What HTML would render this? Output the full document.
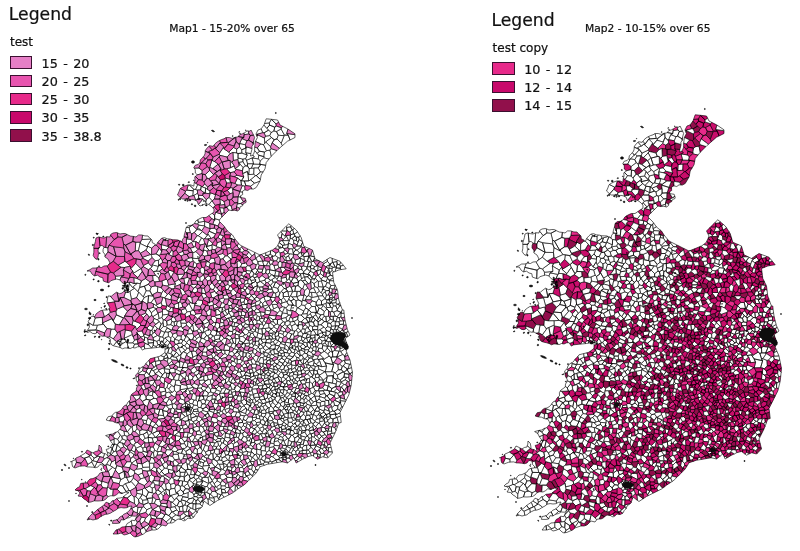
<!DOCTYPE html>
<html lang="en"><head><meta charset="utf-8"><title>Maps - over 65</title>
<style>
html,body{margin:0;padding:0;background:#fff}
body{width:800px;height:551px;position:relative;overflow:hidden;font-family:"DejaVu Sans","Liberation Sans",sans-serif;color:#111;-webkit-text-stroke:0.22px #111}
svg{position:absolute;left:0;top:0}
.ttl{position:absolute;top:21.7px;font-size:10.7px;line-height:14px;white-space:nowrap}
.lg{position:absolute;width:160px;height:150px}
.lt{position:absolute;left:-1.2px;top:0.7px;font-size:17.2px;line-height:20px}
.ln{position:absolute;left:0;top:30.6px;font-size:12px;line-height:16px}
.row{position:absolute;left:0;height:12px;white-space:nowrap}
.sw{position:absolute;left:-0.4px;top:0;width:20.6px;height:10.6px;border:0.8px solid #3a1030}
.lb{position:absolute;left:31.6px;top:-0.8px;font-size:12.8px;line-height:16px;word-spacing:1.3px}
</style></head><body>
<svg width="800" height="551" viewBox="0 0 800 551">
<defs><filter id="soft" x="0" y="0" width="100%" height="100%" filterUnits="userSpaceOnUse"><feGaussianBlur stdDeviation="0.32"/></filter><path id="g0_0" d="M222.7 418.6l-2.2-2.3-2.1-.2-1.9 1.9 1.3 2.5 3.4 1.1zM210.3 379.8l2.1-1.2 .2-4.4-5.6 1 1.2 4.4zM229.9 347.2l.9-.4 1.7-3.6-2.2-.4-4.9 2.1 .6-.2zM190.6 465.7l1 2.6 .6 1.2 1.1-2.3-.1-2.4zM160 344.6l-2.2 .1-1.5 1.7 .2 1.2 1-.1 2.1-.4zM112.8 436l1.3 2.1 3.6 1.3 2.7-4.2-2.4-3.8-.4 .4-1.6 .4zM343.3 366l2.1-2.8-1.2-3-1.9 .7-2.9 3.1 2.8 2.4zM302.8 425.2l-2.5-2.3-1.6 2.2 .4 2.2 1.4-.7 3.1-.8-.7 0zM162.5 285.1l5 1.1 1.2-1.2-1.2-4.6-1.4-1.2-4.2 1.7zM297.7 308l-1.6-2.1-4.3-.7-1.5 5.8 1.9-.6 3.5 1.7 1.7-4.4zM292.7 230.1l1.3 4.2 3.6-2.3-1.4-2-2.1-1.8zM242.2 467.2l1.6 2 3-3 1.1 .3-1.2-3.5-2.5 2.4-1.7 .6zM182.9 458.5l3.5 .5 1.1-.3 .2 .2-1-4.6-2.5 .1zM258.2 263.4l-2.1 1.3-.8 3.7 2 1.5 .8-1 1.1-3.6zM315.3 319.5l1.4 1.4 1.8-1.9-2.5-4.3-3.2 2zM181.7 412.1l-.1 .4-.4 .2 4.3 3.9 2.4-.8-.7-.1-1-4-1.4 .3zM169.4 365.5l-1.4-.4-3.9 2.7 .1 1.1 5.3 .5 1.1-.8zM240.9 351.1l.3-.7-4.7 1.8 .9-.1 1.5 1.8zM252.7 420.8l-1.7 .6 2.4 4.1 2.9-.5 .2-2.4-1.9-2.1zM351.6 367.8l-.8-3.7-1.5 .2-1.3 4.5zM312.5 326.7l.1 3.9 .5-.9 4.5-.1 .3-3.1-3.4-.6zM329.3 422.9l-1.7-1.3-3 .7-.4 1 2.7 1.9 1.6 .4zM216 293.2l-1-2-4.5 1.8 1.1 4.2 2.4 1.2-.2-.6 4.9-3.5zM332.4 262.5l4.5-.8 .7-1.3-5.6-2.1zM344.7 341l-1.2-.9-.6 .4 0 1.8 .9 .5 .8-1.1zM214.3 206.8l1-1.4-3.3-4.7-3.2 3.8 2.2 1.5 1.9 1.9zM167 404.7l-.5 1.5 5.9-2.4-.9-2.7-2.4-2.5-2.8 4.4zM154.9 361.1l.6 .3 3.8-.7-1.3-3.9-3.4 .8zM328.8 303l2 .7-1.9-5 .1 1.2-2.1-.2-.5 3zM169.2 392.1l2.5 3.3 4 2.2 .4-2.6 .6-2.7-2.1-1.8-2.4 1.7zM291.1 225.7l-2.3-1.9-2.8 2.7 .6 1 4-.5zM280.7 372.3l-2.5-1.9-2 3.2 2.1 2.2zM313.5 322.3l1 3.6 3.4 .6 .3-1.5 0-3.3-1.5-.8-1.4-1.4zM326.4 340.8l1.6-3.3 .1-1.6-2.2-.2-.1 .4-1.2 1.2 .3 3 .4 1.4zM224 467.3l-1.2 2.3 3 1.7 1-1.3 1.1-3.4-.9-.6zM138.2 475l4.3-2 .2-2.5-.9-2-5.5 .6-2.3 1.6 .8 2.3zM309.6 430.7l-1.1-.5-1.8-.9-1.9 2.8 2.3 3.9 3.1-2.6zM117.2 444.9l-2.8-1.2-2.3 5.1 1.6 3 2-.6zM219.3 339l1.2-3.9-4.5 .1-2 .9 .9 3.7zM324.4 358.9l-2-.1 2.7 4.1 8.5 1.8-1-1.6-1.7-5.7-1.8-1.3zM340.1 305.4l-2.8 3.9-.3 1.3 4.2 1.9 1.2-2.7-1.4-3.7zM320.8 314.9l2.9-.4 .7-3-3.6-3-1.7-.4-2 5.1zM194.6 381.4l3.7-2.4-2.4-3.3-.5-.6-2.3 1.8-.8 2.5zM174.9 488.3l.9-3-1.4-2.1-3.9 1 .4 4.8zM305.9 347l-2.3 1.8 1.5 1 3.3 0 1.2-1.5-2.3-2.1zM279.1 267.8l-1.2-3-3.9 .7 1.1 4.7zM270 150l-3.5 .7-2.1 1.3-1 5.8 5.6 1.3 2.2-2.9 .1 0zM192.4 441.7l2.6-4.3 0-.6-1.9-2-4.1 2.8 2 4.1zM270.6 350.9l-2.2 2.4 .3 .4 1.2 1.8 2-1-1.5-2.7zM221.3 352.1l2 2.3 1.8-.8-.2-3.3-1.2 0-3.6-1 1.3 1.1zM134.6 344.1l-1.8-1.3-5.5 0 .7 5.4 2.1 .4 2.4-1.1 .8 .2zM129.8 467.8l1.7-4.2 .8-.9-2-1-3.4 0-3.6 5.1zM174.6 317.3l-2.9-1.2 .8 1-1.4 2 .8 2.4 2 .5 2.5-.9zM160.3 341.6l-1.1-1.6-2.5 1.2 1.1 3.5 2.2-.1-.7 0 1.2-.7zM257.9 333l4.6 1.6-.6-6-3.4 .3-.7 4zM313.2 365.6l2.4 .9 2.5-.6-1.7-1.8-2.6-1.5zM151.6 420.6l-3.8-3.1-1.2 3.1-.7 3.5 4 1.6-.1-.7 1.9-4.2zM260.8 164.4l-1.1-.2 .7-3.5-2.1-1.8-6.3-1.1 1.6 6.4zM154.5 449.6l2.1 2 2.8-5.7-4.4-3-.1 .5-1.8 3.5zM287.2 363.2l.9-.2 1.4-3.9-3-1.2-1.8 2.4 .3 .5zM178 493.2l.5 2.7 2.9-.3 2.3-1.6-.5-2.1-2.8-2.3-4.4 3.2zM325.4 371.9l6.2-.1 2-7.1-8.5-1.8 1.4 3.3-1.3 5.7zM280 310.6l2.4 1.9 2.5-5.4-2.6-.4-3.1 1.9zM324 327.1l1.4 1.4 2.2-1.9 .2-3.7-1.1-.8-.3-.5-2.3 0-3.2 3.3zM178.6 511.6l-1.8-1.7-4.5 2.2 3.6 2.9 2.1 .8zM195.9 500.7l-1.8-1.8-2.1 4.2 1 .6 3.1 .2zM198 486.3l1.4-.3 .2-.6-3.3-1.8 .3 .9-.3 .4 .7 1zM238.9 463.3l-3.6-3.4-.9-.8 .5 5.7-1.2-.1 5 .3-.4-1.7zM222.2 411.2l.8 2.1 2.2 1.1 1.5-1.2-1.8-3.6-.6-1.4zM246.7 455.3l.7 .5 2.6 0 1.4-3.5-3.4-.6zM286.4 446.3l4.5 2.2 1-.7-.1-1.7-1.4-.7-2.5 .2-.7 .5zM293.9 243.3l-.3-3.2-1.7-1.5-1.7-.3-.9 2.3-1.5 3.8 .7-1.1 3.9 1.6zM268.6 369.6l-.6 2.8 2.2 1.3 2.5-1.5-3.6-2.4zM335.2 373l3.2-3.1-.4-5.5-4.1-1.8-1.3 .5 1 1.6-2 7.1 2.5 .4zM332.2 426.7l1.2-3.7-.5-.4-3.6 .3-.8 2.7 .4 .7 2.4 .7zM278.8 351.4l2.4-1.2-.6-2.6-1-1.4-2.9 3.8 1.7 2.6zM219.6 386.4l-.4-.7-3.6 3.6 .8 .5 4.4 1.9 1-2.5zM280.6 342.4l0 1.1 4.3 1.7 .3-.9 .5-2.1-.4 .4-2.5-.9zM330.9 332.9l-1.1-1.1-3.8-1.5 0 1.5-.1 3.9 2.2 .2 1.3-1.4zM229.6 367l-2.3-.3-1.2 .3-.8 3.8 1.4 1.3 3.3-2.5zM145.9 311.2l-.5 2 1.5 .8 2.3 3.3 2.7-2 .3 1.7-.8-4.2-3.9-5.1zM139.5 435.8l-.7 .3 1.1 2.6 2.9 2 2.2-2.5-1.6-4-3.5 .5zM345.4 339.7l-.1-.3-1.4-.6-.5 .2 .1 1.1 1.2 .9zM153.9 318.5l3.4 1.4 1.9-1.6-1-5-5.5 3.4zM174.5 282l.8 1.8-.8 2.9 5.7-2.1 1.4-1.8-2.7-3.4zM324.5 351.5l3.2 2.4 2.7-2.5-3.1-3.4zM164.4 468l-2.9 3.5 3.1 3.3 4.1-1.7-.2-3.8-1.8-1zM164.9 331.9l3.1 .4 2.3-1 1.2-.9-4.3-2.6-2.6 4.4zM201.2 492.5l3.7 .5-.1-4.1-2.2 .3zM249.5 336.4l-.3 .5-.7 3.6 .5 .7 3.8-2-.2-1.2zM163.5 476.2l-1.9-.3-1 1.7-1.7 3.4 .5 0 4.9 1 .1-4.4zM319.1 308.1l-2.6-2.9-1.3 1.3 1.4 5.9-1.5 .7 2 .1zM117.1 332.6l-2.1-3.4-4-.2-1.3 7.8 3.7 2.1 6.2-8.6zM167.2 325l-1.7 1.6 1.7 1.2 4.3 2.6 .5-.7 1.6-3.5-2.7-1.6zM150.5 254.4l.7 .9 .4-.8 .1-6.4-3.6-1.8-2.3 3.8zM201.6 237.9l2.1 1.3 .9-.5 2.8-3.4-4.9-3.7-4.3 4.2zM318.2 325l2.7-.1 3.2-3.3-2.4-2.7-.3 .7-3.2 2.1zM332.6 363.1l1.3-.5 4.1-5.7-5.3 0-1.8 .5zM308.2 449.8l-1.5-.1 .2 .5-.8 3.7 .7 .1 3.6-1.1-.2-.5zM346.2 332.5l1.5 3.9 .1 .2 2.2-1.6-1.8-3.6zM178.5 380.1l-2.7 .2-.9 4.6 5.5 .9 1.4-1.4-1.3-1.6 .2-1.5zM301.3 360.7l-3-2.9-1.8-.6 .3 3.1 2 .2 1.1-.1zM209.4 409.9l-3.4-2.8-3 1.6-.2 1.9 4.3 1.3 1.9-1 .7-1.2zM296.5 357.2l1.8 .6 2.1-1.6-3.7-3.7-2.1 1.8-.4 .7zM151.4 369.7l1-1.3-4.7 0-.2 .3-1.4 2.6 2.9 3.4zM214 373l-1.5 .5 6.3 3.4 .1 1 .4-2.3-.2 .3-2.2-4.2zM279 345.9l-2.9-.6-.6-.6-.6 4 1.8 1.3 2.9-3.8zM169 348.4l2.3-1.2 1.7-.1-3.1-4.6-2 2.9 .1 2.5zM202 403.9l-1.4 3.7 2.4 1.1 3-1.6 .2-1.7-1.1-1.6zM309.4 378.3l1.4-1.3-3.1-2.9-1.5 .1-1.8 2.4 .7 2.3 1.3 .3zM282.4 455.4l-2.1 .1-2.3 .6 1.4 1.3 1.5 .8 1.8-1.9 .2-.3zM311.3 312.4l5.3 0-1.4-5.9-3.6 0-3 3.2zM136.7 297.7l2.1-5.5-.8-.7-3.5-3.3-4.7 3.1 1.6 7.9zM200.4 425.7l-.3 .7-.9 .5 .2 3.7 1.9 2.8 3.2-3.1-1.6-3.3zM217 461.2l-3.7-2.2-1.4 1 0 2.7 3.2 4.4 3-3.4zM217 461.2l2-1.2 .6-2.7-2.7-1.5-3.1 3.5zM260.9 458.9l-1.1 1.2 1.4 4.3 2.1-.5 1.5-1.9-.2-.5zM184.7 403.6l-2.1 .7-1.8 2.9 1.3 .3 3.3-1.1 .2 .4-.2-4.5zM341.5 387.1l2.5-2.7-2.6-2.2-.1 .4-2.3 3.7 1.8 1zM207.9 305.6l1.6 .5 3.6-1 .6-.8-1-3-5 1.3zM243 161.6l-4.4 .7 4.4 5.3 2.6-1.6zM182.6 481.2l1.9 .1-.3-4.2-.4-.4-3.9-.8 .2 1-2.3 3.3zM213.7 433.9l-.5 4.3-.1 .7 2.8 1.6 1.9-2.2-1.1-2.1-1.7-.7zM333.5 306.1l-.9-3-1.2-.7-.6 1.3-2-.7 2 4.4 1.6 .6zM190 488.3l-2.3-4.7-3.7 2.8 1.5 2.3 3.5 .4zM164.9 378.5l2-1.6-.3-3.8-1.6-.7-2.4 2.2-1.3 2.3zM303.8 420.3l-3.7-1.6-1.2 1.1 .6 1.6 .4 1.2zM313 341.4l-1.1-3-1.1-.6-2 4.5zM199.5 371.1l-2.4-.7-3.4 2.7 1.7 2 .5 .6 3-2.4zM195.8 510.9l-3.3 3.1-1.7 1.1 2.9 2.1 .3-.2 1.2-2.4 1.9-1.9zM174.9 506.6l-5.4 .8 2.3 4.5 .5 .2 4.5-2.2zM292.7 330.7l-1-4.9-1.7-1.4-3.1 1.5 .7 1 3.6 3.3zM316.3 334.7l1.5 .7 .2-5-.4-.8-4.5 .1zM344.7 349.1l1.8 1 .8-4.2-2.3-.4-.5 2zM301.4 370.4l2.1-.6 .2-1.7-3-2.3-.5 1.3 .8 4.1zM193.8 495l0 1.6 2.6 .1 2.5-1.9-.8-.7-2.5-1.2zM317.9 334.4l2.6 3.2 3-2.8-1.6-2.2zM336.5 342.9l-.3-.5-.2 1.5-.3 .6 2.5 0 0-.3zM198.5 478.1l3.8 3.5 .5 0-1.1-1.5 .6-2.5-2.6-2.1-.6 .5zM190.5 412.7l1 1.6 .9-1.4 .8-1.4 .5-1.9-1.5-1.6-1 2.2zM260.8 442.5l-2.1 1.1 2.9 2.6 3.2-.5-1.9-2.6zM209.7 409.7l-.7 1.2 4.8 1.8 1-3.5-.9 0zM188 482.2l.9-2.2 1.4-1.1-1.6-5.1-4.5 3.3 .3 4.2zM329.3 295.5l.5 2.4 2.5-.1 1.2-.2-1.6-2.9zM183.1 340.4l.9-.1 1.8-3.1-2.5-3.5-2.1 2.2-.3 3.4zM339.1 332.1l1.1-.3-2.5-2.3-1.4 .2 0 2.5zM205.6 401.4l-1.7-2.4-3.6 1.4 1.7 3.5 3.1-.1zM209 498.7l-1.1 .5 .4 5.1 1.7 1.2 4.1-2.8zM186 372l-6.2 2.3 3.7 3.5 1.1 1.2 1.8-3.8zM111.1 455l2.6-3.2-1.6-3-.1-.8-1.5 5.4-.4 1.9zM339.8 341.6l.7 1.4 1 .2 .5-.7-.4-.7-1.8-.3zM314.6 286.5l-1.1 1.4 2.4 4.8 .7 .7 3-2.1-2-3.8zM273.5 349.3l-4-1-.9-.4 .6 .7 1.4 2.3-.2 .9zM168 357.5l.1 1.1 2.1 0 2.4-4-1.9-.8-2.9-1.1-1.7 .9 .3 .3zM304.7 351.9l.4-2.1-1.5-1-2-.3-.7 1.7zM335.2 336.1l.6-1.9-2.6-.6-.6 3.2 2-.3 .6 .1zM234.4 459.1l.9 .8-.2-1-2.5-3.5-2.6 .3-1.5 4.9 1.8 .3zM303 343.8l-2.6 2.4 1.2 2.3 2 .3 2.3-1.8zM220.5 318.5l.1 4.2 3.2 0 .2-2.3-3.2-2.2zM200.9 411.8l1.9-1.2 .2-1.9-2.4-1.1-2.2-.1-.8 1.2 .5 2.9 1.1 .8zM203.5 477.3l-1.2 .3-.6 2.5 7.4 3.8-1-6.6zM244.2 317l-.1 1.7 .9 2.6 3.4-1.8 .5-2.2zM142.3 271.4l-1.1-3-.3 .2-7.9 4.8 4.9 4.3zM265.9 457.7l-.6-2.5-2.9 1.4-1.5 2.3 3.7 2.6zM294.1 383l-.7-.9-1.2-2.2-1.4 .1-2.4 .5 3.8 3.4 0 1.6zM338.9 338.6l.6 .2 .6-.7-1.5-1-.3 .4 .1 .8zM210.2 288.9l3.2 .8 1.9-3.4-1.1-.4-1.8-3.2-3.3 2.9zM335.1 321l.1 4.8 .6 0 3 .2 .8-1.5-.7-3-3.1 .3zM146.8 509.8l4.9-2.3-1.9-3.9-1.5-.9-4.7 2 .1 2zM336.7 356.9l2.5-5.9-4.6-.5-2.1 .8 .2 5.6zM333.4 332.2l-.1-2.3-2.4-1.1-1.1 3 1.1 1.1 1.6 .7zM245.4 144.8l1.6-4.1-5.2-2.2-2.6 5.9 .4-.7zM280.3 436.6l-.8-1.4-3-.8-2 2.6-.2 .2 1 .8 3 .5zM135.7 525.5l1.7-3.3-1.9-3.1-.6 1.6-3.2-.5-.5 .6 .9 5.3zM171.5 496.1l3.1 4 1.8-2.2 2.1-2-.5-2.7-8.3 2.5zM138.4 373.8l4.2-3.1 .8-3.1-1-.6-1.8 .8-1.6 2.2-.9 2.7-.3 .3zM249.8 330.3l3.4 1.9 1.6-.8 .7-.9-3.3-2.1-1.5 1.7zM198.9 490.6l1.4-.7 .4-.1-.9-.7 0-.1-.4 .3-.3 .6-.2 .6zM132.9 431.3l2.2 .4 1.9-3.1-.7-4.1-2.7 1-1.6 1.2zM339.2 351l-2.7 6.3 6.4-2.8-2.1-2.8-.8-1.5zM90.8 485.4l-1.3 .7-4.2 2.5 1.8 2.2 3.6 .4 3.7-3.8zM175.8 411.1l1.4-2-.2-1.1-2.2 1.3-.8 3.2zM185.5 488.7l-2.3 3.2 .5 2.1 4.3-1.2 1.5-1.4-.5-2.3zM197.5 405.5l0-3.9-1.6-1.6-1.9 0-1.4 3.7 1.2 1.5zM216 323.1l.7-4.7-1.7-2-3.6 0-.4 2.5 2.8 3.5zM325 342.9l-2.2 1-.2 1.8 4.5 .6 .5-.1 .6 .4zM319.8 337.5l.7 .1-2.6-3.2-.1 1-1.5-.7-1.5 0 .2 2.8-.2 2.5 2.4 .5 1.6-2.9zM164.1 367.8l.6-.5-6.1 2.6 .1 1.2 3.9 3.5 2.4-2.2-.8-3.5zM197.1 489.8l0 .5 .1 0 1.7 .2 .2-.6-.7-.7-.8 .3zM251.6 469.4l1.9 3 2.2-2.9-.3-2.3-1.8-1.7-.9-.3-.3-.5zM185.5 308.3l-4.3 1.8 .9 4.1 3 .1 2-2.5zM202.7 440.2l0-3.8 0 .2-5.2 3.5 1.2 .8-.9 0 3.5 .8zM315.7 351.1l-2.9-.8-1.4 2.5 1.4 1.2 1.6 .9 1.6-2.8zM190.3 478.9l3.8-1.7 .5-2.4-4-.3-1.5 .7zM180.9 354.3l-1.7 1-3.2 1.9 1.9 3.4-.3 1.3 2-1 1.1-3.2zM194.8 486.4l-1.3-1-1.3 .4 1.3 3.2 2.1-.4 .2-.7zM101.6 481.7l-5.5-3.5-.6 3.6 2.4 3.2 3.3-.2 1.1-3.6zM220.4 406.4l1.8-.2-1.3-2.9-2.8-.1 .1 .6-.1 2zM300.3 355.1l-.7-4.3-.1 .3-1.9 .2-.9 1.2 3.7 3.7zM269.9 379.6l-1.6 .1 .9 4.5 1 0 2.6-2.3-.9-1.9-2.8-.5zM328.5 316.2l-2.7 .2 .6 5.2 .3 .5 3.6-2.7-.8-2.6zM287.9 350.5l1.8-1.7-1.1-.6 .5-.6-3.9-3.3-.3 .9-.2 2.7 .1 1zM331.4 302.4l1.2 .7 3.4-.3 .5-4-1.4 .9-2.8 .5zM329 299.9l.8-2-.5-2.4-.9-.6-2.1 .2-1 3.7-.9 .2 2.5 .7zM169.8 383.3l-1.6 0-1.3 4 1.8 1.8 3.1-3.7zM321.6 401.4l-2.5-2.6-2.5 2.8-.7-.5 .6 1.3 3.9 .6zM286.8 398.3l.3-.9-2.5-.9-1.9 1 2.4 3.5zM195.3 340.7l2.1 1.3 1.4 1.4 1-2 2-3.4-1 .2-.7-1.8-3.4 2zM296 392.8l-1.9 0-2.5-2.1-1.7 2.7 .4 .5 .9 .9zM324.1 321.6l2.3 0-.6-5.2-1.7 .1-2.4 2.4zM264.1 428.9l-1-2.2-3.7 1.6 .5 1.4 2.4 2.7zM182.8 251.3l-4.8 2 .7 .8 2.5 1.9 3.2-1.6zM217.4 493.4l-.2 3.1 1.3 2.5 2.4-4.2zM187.7 505.7l-1.8 6.3 2.8-.7 0-1.1 2.2-2.2zM330.6 264.3l-.6 0-2.5-3-3.8 2.3-.8 1.1 2.9 2.1zM236.5 437.1l2 .7 1.6-4-4.1-1.3zM309.6 348.3l.5-.7 1.2-2.8-2.8-2.9-1.5 .9 .3 3.4zM349.3 364.3l1.5-.2-.8-4.1-.1-.2-4.6 .3-1.1 .1 1.2 3zM244.5 250.6l-2.9-3.6-2.4 2 1 .2-.7 2.4 2.6 .9zM322.3 348.4l-3.4-.2-1 2.9 3.3 2 2.9-1.6zM142.2 494.5l.3 .2 0-5.4-5.9 1.5 .2 2.5zM232.9 409.6l.3 2.3 3.8 .1 2.6 .8-.4-.7-1.1-3.6-4.2-1.4zM336.1 384.2l.9-3.1-1.6-2.1-2.5-1.5 .1-1.8-.5 7.5zM322.2 341.1l-3.4-3.5-1.6 2.9 .1 2.1 2.1 .9 2.1 .3zM331.4 302.4l.9-2.2-.4-.6-3-.9 1.9 5zM156.2 365.5l-.2 .1-2 1.8-1.6 1-1 1.3 2.2 .9 3.8-2zM200.7 487.6l-1-.2-.6 .5 .7 1.1zM288.7 299.4l1-2.4-.9-.5-5.6 0 .3 1.3 3.5 4.5zM297.6 346.5l-1.9 .6-.8 2.6 .5-.8 2.2 2.4 1.9-.2zM182.1 485.6l-1.9 .6 .2 3.4 2.8 2.3 2.3-3.2-1.5-2.3zM342 345.1l-1.6 .4-.5 .4 .2 2.1-.5 .9 3.8-1.2-1.6-2.3zM309.7 321.9l-1.3-.1 1.1 3.5 3 1.4 2-.8-1-3.6-2.5-.7zM170.7 373.2l4.6-.5-.1-3.7-2.2-.9-2.4 .5-1.1 .8-.3 4.4 .8-1.9zM287.9 445.6l.6-5.3 .5-1.5-1.4-.3-3.7 2.7 1.9 4.3 1.4 .6zM322.4 358.8l2 .1-4.5-4.3-1.8 1.6-.6 2.6 .5 .8zM285.2 448.9l-.3 1.8 1.1 1.4 1.7 .4 .6-.9-2.5-2.9zM298.1 434.8l2.3 .2 1-1.6 .4-2.4-2.5-1.1-1.1 2.8zM327.7 353.9l1.4 2.2 1.8 1.3 1.8-.5-.2-5.6-.1 .8-2-.7zM318.2 321.7l3.2-2.1-2.1-2.5-.8 1.9-1.8 1.9zM311.2 418.7l.9-.1 1.3-3.7-1.7-.3-2.6 .4zM176 357.2l-3.1-.5-.3-2.1-2.4 4 2.3 1.4 5.4 .6zM300.9 350.2l.7-1.7-1.2-2.3-2.2-.3-.6 .6 1.9 4.6 .1-.3zM204.8 278.4l-.9-3.7-4.2 2.7 .3 3.9 2.4 .2 2.7-3.3zM284.1 336.8l1.8-.6 2-3.5-2.1-1.1-1.8 0-1.2 2.6zM224.2 387.8l-.2-3.2 0 1.4-4.4 .4 2.2 2.8zM329.8 331.8l1.1-3 .2-1.4-3.5-.8-2.2 1.9 .6 1.8zM221.9 335.8l-1-.3-.4-.4-1.2 3.9 1.6 2.5 .1-.1 3.1-3.2zM284.8 455.5l.1-1-.2-.5-1.1 .5-.8 .9zM336.8 336.5l1-1.3-.9-1.8-1.1 .8-.6 1.9zM181.4 370l4.2 1.8 2.8-3-.4-.9-6-.6 1.3 .4zM202.2 418.3l-4.1-2.4-.6 .5-1.1 3.9 2.3 1.3 .5 .1 2.3-1.7zM342.5 329.5l1.5-4.2-.5-1.1-3.9 .3-.8 1.5-.4 1zM310.7 335.6l-2.9-1.9-2 4.6 .6-.1 4.1-1.5zM344.4 356.9l3.6-1.6-1.3-3zM149.8 425l3.1 2.2 3-3.7-.1-.3-4.1-2.4zM173.6 346.3l2.6 4.2 2-2.8 1.6 0-3.3-3.5-1.3 .1zM216.4 246.1l-4.2-1.6-.3 .6 .1 4.4 3.1 .3 2.5-2.8zM335.4 379l2.8-.4-.9-3.6-2.1-2-1.1-.8-1.2 5.3zM193.9 490.4l1.2 .4 1-.9-.5-1.3-2.1 .4zM319.3 375.3l5.8-3.6-6.4-2.8-1.5 1.9 .6 3 1.6 1zM189.6 424l3.3 .1 .7-1.5-.5-.9-1.5-1.4-3.1-.9zM273.1 400.5l-.4-.4-1.8-2.9-2.5 1.5 1.1 2.8-.6 .6zM190.3 478.9l-1.4 1.1 3.8 2.8 2.8-3.2-1.4-2.4zM295.3 341.9l-.5 3.9 .9 1.3 1.9-.6 .6-.6 .6-3.5zM302.4 328.7l-1.3 2 0 .7 1.8 2.7 2-1.2 .6-3.6zM303 343.6l0 .2 2.9 3.2 1.4-.8-.3-3.4-2.6-.8zM326.4 308.5l-3-2.9-2.6 2.9 3.6 3 2.6-2.5zM180.1 419.8l-4.6 3.7 1.6 .6 2.2 1.7 1.9-.2 .5-5.9-1.4 .2zM342.8 331l2.3 1.4 1.1 .1 2-1.1-.7-1.4-.4-1.6zM246.9 422.6l-3.3 1.1-.3 2 2.6 1.7 1.4-3.7zM295.4 348.9l-.5 .8-4.3-2-2 .5 1.1 .6 2.1 3.5 2.4 .5zM272 461.9l-1.8-.6-1.5 .8-.4 2 3.9-.6zM198.3 493.3l2.8-.9-2-1.5-1.2 1zM160.7 392.1l.5 4.1 4.3-1.2 .6-2.2-.4-1.8zM220.7 456.5l1.2-3.6-2.5 1.1-3.4 .3 .9 1.5 2.7 1.5zM160.8 493.3l2.4 2.6 3.3-2.4-1-4.3-1.2 1.2-2.9 2zM313.5 373.8l1.9 .6 2.4-.6-.6-3-3.2-.8zM303.6 425.8l2.1 2.8 1.2-3.3-.4 .1-3.6 .4zM273.9 443.7l.4 1.7 5.3 .5 .4-2.5-2.1-2.7-3.8 1zM228.7 469.9l2.7 1 .6-2.9-1.2-1.1-2.9-.3-1.1 3.4zM269.2 348.6l-.6-.7-3.5-2.7-1.4 2-1 .7 2.9 2.5zM341.7 338.8l.5-1.7-.1-.5-.4-.5-.8 .6-.7 1.7 .8 .3zM312.8 359.8l-.6-1.8-2.7-.1-1.7 2.7-.4 .3 .6 2 6.1-2.4zM165.5 309.1l2.8 2.2 3.1-3.8-3-1.1-1.9-2.3 .2 2.3zM168.5 336.6l2.3 1.2 1.6-1.6 .3-2.1-2.4-2.8-2.3 1zM275 386.6l.1 3.3 2.7-1.3 1.5 .6-.4-1.5-1.9-1.6zM336.7 340.3l.1 .2 1.4 .8 .4-1.1-.1-.3-1.2-.6zM291.4 364.2l-.1-1.3-3.2 .1-.9 .2-1 2.1 1 1zM338.8 326l-3-.2-1.3 3.8 1.8 .1 1.4-.2 .7-2.5zM199.7 487.4l1 .2 1.4-2.3-1.2-.5-1.3 .6-.2 .6zM337.3 316.7l3.5-4.4-3.8-1.7-3.4 1.4 1.5 4.1zM287.6 326.9l-.7-1-2.1-1.5-2.7 2.1 3.4 2.9zM284.2 435.5l-1.7-2.4-3 2.1 .8 1.4 2.3 .8zM338.9 321.5l.7 3 3.9-.3 0-3.5-3.5 .2zM155.7 374.5l-2.1-3.9-2.2-.9-2.4 5 2.6 1.7zM157.9 451.6l-.8 3.6 5.4-.3 1.1-2.4-2.6-1.1zM176.4 321.1l-2.5 .9 .7 4.1 1.8-.8 1.1-4zM261.9 328.6l.6 6 .8-.7 1.3-.2 1.7-2.7-1.3-2.5-2.1-.1zM197.3 470.5l3.4 2.8 1.5 0 2.4-2.1-1.1-2.4-6.2-.8zM308.5 309.6l-1.3 4-.1 2.7 3.2-2.5 1-1.4-2.7-2.7zM112.6 467.2l-4.3 3.9 1.5 5.4 2.5 .3 3.1-6.6 .2-1.1zM310.8 337.8l1.1 .6 3.1-.9-.2-2.8-4.1 .7 0 .2-.2 1.1zM121.2 276.9l2.8-1.5-8.6 .8 .1 3.1 1-.3 3.5 1zM187.2 406.1l1 .7 1.4 .2 .7-.5-.8-1.7-1.5-.3zM340.8 313.3l.2 3.4 .6 1.4 3-1.1-.5-3.8zM250.3 395l3.7 .2-.8-.8-1.1-3.9-2.9 1-1.8 1.7 .6-.5zM188.5 419.4l3.1 .9-.5-2.1-.6-4.3-3.3 1.8 .7 .1 .5 4.8zM246.7 438.3l.5 2.6 2.1 .1 1.4-2.7-1.4-1.7zM299.7 390.7l.2 1.8 1.8 1.5 .9-3.4-3.3-.7zM164.8 474.8l-.2 0-3.1-3.3 .3-.8-2.6 3.3 2.4 1.9 1.9 .3zM301.6 279l-1.2 1 1.9 .9 3-.6-.5-3.3-.8-.7zM196.1 503.9l-3.1-.2-.3 5.3 3.2 1.3-.1-1.4 .2-4.9zM165 343.9l-.9 0-1.1-1.9-2.7-.4 .2 2.3 2.5 1.4zM307.7 374.1l1.8-2.7-.2-1.5-3.9 1-.6 2.4 1.4 .9zM331.7 341.3l-2.1 .1 1.7 4.4 2.4-2.4-.4-1.3-.3-.6zM156.3 346.4l-3.2-1-1.6 2.7 5-.5zM336.7 340.3l.6-1 0-.2-.6-.5-.4-.1-.9 .5 .3 1zM333.5 320.3l-1.2 1.3 2.8-.6 .7 .8 1.8-4.6-.3-.5-2.2-.6-2 0zM197.3 491.6l-1.3 .8-.4 .5 2.5 1.2 .2-.8-.4-1.4zM336.5 342.9l1.7 1.3 .7-.4 0-1.7-.4-.5zM181.4 326.4l.8 1.8 4.5-2.8-.5-2.3-5.4-.1zM272.8 402.7l.3-2.2-4.2 1.6 1.5 2.9zM321.6 366.7l4.9-.5-1.4-3.3-2.7-4.1-4.4 .8 1.7 1.5zM321.9 332.6l1.6 2.2 2.3 1.3 .1-.4 .1-3.9zM315.6 377.6l3.3-.1 .5-2.7-1.6-1-2.4 .6zM200.4 425.7l2.5 1.3 2.1-1.2-.9-3zM196.6 484.5l-3.7-1.2 .6 2.1 1.3 1 1.5-1.5zM147.9 377.3l3.7-.9-2.6-1.7-2.9-3.4 .1 1-2 2.5 1 3.3-.2 .3zM251.3 168.2l-2.2 .4-.4 6 5.1-.3 .3-6.3zM239.6 285.3l2.7-1.7-2.4-3.7-2.4 1.8 .1 2.9zM287.8 291.9l1 4.6 .9 .5 .9-.8 2-4.5-.1-.8zM278.1 340.6l.6 .3 1.9 1.5 2.2-.7-.1-3.7-3.2-1zM190.3 351.5l-1-3.3-2.4-.1-1.6 2.5-2.2 1.1 4.2 2zM312.2 358l1.1-1-5.8-2.3-.1 1.6 2.1 1.6zM314 369.8l-4.7 1.2 3.7 4.9 .5-2.1zM162.6 374.6l-3.9-3.5-3.5 2.5 2.7 2 3.1 1.9zM287.6 373.4l.5-1.9 1.6-2.8-.5 .6-4.5 1.2 1.2 1.3zM163.5 239.8l4.7 .9 1.3-1.7-2.2-.2-2.6-1.1-2.3 .3zM275.1 389.9l-.1-3.3-1-.3-1.3 .3-2.3 3.5 1 .7 3.3-.9zM192.3 434l-3-1.1-1.2-.7-.8 4.9 .4 0 1.3 .5 4.1-2.8zM296.5 365.7l-4.8-.8-.1 3.9-.4 1.3 3.9-2.4zM195.1 267.7l1.3-1.1 .5-2.7-2.9-2.2-1.3 5.5zM274.8 344.7l1.3 .6 2.9 .6 1.6-2.4 0-1.1-1.9-1.5zM303 343.6l1.4-1.6-1.8-.5-.9-1.8-3.6 2.2 .2 .9zM282.2 356.4l2.4-.4-.4-3.8-.1 .5-3.2 .9 .3 2.3zM187.7 410.9l2.8 1.8 .7-2.5-1.7-.8zM195.1 490.8l-1.2-.4-1.6 2.2 1.5 2.4 1.8-2.1 .4-.5zM151.6 503.5l2.7-.1 1.8-3.9-4-3.6 .7 2zM202.5 450.9l.8-1.1 1.8-4.3 .1-.6-3.2-1.5-1.1 4.8zM277.8 388.6l-2.7 1.3-.4 0 2.3 3.3 0-1.1zM335.2 325.8l-3.6 .3-.5 1.3-.2 1.4 2.4 1.1 1.2-.3 1.3-3.8zM186.3 408.1l1.3 .5 .1-.3 0-.4-.9-.4zM230.7 390l1 2.6 4.3-1.4-1.4-1.7-2.9-.6zM337.3 339.1l1.1-.8-.1-.8-1-.3-.6 1.4zM123.8 431l.8 4.5 2.5 .9 2.4-1.3-1.9-3.6-.7 .2zM271.5 304l-2 1.7-.7 .6 2 3.7 1.5 .2 1.4-1.3-1.3-4.4zM201.1 492.6l.9-.6-.8 .5 1.4-3.3-.3-.1-1.6 .7-.4 .1zM154 367.4l2-1.8-.5-4.2-.6-.3-3.7 1.8zM319.4 380l3.8 .2 .3-.1-4.2-4.8-.4 2.2zM281.3 450.5l-.9-2.1-1.6-.4-1.9 3.1 .2 .5 3.2 .1zM333.4 338.9l-2.1 1.3 .4 1.1 1.3 .2 1.2-1.3-.5-1.2zM164.3 346.4l.5-.1 0-.1 .8-1.5-.6-.8-2 1.4 .4 .1zM198.6 333.2l3.8-1-3.5-3.9-1.7 2.4zM324.6 337.3l1.2-1.2-2.3-1.3-2.8 2.7zM163.4 345.4l-1 1.2 0 .1 1.9-.3zM340.1 341.1l1.4-.8-.8-1-.8 .6-.2 .2zM336.2 332.2l.7 1.2 .9 1.8 .3 .6 .8-1.4 .2-2.3zM183.5 518l-2.8 1.4 .5 0 2.8 1.6 1.4-.8zM197 485.9l-.7-1-1.5 1.5 1 1.5 .4 0zM301.8 336.7l3.8 1.9 .2-.3 2-4.6-3-.2 .1-.6-2 1.2zM165.5 489.2l1.1 .2-1-5.2-1.8-1.9-2.7 4 3.2 4.1zM182 367.3l6 .6-.4-1.5 .2-2.5-2.8-2.1-1 .8zM321 292.7l1.4 1.3 2.7-2.1 1.3-1.2-3.1-1.7zM198.4 489.2l.3-.4-.3-.9-.4 0-.4 0 0 1.6zM178.9 343.4l2.7-.2 1.5-2.8-2.2-1.1-2.2 1.2zM117.2 444.9l-1.7 7.4 4.6-2.3 .7-1.6-3.4-3.6zM311 321.6l2.5 .7 1.8-2.8-2.3-2.5zM164.1 357l-.6 2.1 4.5-1.6-1.6-3.6zM152 264.8l6.3 1.8 1.9-1.5-1.7 .5 .1-5.5-3.4 .7zM221.5 460.6l1-3.1-1.8-1-1.1 .8-.6 2.7zM324.9 427.5l2-2.3-2.7-1.9-2.3 3.5 0 .8zM282.3 452.6l.2 1.2 .6 .2 .2-.7 0-.4zM198.9 373.3l-3 2.4 2.4 3.3 .3 .1 2.9-2.8-.5-1zM313.4 346.6l2.1 .4 0-3.6-2.6-.9-.8 2.5zM338.1 335.8l.7 .2 1.8-1.3-1.7-.3zM152.8 480.6l-.5 2.3-3 3.3 2.9 1.9 2.6-1.1 .1-2.2zM114.2 445.1l0-6-3.9 1.5 .3 .6 1.9 2.4-.3 .7zM340.1 348l-.2-2.1-1.6-.6-.7 1.6zM197.6 408.7l-3.9 .9-.5 1.9 4.9 .1zM186.2 424.3l-3.5 1.1-.1 2.6 1 1.4 5-1.9-.3 0zM286.5 236.1l-3.1 3.3-.4 1.2 5.8 .1zM172.1 518.8l-.2-1-.9-.3-4.9 4.4 1.6 1.9 .6-.7 2.1-.1zM179.6 367.4l-1.7-.5-1.5 2.7 4.5 2.3 .5-1.9 1.9-2.3zM197.6 487.9l-1.1 0 .6 1.9 .5-.3zM190.3 406.5l-.1 1 2.3 .2 1.3-2.5-1.2-1.5-2.7-.2-.4 1.3zM328.8 303l-3.2-.3 1.1 4.9 4.1-.2zM301.7 339.7l.9 1.8 3-2.9-3.8-1.9-.6-.7zM290.5 412.5l-2.2 .8-.3-.6 .1 5.2 .1 .3 3.4-.2zM222 494.5l-1.1 .3-2.4 4.2 .5 .8 5.2-2.7zM309.6 348.3l-1.2 1.5 .2 1.1 2.8 1.9 1.4-2.5-.1-1.9-2.6-.8zM334.6 336.5l-2 .3-.6-.6 .4 .7 1 2 .3 .1 .5-.5zM333.2 333.6l-.7 0-1.6-.7-1.5 1.6 2.6 1.7 .6 .6zM185.5 416.6l-4.3-3.9-1.3 5.3 .2 1.8 .2 .1zM348.8 381.9l.9-1-1-3.4-2.2-.1-1.3 2.5 2.3 1.3zM291.8 352.3l-2.1-3.5-1.8 1.7-.9 2.4 2.8 .8zM152.4 451.9l-2.3 5 1 .4 2.5 .8 .8-.6-1-4.3zM168.8 348l-3.8-1.7 0 3.1zM188.4 408.8l1.2-1.8-1.4-.2-.5 1.1 0 .4 .6 .4zM185.8 408.4l1 1.3 .8-1.1-1.3-.5zM307.8 360.6l1.7-2.7-2.1-1.6-2.7 2.5zM336 425.7l-1.2 1.9 1.1 3.1 1.5-4zM149.4 463.3l4.5 0 1.5-.8-1.8-4.4-2.5-.8-2 4.8zM270.8 310l-2-3.7-3.7 2.6-.1 1.1 6 1.2zM237.4 358.9l-3-.2-.2 2.9 2.4 2.8 .6-.4 .1-4.3zM212.1 471.2l-1.7-2.8-1.6-1.6-1.7 5 1.2 .5 1.7 1.6 2.3 1.3zM142.7 527.7l1.3-.4 2 3.9 4-6-1.6-.6zM308.1 400.5l-2.2 1.9 1.3 2 3.7 1.3 .5-1.4-2.1-3.5zM220.8 482.7l-3.6-1.8-3 2.8 1.4 3.3 .9 0 4-2.9zM167.9 345.4l-2.3-.7-.8 1.5 .1 .1 .1-.1 0 .1 3 1.3zM200.7 502.8l-2.6-3.3-2.2 1.2 .2 3.2-.1 .1 4 0zM183.8 476.7l.4 .4 3.9-2.8-2.7-4.2-.2 2zM343.4 339l.5-.2-.3-.5-1.4-1.2-.5 1.7 .1 .3zM112 448l.1 .8 1.7-3.9-1.6-.6-1 1.9-1.1 1.2zM339.5 264.9l.9 1.3 3.1-.8-2.9-3.4zM318.4 414.7l-2.2 1.4 .9 3 2.8-.2 .2-.6 .2-2.9zM199.1 489.9l.3-.6-.7-.5-.3 .4zM195.8 508.9l.1 1.4-.1 .6 1.3 1.8 .1-.1 .8-2.6 3.3-2.5zM283.3 453.3l1.3 .1-.7-1-.6 .5zM196.5 487.9l-.3 0-.4 0-.2 .7 .5 1.3 1 .4 0-.5zM265.4 374.2l-.5-1-.1 2.9-.5 2.5 3.6-.5 .6-2.5zM159.6 347.1l2.8-.4 0-.1-2.5-1.6zM173.1 470.2l-4.6-.9 .2 3.8 3.6 .5 1.9-2.9zM213.5 496.9l-2.9-2.6-1-.4-.2 4.1 4.7 .1zM163.5 359.1l.3 .9 3.6 1.6 .7-3-.1-1.1zM132 515.2l-2.4 .2-3.4 3 .2-.2 3.1-.6 2.5-1.6 .4 0zM180.5 373.1l-1.2 1.6-.8 5.4 2.2 1.2 2.8-3.5-3.7-3.5zM343.5 340.1l-.1-1.1-1.6 .1 .2 1.2 .9 .2zM200.7 489.8l1.6-.7-1.6-1.5-.9 1.5zM197.3 491.6l.6 .3 1.2-1-.2-.3 0-.1-1.7-.2zM280.5 454.6l1.2-.8 .2-1.1-1.6-.4zM271.1 339l-.3 3.7 2.7-1.2 2.2-2 .4-1-3.1 .4zM110 434.4l-.1 0-4.3 1.2 3.2 1.9 0 .1zM171.7 361.2l-3.4 3.1-.3 .8 1.4 .4 4.3-1.3zM223.7 464.1l-4.5 0 1.6 4.6 2 .9 1.2-2.3zM198.2 497.8l-1.8-1.1-2.6-.1-1.5 1.5 1.8 .8 1.8 1.8 2.2-1.2zM256.3 407.7l.8 1.6 .9 1.8 2.4-2-.4-2.2zM257.5 315.6l-1.4-1-3 .9-.2 1.6 2.8 3.2zM148.3 502.7l-.4-3.1-5.4 .5 .3 4.3 .8 .3zM340.7 339.3l.3-.6-.8-.3-.1-.3-.6 .7 .4 1.1zM318.9 348.2l-1.6-1.2-.9-.8-.7 4.9 .3 1 1.9-1zM293.5 417.4l-1.9 .6 1.3 2.4 2.8-.3 .3-1.2zM330.9 316.5l-1.4 .3 .8 2.6 3.2 .9-.4-4.2zM284.8 348.9l-.1-1-4.1-.3 .6 2.6 1.9 .3zM162.4 309.1l.1 2.3 0 3.7 6.2-.9 .3-2.7-.7-.2-2.8-2.2zM313.8 362.6l2.6 1.5 3.3-3-1.7-1.5-.5-.8-4.7 1 1.3 .7zM311.2 365.8l-.8 .9 4 3.1 1.2-3.3-2.4-.9zM308.8 342.3l2-4.5-.3-1.1-4.1 1.5 1.6 3.7zM170.8 450.1l-3.1-4.8-2 3.2 .7 1.2zM311.3 344.8l.8 .2 .8-2.5 .6-1.2-4.6 1zM307.6 326.6l-2.3-1.7-2.4 1.7-.5 2.1 3.1 .6zM301.1 330.7l-3.2-2.8-2.1 2.5 2.4 2.2 2.9-1.2zM151.4 312.8l5-4.1-3.1-1.4-4.9 1.5z"/><path id="g0_1" d="M318.6 411.4l1.2 .8 1.3 1.6 2.8-1.4 .1-1.4-4.4-1.9zM157.3 319.9l2 1.6 1.8 2.8 2-1.6 .2-2.9-1.4-2.3-2.7 .8zM196.2 431.5l.4 2.9 4.4 .7 .3-1.7-1.9-2.8zM316 314.7l-.9-1.6 1.5-.7-5.3 0-1 1.4 1.9 3.5 .6-.6zM292.1 389.8l-3.3-.5-1.9 1.3 0 2.2 3 .6zM119.1 483.7l.6 1.8 2.9 .4 2.7-2.2 3.7-1.2-2.6-5.5-1.6 .4-4.3 2.4zM203.1 500.4l-.4-3.1-4.5 .5-.1 1.7 2.6 3.3 1-2zM319.6 291.3l-3 2.1 1 3.1 .7-.4 4.7-.2-.6-1.9-1.4-1.3zM302.7 364.1l-2.8-3.7-1.1 .1-.6 3.5 3.5 1zM326.7 454.7l-1.9-1.1-1.2 3.4 3.9 1 .5-.5zM298 316.2l-.3 3.3 1.4 2.4 2.6 .1-.3-.3 3.2-3.2-3.6-3.6-2.1 0zM221.2 470.2l-.4-1.5-1.6-4.6-1.1-.4-2.6 3zM102.8 324.4l-.5-7-7.1 .4-2.1 7.5 4.4 0zM192.6 331.7l-2.7-4.3-1.8 3.3-.6 3.5 5.3-.7zM183.5 449.2l2.2 2.3 4.4-2.8 .1-.9-2.7-1.6-1 .8zM272.7 364.4l1.8-1.6-.4-2-1.1-.2-2.7 .8 .1 3.1 1 .3zM315.1 390.6l1.5 .2 1.8 0 .7-2.4 .7-1.3-4.5-1.5-2.1 1.7 .3 0zM137.1 513.1l2 .7 3.2-6.6-4.4 .2zM319.9 421.7l0-2.8-2.8 .2-2.7 1.4 .8 1.3 3.3 1.5 .8-.4zM148.1 460.5l-6.2 3.5 .9 3.4 6.9-.2-.3-3.9-.3-1.2zM188 492.8l-.1 4.7 1 1.4 3.4-.8 1.5-1.5 0-1.6-1.5-2.4-2.8-1.2zM282.3 372.5l-.8-2.8-2.1-1.1-1.7 .3 .2 1.1 .3 .4 2.5 1.9zM298.2 345.9l2.2 .3 2.6-2.4 0-.2-4.2-.7zM272.3 310.2l5.4 2.6 2.3-2.2-.8-2-1.1-2.1-4.4 2.4zM161 273.4l-1.5-2.3-2.8 0-3.4 .5 2.2 3.8 3.4 2.7zM255.3 378.2l1.8 1 .4-1.2 1-3.2-3.7 1zM262.7 303.6l2.7-3-1.5-3.6 .5-.5-4.5 2.6-.2 1.5 .9 1.1zM304.8 432.1l1.9-2.8-.7 .9-3.7 .7-.5 .1-.4 2.4zM239.2 412.1l.4 .7 .9 2.4 3.8 .7 2.2-1-.7-1.4-5.1-1.6-1.1-1.4zM281.2 143.1l-4.2-4.2-2.8 .8-2 3.2 7.2 5.4 3-2.6zM307.4 360.9l-2.9 2.6 2.1 1 2.4 .6-1-2.2zM179.2 355.3l-2.7-3.2-3.6 4.6 3.1 .5zM311.3 264.8l3.2 1.8 2.7-.5-3.8-5.2 .1 .2-1.7 .5-.7 .7zM197 467.5l.3 .5 6.2 .8-.9-1.7-4.4-2.5-.2 .1zM293.3 305l-4.7-.2-2.9 3.4 1.1 1.6 3.5 1.2 1.5-5.8zM341.3 382.6l.1-.4-.2-.2-.9-2.1-2.1-1.3-2.8 .4 1.6 2.1zM209.6 482.8l3-1.6-.4-.8-2.7-4.3-1.4 1.2 .9 5.9zM139 502.6l-.5-3.4-2.8-2.6-1.8 .2 .7 6.8 1.7 2.3 .4 .7zM266 322.9l-.3-.5-2-2.2-1.6 2.7 .2 1.1 1.3 2.3zM150.8 469.7l5.6 2.9 .3-2.4 .1-1.8-2.9-1.6-2.6 2.9zM229.1 487.6l-3-.2-1.6 2 1.6 3.4 1.7-.7 2.2-3.7 .3-.6zM192.9 241.8l3-.2 2.8 1.7 2.9-5.4-3.4-2.1-1.2-.2zM192.4 412.9l-.9 1.4-1-.4 .6 4.3 5.7-2.1zM351 386.1l.2-1.1 .6-5.2-2.1 1.1-.9 1 1 4zM249.8 330.3l-1.1 .3 0 1.7 2.3 1 2.1 .2 .1-1.3zM203.8 329.2l-.9 4.1 1.6-1.4 4.6-2.6-1.8-1.6-2.4-.7zM172.4 336.2l-1.6 1.6-.5 4.6 .2-1.6 3.8 1.1 .2-2.6 .7-.4zM343.5 324.2l.5 1.1 2.2-.3-1-4.2-1.8-.2 .1 .1zM312.8 350.3l2.9 .8 .7-4.9-.9 .8-2.1-.4-.7 1.8zM193.7 409.6l3.9-.9 .8-1.2-.9-2-3.7-.3-1.3 2.5-.3 .3zM276.5 261l1.8-3.4-3.1-2.2-3.3 1.6 1.9 4.7 .5-.9zM243.8 343.1l-3.1 1.1 .6 2.6 2.6 1.7 .3 1 1.1-3.5-.2-2.4zM219.5 431l3.5-.6 .5-1.7 .5-2.2-3.4-.2-.8-.7-.6 5.6zM284.5 135.1l-3.4-6.2-4.7 2.6 1.9 3.8 5.8 .4zM189.5 404.8l.4-1.3-1.2-2.6-3.8 1.4-.2 1.3 .7-1.3 2.6 2.2zM153 294.5l4.4-2.3 .5-5.6-2.8-.8-4 1.1-1.2 3.9 2.9 5.5zM315.3 380.2l.2 1.9 2 .2 1.9-2.3-.5-2.5-3.3 .1-1.7 1.1zM170.2 358.6l-2.1 0-.7 3 .9 2.7 3.4-3.1 .8-1.2zM312.2 300.8l-2.2 2.8 1.6 2.9 3.6 0 1.3-1.3-.5 .1 .3-3.2zM183.8 476.7l1.4-4.6-5.1 .2-.2 3.6zM197.1 481.9l-1.1-2.5-.5 .2-2.8 3.2 .2 .5 3.7 1.2-.3-.9zM160.3 341.6l2.7 .4 1.1-3.2-1.6-1.8-2.5-.5-.8 3.5zM277.4 402.5l1.3 .3 1.4 .8 2.5-1.7-2.2-3.5zM178.7 279.7l2.5-.9 3.4-4.9-7.1 .7zM218.5 445.3l1.5 1.3 2-4-1.8-1.4-2.8-.1zM190.5 369.8l1.3 3 1.9 .3 3.4-2.7-2.1-4.1zM250.8 359.8l1.5 4.4 3.5 .1 .2-2-2.6-3.9zM253.5 397.3l1.3 1.2 1 3.1 1.4-.7 2.6-2-.7-1.3 .2-.4zM174.4 459.6l.9 .3 4-.9-1.2-5-5 .3-.5 2.2zM271.8 431.1l2.4-1.3 1.8-1.8-1.4-1.4-.2-.3-2.9 .8-1.5 2.5zM202.1 485.3l3 1.4 2.1-.3 1.3-2.8 .6 .3-7.4-3.8 1.1 1.5-1.9 3.2zM308.8 395.2l2.6-1.7-1.8-4.9-1.8 4.4zM347.5 391.6l-1.1 1.3-2.5 2.4 .7 3.8 1.6 1 2.6-5.1 .6-2.4zM247.8 335.8l-1.1-1.2-2 .2-2.1 1.5 3.2 2.7zM214.2 483.7l-1.6-2.5-3 1.6 2.7 3.4 2 1 1.3-.2zM300.3 355.1l2 .3 2.1-2.3 .3-1.2-3.8-1.7-1.3 .6zM166.6 489.4l-1.1-.2 1 4.3 2.9 3.4 2.1-.8-1.8-.4-.4-5.5zM222.5 362l-.8-3.4-1.7-.5 0-.2-2.6 2.6 2 2.3 .3 2.3zM306.8 454l.9 2.7 3.8-1-1.1-2.8zM224.5 306.7l1-2.2-2.1-1.5-1.7-.5-2 5 2.6 .3zM213.1 426.3l.8 1.4 4.1-3.2-.9-2.1-3.2 .3zM204.1 380.1l-.4-4.1-2.2 .3-2.9 2.8 .5 1.4zM181.8 438.4l2.3 3.2 2.6-.7 1-3.8-.4 0-4-.2zM277.9 440.7l2.1 2.7 1.3 .3 1.5-3.5 .6 0-4.8-.8zM193.1 427.5l-.1 .7 1 2.6 2.2 .7 3.2-.9-.2-3.7-2.3-.6zM316.6 444.8l-.6 1 5 2.6-.3-.6 .2-2-3.8-2zM246.9 463.8l3-2.1 .6-.6-2-3-3.7 1.6zM335.3 415l1.2 2.5 .5-.1 3.5-1.1-.5-3.5zM274.2 139.7l2.8-.8 1.3-3.6-1.9-3.8-2.5-.6-2.9 1.7-1.3 3 1.7 1.9zM279.7 396.1l-.5-3.2-2.2-.8 0 1.1-1.8 .6 1.7 2.4zM306.7 411.1l-1.3 0-1.3 1.3-.8 2 2.4 1.9 1.2-.9zM221.1 241.2l-4.1 1.6-.6 3.3 1.2 .9 3.9 1.3 .3-2.4zM283.5 407.1l-2.7-1.9-2.2 3 .6 1.6 1.6 .1 .8 .7 2.5-1.7zM159.2 474l2.6-3.3-3.3-3-1.7 .7-.1 1.8zM288.4 426.2l-.7-1.3-1-.6-2 1.7 1.1 2.5zM224.9 409.6l4.5-1.5 .3-2.5-.6-1.2-3.6 1.2-.7 2.1-.5 .5zM87.7 464.3l-.9 2.4 .5 .2 2.7 .1 2.7 .2 2.2 .4-.2-.4-2.9-5.3zM325.1 371.7l.1 .2 1.3-5.7-4.9 .5-3.6-1.3 .7 3.5zM270.2 461.3l1.8 .6 4.3-2-3.5-3-1.7-.6-1.7 2.3zM267.3 356.2l-2.9 0-1.6 1.3 .7 2.8 2.8-.6 .7-2.6zM221 486l4 0 1.2-2.3-4.3-3.3-1.1 2.3-.3 1.4zM317.9 326.5l-.3 3.1 .4 .8 1.8-.6 4.2-2.7-3.1-2.2-2.7 .1zM259.7 164.2l1.1 .2-2.6 3.7 2.2 4 2.7-.1 1.9-3.2 .7-3.5zM341 316.7l-.2-3.4 .4-1.4-3.9 4.8 .3 .5 1.4 .7zM299 257.7l5.3 2.4-.2-3.5-1.1-.8-.7 .1zM293.2 257.3l.4-3 .7-.1-4.7-.5-1.2 2.2 2.2 4.8 .9-2zM312.1 279l3.4-.6 .5-2.1-2.1-2.3-2.2 4.2zM272.1 333.3l.5 .7 2.3 .2 1.3-1.5-2.6-1zM321.9 427.6l0-.8-2.6-3.9-.8 .4-3 3.5 .8 .9 1.3 .8 3.5-.8zM283.4 422.5l-1.3 1.8 .3 .9 2.3 .8 2-1.7-2.7-2zM246.4 160.3l1.1 3.6 5.6-.1 .5 .4-1.6-6.3zM164.1 357l2.3-3.1-.3-.3-1.3-1-4.1 3.1zM252.2 347.6l1.3 .8 2.3 1.4 2.4-2.4 .4-.9-3.8-1.8-1.2 1.1zM208 396.5l-1.9 3 3.6 1.8 1.1-1.2 1.4-.8 .1-4.2zM292.5 435.1l-1-.2-2.5 3.9-.5 1.5 3.5 1.6 2.8-.8-.1-3.1zM153.1 345.4l.4-2.8-6.2 .6 4.1 4.9 .1 0zM321.4 301.1l-2.6-2.6-2.5 3.6-.3 3.2 5.6-.4zM224.8 310.5l.7-.4-1-3.4-2.2 1.1-.7 4.5zM163.6 415.6l-5.4-.7 .3 .4-1.5 2.8 1.6 1.1 .5 0 5.9-1zM245.3 346l3.3 .4 1.2-2.2-.3-1.4-4.4 .8zM299.6 380.5l-.1-2.6-2.7-.4-2.4 1.3 1.5 1.3 1.2 1.6zM325.7 406.1l-.7-.4-.6 3.7 4.9 1.9-.8-2.6zM284.1 389.7l.2-.1-4.1 .2 .1 2.3 2.8 1.6zM170.9 489l-.4-4.8-1.8-1.6-3.1 1.6 1 5.2 2.7 .8zM260.4 160.7l-.7 3.5 6 1.1 .5-2.8 2.8-3.4-5.5-1.3zM153.3 271.6l3.4-.5 1.6-4.5-6.3-1.8 0 1.8-1.6 1.8zM303.9 403.6l.3 0 0-4.2-1.7-.7-1.6 0-1.1 2.6-1 1.2 1.2-.1zM273.1 282.3l2.5-.3 .5 .2 1.7-1.6-.8-1.4-1.8-1.9-3.3 2.3zM142.6 370.7l-4.2 3.1 .6 .7 5.2 .3 2-2.5zM287 352.9l.9-2.4-3.1-1.6-1.7 1.6 1 2.2 .1-.5zM140.6 385.7l1.1 2.2 1.4 2.3 2.8-1-2-5.7-.3 1.1zM257.9 135l-1-.6 6-1.7-1.7-3.9-.2 .2-3 1-2 4 .4 1zM169.7 495.7l8.3-2.5-2-.4-1.1-4.5-4 .7-1.6 1.2zM261.4 254.8l-.1-.3-1.3 .5-5.3-2.6-.1 1.6 1 4.5 3.7-2.9zM323.5 380.1l3.7-3.3 .1-.8-1.9-4.1-.2 0-.1-.2-5.8 3.6zM199.1 490.9l1.9 1.4-.7-2.4-1.4 .7zM172.6 354.6l.3 2.1 3.6-4.6-1-.7-3.1-1.2-1.7 3.6zM120.4 435.2l1.3 1.1 2.9-.8-.8-4.5-4-1.7-.5 .4-1.3 1.7zM309.5 382.6l-.6 6 .3 .5 4.3-1.8-.3 0-.9-3.5-2.5-2.5zM340 350.2l.8 1.5 3.9-2.6-.2-1.6-1.1 .2-3.8 1.2zM262.9 406.6l2.6-1.5 .4-2.3-3.1 .9-.7 0-1.2 2.2zM297.1 291.3l-2.3 .1-2.2 .3-2 4.5 1.5 .8 4.5-.2zM252.3 475.3l-1.9-.8-4.3 1.5 .9 .1 2.3 3.8 .7-.7 2.6-2.5zM288.8 410.4l2.1-1.9 0-.5-1.3-1.7-1.5 .1-.9 3.5zM332.4 308l-1.6-.6-4.1 .2-.3 .9 .6 .5 1.6 1.9 1.5 1.2 1.9-.7zM273.5 379.2l-1.6 .8 .9 1.9 1 2 3-1.2-2.7-4.2zM257 384.8l-3.3 .6-1.5 2.1-.4 1.8 5-.4 1.7-.9 .3-2zM229.3 462l1-1.1-1.8-.3-.8-.7-4 1.7-1.2 1 4.6 2.5zM241.8 263.7l-2.7-3.2-2.2 1.4 .5 5.9 3.2-.8zM179.2 501.3l2.1 .1 .1-1.6 1.6-3.1-1.6-1.1-2.9 .3-2.1 2zM277 393.2l-2.3-3.3-3.3 .9 .4 .7 1.4 1.8 2 .5zM267.2 427.6l-2.1 1.2 2.3 2.5 .1 .2 1.9-1.6zM259.4 356.5l-.7 0-2.2 5.1 2 .5 2.2-4.5zM132.4 334.4l-8.4 3.9 1.2 1 1 2.2 1.1 1.3 5.5 0 1.8-2.6zM154.5 325.3l-1.2 2-1.5 3 1.3 3 1.6-.9 2.6-4.1zM163.9 387.7l-4.1-.5-1.2 3.1 2.1 1.8 5-1.1-.6-2.2zM169.9 342.5l.1-.3-2.7-1.9-3.2 3.6 .9 0 .6 .8 2.3 .7zM282 233.7l2.9 2.4 2.3-5.4-.3 .3-5.2-.2-.8 .8zM309.5 370.9l4.5-1.1-.1 .1 .5-.1-4-3.1-1.6 2.2 .5 1zM258.4 464.7l-.5 .7-2.5 1.8 .3 2.3 2.3 .6 2-3.3 .1-.1zM253.6 414.2l-1.6 3.4 4.5-.3-.5-2.9-2.2-.2zM156.3 387.9l.6-2.1-2.2-4.7 0 .2-2.1 3.6zM259.9 281.4l.3 0 4.5 3.5 .2 .1 1.1-2.4-1.1-2.5zM226.3 366.8l-.2 .2 1.2-.3 1.8-4.3-2-1.4-3 1.5zM194.1 498.9l-1.8-.8-3.4 .8-2.2 2.7 3.2 1.9 2.1-.4zM290.7 343.9l2.3 2.2 1.8-.3 .5-3.9-1.5 .2zM269.7 343l1.8 2.4 3.6-.6-.3-.1-1.3-3.2-2.7 1.2zM198.4 222.3l-1 1.9 1.7 1 5.5 .8 .1-4.8zM257.1 320.5l2.4-.3 .2-1.2-.4-2.3-1.8-1.1-1.7 4.4zM269.7 284.6l.8 1.1 2.6-3.4-1.2-2.7-1.3 .7-3 2.3zM235 442.9l-.6-3.1-2.4 1.8-.8 1.3 2.2 1.2zM260.3 423.2l-2.1 2.1-.7 1 1.9 2 3.7-1.6 0-1.9zM335.8 306l1.4-1.9 .8 .5-2-1.8-3.4 .3 .9 3zM248.7 174.6l-1.3-3.2 1.3 9.5 1.9-1 5-4.3-1.8-1.3zM142.8 504.4l-.3-4.3-2.1-2.6-1.9 1.7 .5 3.4zM285.9 379l1.1 2 1.4-.5 2.4-.5-1.6-3.7-.2-.1-.2-.4zM161.8 446.8l-3-1.2 .6 .3-2.8 5.7 1.3 0 3.1-.2zM330.3 319.4l-3.6 2.7 1.1 .8 3 .5 1.5-1.8 1.2-1.3zM286.6 433.7l-1.2 1.7 2.2 3.1 1.4 .3 2.5-3.9-1.8-.7zM278.4 335.9l.4-3-.8-.8-1.2-2-.6 2.6-1.3 1.5 .3 2.5zM240.6 455.8l-.8 2.4 1.3 2.2-.5 1 3.3-2.1-.2-4.1-.6-1.2zM309.5 382.6l.3-1.3-.4-3-3 .9-.8 3.5zM232.7 308.7l1.2 0 3.4 2.6 1.6-2.6-.9-.9-2.2-1.6zM268.5 316.3l-.5 2 .6-.4 2.3 3.7 2.7 .4-.7-2.4zM327 309l-2.6 2.5-.7 3 .4 2 1.7-.1 2.7-.2 .1-5.3zM206.1 439.3l-.1-3.7-3.3 .8 0 3.8 4.6-.5zM318.8 391l1.3 3.7 4.7-1.2-1.6-2.8zM301.3 360.7l2.1-2.9-1.1-2.4-2-.3 .1 1.1-2.1 1.6zM258.9 435.9l1.3-1.5-2.9-2.2 .1 0-3.3 2 2.3 1.5zM194.2 388l3.3 1 .1-1 1.3-2.5-4.8-2.4-2.6 2.7 1.7 1.4zM282.7 338l1.4-1.2-1.3-2.6-4-1.3-.4 3 1.1 1.1zM324.9 340.3l-.3-3-4.8 .2-1 .1 3.4 3.5zM291.7 334l1.7 .3 1.5-3.4-2.2-.2-1.5-.5-3.1 2.3zM319.3 438.9l-2.6-3.1-1.8-.8-.7 2.3 2.2 2.3 2.2 1.1zM256.6 453.4l-.9 .6 2.3 4.7 .6 .6 1.4-4.2zM158.6 390.3l1.2-3.1-.3-2.1-2.6 .7-.6 2.1-1.3 3.4zM153.3 390.5l-2.9 1.3-2.3 2.2-.2 1.1 4.6 .6 .6-4.9zM341.7 336.1l.4 .5 .7-.7 .9-1.7-2.5-.8-.9 1.3zM203 466.1l6.6-.7-1.3-1.2-1.5-3.5-1.7 .3-1.6 1.9zM258.8 155.2l-1.6-1.8-2.5-2.9 0 .2-.8 2.5-1.1 1.8 1.4 1.9-2.2 .9 6.3 1.1zM119.5 442.2l-1.8-2.8-3.6-1.3 .1 1 0 6 .2-1.4 2.8 1.2 .2-.1 1.6-2.5zM154.8 487l-2.6 1.1-.1 4.7 1.8 .8 2.1-.8 .2-2.1zM242.8 452.5l-1.1-2.9-2.9 .2-.8 1.2 4.8 2.6zM303.8 311.1l1.9-3.1-.8-2.6-3.4-.5-3.6 3zM205.8 201.9l-3.1-2.7-4.2 5.2 1.5 1.6 2.5-1 2.5-1 1.6 .1zM172.2 502.2l3.8 3.6 1.2-.1 2-4.4-2.8-3.4-1.8 2.2zM304.9 332.9l-.1 .6 5.7-2.6-2.3-2.7-.6-1.6-2.1 2.7zM92.5 460.9l.4 0 1.3-2.8-3.2-3-1.7-.1-.1 1.5zM336.5 357.3l.9 .2 4.9 3.4 1.9-.7 1.1-.1-.7-4.5-1.7-1.1zM218.5 499l-1.3-2.5-3.7 .4 .6 1.2 .1 4.6 3.3-2.2 1.5-.7zM237.4 420.4l-3.2 2.7-.2 2.1 4 1.6 .7-3.9-1.7-1.3zM185.8 408.4l-.1 .1-.5 .6-.4 1.8 2-1.1 0-.1zM278 456.1l2.3-.6 .2-.9-.2-2.9-3.2-.1-.8 2.5zM302.9 326.6l-.3-1.9-4.1-.1-.6 3.3 3.2 2.8 1.3-2zM330.6 418.1l-.2-1.5-3.2 .5-1.3 .2 1.8 3.1zM264.6 352l-.9 2.1 .7 2.1 2.9 0 1.4-2.5-.3-.4zM300.5 426.6l1.8 4.3 3.7-.7-.3-1.6-2.1-2.8zM320.2 455.1l.8-1.7-2-3.6-2 1.6-.7 2.4 1.4 0zM244.1 134.7l4.9-.7-.8-3-1.1-.1-2.2 1.7-1.1 .5zM199.8 341.4l4.2 2.9 2.7-3.7-2.9-1.8-2-.8zM318.8 391l4.4-.3 1.9-.5-2.6-2.4-3.4 .6-.7 2.4zM280.2 419.3l-.2-.3-2.6 .9 .3 3.2 .6 1.8 3.8-.6 1.3-1.8zM282.8 440.2l1.1 1 3.7-2.7-2.2-3.1-1.2 .1-1.6 1.9 .8 2.8zM215.9 440.5l-2.8-1.6-.4 3.7 2.3 .4 1.9-1zM144.3 485.6l3.3-3.2-3-5-4.1 1.5-2.5 2.7 .4 1.3zM292.5 318.2l.5 3.4 1.2-.2 3.5-1.9 .3-3.3zM178.2 347.7l3.5 6.3 1.4-2.3 2.2-1.1-3.1-3.3-2.4 .4zM186.8 388.4l.4 .4 2.4 2.4 2.4-.5 2.2-2.7-1-.8-5.7 1.5zM191 454.7l1.1-2.4-2-3.6-4.4 2.8 1 2.6zM261.8 410.3l-.6 1.9 .3 1.2 4.7 .1-.1-1-.3-2.5-1.5-.3zM207.9 499.2l1.1-.5 .4-.7 .2-4.1-3.2-1.6-2 1.1 .8 .9 1 3.4zM318.3 281.3l.1 5.5 4.9 .4 0-.1-1.8-6.2zM299.9 273.9l4.3-.5-.6-1.7-1.6-2-2.6-.5-1.3 2.9zM177.2 505.7l1.9 1.3 3.5-1 .9 0-2.2-4.6-2.1-.1zM192.7 509l.3-5.3-1-.6-2.1 .4-3.3 2.7 1.1-.5 3.2 2.3zM269.9 394.2l-2.2 .2-.1-.1-.1 3.5 .9 .9 2.5-1.5 .9-.9zM228.8 152.1l1.2 1.7 2.9-1.3 3.6 .5 .3-3.9-3.2-1.7zM273.6 331.7l2.6 1 .6-2.6 .8-.7-3.8-2.6-2.6 2.5zM309.2 423.8l-.9 .6 1.8 3.4 2.7-1.2 .5-2-.2-1.1-2.1-1zM287.7 419.3l.5-1.1-.1-.3-2.9-.7-1.8 1 .5 2.6zM199.6 485.4l1.3-.6 1.9-3.2-.5 0-5.2 .3-.8 1.7zM162.1 305.4l-.8-2.9-4.2 2-1.2 .7 2.1 2.2 2.7 .3zM103.3 457.5l.8 1.5 2.8-1.3 3.2-2.4 .4-1.9-3.3-1.2 .2 .4 .6 3.4-2.6-2.3-.9-.2zM309.1 438.2l-1.5-2.5-1.9 1.5-1.4 2.8 3.1 1.1 1-.3zM269.3 123.1l2.2-3.7 0-.1-5.3-.5-1.7 4.7zM132.4 287.4l2.1 .8 3.5 3.3 1.8-4.1 .6-3.7-3.1-.5zM265.1 428.8l-1 .1-1.8 3.5-.2 1.4 2.8-.1 2.5-2.4zM292.5 454.8l3.8-.2-.5-3.3-2.7-1.7-1.8 3.3zM338.2 341.3l.3 .3 .4 .5 .9-.5 0-.1 .3-.4-.4-1-1.1 .1zM172.7 477.7l-1.1-.2-1 1-1.7 2.1-.2 2 1.8 1.6 3.9-1-.4-3.6zM203.4 502.8l.6-1.8 4.3 3.3-.4-5.1-1.7-1.5-3.1 2.7-1.4 .4zM153.5 342.6l.3-2.5-.3 .1-5.8-1 .4 3.9zM234.1 326.8l.6-4.2-1.9-1.2 .1 .3-1.9 4.4 1.6 0zM168.3 311.3l.7 .2 4.3 .3-.3-3.8 1.4-.6-3 .1zM290 324.4l1.7 1.4 3.8-1.6-1.3-2.8-1.2 .2-3 .2zM172.1 404l.3-.2-5.9 2.4 2.6 2.8 1.8-.1 1.8-.9zM296.4 417.2l.2-2.6-1.9-.9-1.2 3.7 2.4 1.5zM290.9 408l1.8-1.9 1.3-2.6-4.7 .4 .3 2.4zM289.8 353.7l-2.8-.8-2.8-.7 .4 3.8 2.4 1.5 1.4-2zM197.2 455.2l.3-1.4 3.8-.5 1.2-2.4-2.3-3.8-2.8 2.3-.3 4.9zM270.4 424l3.2-2.4-1.8-1.1-4.9 .5 1.2 .7zM327.8 444.8l-1.4 1.8 .8 .5 1.2 .6 2.8-.1-.9-3.4zM272.7 400.1l.4 .4-.3 2.2 2.9 2.6 3-2.5-1.3-.3-2.5-3.4zM157.8 344.7l-1.1-3.5-2.9-1.1-.3 2.5-.4 2.8 3.2 1zM183 463.9l-1.8-1.2-2.1 .8-2.1 2 4.4 .7zM284.6 453.5l1.4-1.4-1.1-1.4-.9 .2-.1 1.5zM241.3 407.2l-1.7 3.3 1.1 1.4 5.5-3.8-2.4-2.3zM306.3 318.9l0-1.6 .8-1 .1-2.7-4.6 .3-1.6 1 3.6 3.6zM179.3 425.8l1.1 3.4 2.2-1.2 .1-2.6-1.5 .2zM341.2 333.4l2.5 .8 1.4-1.8-2.3-1.4 0-1.8-2.3 2zM230 384.3l1.7 4.6 2.9 .6 1-3.5-2.4-2.5-.8-.5zM187.5 446.2l.6-4.9-1.4-.4-2.6 .7 .4 2.1 2 3.3zM321 269.3l.2 .8 .6-2.1-3.9-1.9-.2 4.9zM234.3 354.7l.3-.7-2.2-2.6-2.9 .5-1.2 2.8 3.3 1.4 .5 .5zM187.7 408.3l-.1 .3-.8 1.1 0 .1 1 .8 .5-1.9zM207.7 418l-3.1-2.5-2.4 2.8-.7 1.7 .6-.6zM294.1 336.6l3.8-1.2 .3-2.8-2.4-2.2-.9 .5-1.5 3.4zM263.3 419.7l.2-2.7-2.2-1-1.9-.3 .3 3 .8 1.7zM239.3 467.8l.5 4 3.5-.1 .7 .3-.2-2.8-1.6-2zM324.2 382.2l.2 2.7 3.8 1.1 .7 .3-.1-3.9-2.7-.7zM307.8 360.6l-3.8-2.1-.9 4.6 1.4 .4 2.9-2.6zM310.4 366.7l.8-.9-2.2-.7-2.4-.6 .2 3 2 1.4zM141.8 239.5l9.2-.3-1.2-1-1.8-2.2-3.1-.1-2.3-.7zM198.9 461.2l4.6 1.7 1.6-1.9-4.2-2.5-.8 1zM247.8 283.6l.3-3.8-3.1 .9-1.2 3.1 1 .7zM311.4 404.3l-.6 1.6 6.1-.6-.4-2.9-.6-1.3-2.4 .7zM333.4 332.2l-.9 1.4 .7 0 2.6 .6 1.1-.8-.7-1.1zM119 442.3l-1.6 2.5 3.4 3.6 3-1.6-1.3-3.8zM186.8 342.9l2.8 2.6 1.5-2.8-1.8-3.6-2.8 3.3zM253.1 163.8l-1.8 4.4 2.8-.2 4.1 .1 2.6-3.7-7.2-.2zM180.9 339.3l.3-3.4-3.7-.2-2.3 3.2-.7 .4 4.2 1.2zM200.1 495.6l1.4 .7 3.7-2-.8-.9 .5-.4-3.2-.4zM260.5 368.9l1.8 1.5 2.4-3.1-1.9-.8-1.5 .7-1.6 2.1zM276.1 460l-4.1 1.9 .2 1.6 2.8-.5 2.1-.4zM168.7 389.1l-1.8-1.8-1.8 1.5 .6 2.2 .4 1.8 3.1-.7 3 .1zM265.9 402.8l.9-.4-2.3-3.3-4 1 2.3 3.6zM333.8 289.2l2.8 .2 .5-.2-1.9-3.8zM238.9 348.7l-.6-.7-2.5-3-1.4 3.9 3.6 1.2zM196.8 416.1l-5.7 2.1 .5 2.1 1.5 1.4 3.3-1.4 1.1-3.9zM292.1 263l.9 .4 2.3-.2 .1-3.2-2.2-2.7-1.7 1.4zM321.5 343.8l-2.1-.3-2.1 3.5 1.6 1.2 3.4 .2 .3-2.7 .2-1.8zM162.5 337l1.6 1.8 .9-.9 3.5-1.3-.5-4.3-3.1-.4zM208.2 426.7l1.3-.5 1-.2 2.1-4.3-1.8 .3-2.5-1.4-.7 .3zM312.6 330.6l-1.7 1.5-.2 3.3 4.1-.7 1.5 0-3.2-5zM179.1 463.5l-3.8-3.6-.9-.3-1.4 2.6 1.1 3.9 2.7-.3 .2-.3zM294.6 354.3l-.4-1.5-2.4-.5-2 1.4-1.4 1.8 4.9 1.5 .9-2zM263 385.6l.5-.4-3.1-3.2-2.6 1.8-.8 1 1.8 1.2zM322.6 345.7l-.3 2.7 1.8 3.1 .4 0 2.8-3.5-.2-1.7zM297.2 369.8l1.5-3.6-2.3-1.3-.8-.6 .9 1.4-1.4 2 1.1 2.5zM315.1 390.6l-2.3 3 1.8 2.1-.1-.7 2.1-4.2zM304.7 290.6l3.1-2.6-2.1-3.6-1.2-.7-1.7 4.8zM300.9 435.9l4.8 1.3 1.9-1.5-.5 .3-2.3-3.9-3.4 1.3-1 1.6zM189.5 409.4l-.2-.2-.9-.4-.1-.1-.5 1.9 0 .2zM268.9 446.7l.6 .9 4.2-.7 .6-1.5-.4-1.7-3.6-.9zM227.6 429.9l3.9 .6 .3 .1 1.4-2.2-2.4-2.5-1.8 .1-1.3 .7zM141.6 409.6l-1.9-1.4-3.6 1.3-.3 2.9 .2 .3 4.1 .3zM206.7 429.2l1.4 1.6 1.4-4.6-1.3 .5-1.7 0zM198.4 487.9l.7 0 .6-.5-.3-1.4-1.4 .3 0 1.6zM245 304.5l-1-2.7-3.3 .6 .8 2.4zM311.5 292.3l-2 0-1.1 3.4 2.9 1.6 1 .3zM325 342.9l3.2 3.7 .2-4.9-2-.9-1.1 .9zM301.3 373.6l3.5-.3 .6-2.4-1.9-1.1-2.1 .6zM244.3 399.2l-1.3-3.1-1.4 1.4-.2-1.2-.6 4.6 .2 .5zM265.3 446.8l0 4.2 1.3 1.3 2.6-1.8 .3-2.9-.6-.9zM218.6 473.5l2.6-3.3-6.1-3.7 0 .8-1.8 3.3 5 1.7zM253.1 402.4l-.6-2.6-1.5-.5-1.7 3.3 1.7 .6zM255.7 469.5l-2.2 2.9 1-.3 1.4 1.2 .3-.3 1.8-2.9zM209 488.9l-2.6 3.4 3.2 1.6 1 .4 1.4-2.7-1.9-3.3zM218 226l2-4-1-1 .5-1-4.8-1.5-2 5.9 2.1 .5zM259.2 402.3l-2-1.4-1.4 .7-1.5 1.7 0 2.2 3.3-.9zM313.2 387.3l2.1-1.7 .2-3.5-.2-1.9-3 3.6zM303.3 405.6l.6-2-3.9-1.2 .3 3.5zM289.1 347.6l-.5 .6 2-.5 2.4-1.6-2.3-2.2 0-.4zM212.3 475.2l-2.3-1.3-.5 2.2 2.7 4.3 2.4-2.4 .9-1.6zM326 281.6l.9 1.1 2.3 .5 .6-2.5-.9-.6-1.3-2.3zM176.4 325.3l2.7 1.9 2.3-.8-.6-3.4 .1-2.6-3.4 .9zM299.6 451.5l3.7-1.2-1.1-2.4-2-.5-2.3 1.4 .2 .8zM327.6 346.2l-.5 .1 .2 1.7 3.1 3.4 2 .7-2-5.9zM341.2 311.9l-.4 1.4 3.3-.1-.3-3.2-1.3 0-.1-.2-1.2 2.7zM163.1 499.5l.1-3.6-2.4-2.6-3.1 2 2 4.2 .4 2.2zM297 433.8l.3-3.9-2.6-1.1-1.6 1.9 1.7 2.7zM309.1 438.2l-.7 2.6 3.3 .3-.1-3.6zM321 448.4l-2 1.4 2 3.6 2 0 1.4-2.2-2.5-2.5-1.2-.9zM278 244.9l-.5 1.3-2.9 2.3 3.9 1.1 .9-1.5zM272.2 142.9l2-3.2-2.8-2.2-5.8 4.4 5 4.9zM293.9 378.5l-1.2-2.8-3.5 .6 1.6 3.7 1.4-.1zM191.6 468.3l-.4 1.4-.6 4.8 4 .3-.6-.8 1.6-.5-3.4-4zM296.1 388.4l2.8 .3-.1-2.9-1.2-1-1.8 2.6zM269.1 369.8l4 2.7 .3-3.4-4.1-1-2.1 0zM241.9 365.9l2.5-2.5-.1-2.1-1.6-.9-.2 .4-2.4 3zM186.7 501.6l-.6-.4-1.2 3.6 1.7 1.4 3.3-2.7zM324.1 351.5l-2.9 1.6-1.3 1.5 4.5 4.3 4.7-2.8-1.4-2.2-3.2-2.4zM328.5 408.7l.8 2.6 .3 1.2 3.1-1.4-.9-3.6-.4-1.3zM113.7 451.8l-2.6 3.2 3.7 1.4 2.8-1.2-1.3-4.1zM245.2 379.4l.2-.2 .6-4.1-1.9 .4-2.1 1-1.5 .5zM320.8 279.1l2.8-2.5-.3-.7-3-2.3-2.1 1.5zM211.2 309.1l-1.8 .2-3.4 2.6 1.6 3.9 3.3-.8zM197.4 190l-1.8-.5-2-.3-.5 1.6-.4 5.4 4.9-2.9zM152.8 296.3l-2.9-5.5-3.8-.1-2.9 6.2 1 .7 4.4-1.9zM250.8 295.1l-1-1.7-2.9 1-1.3 1.8 0 .7 3.2 1.4 2.9-2.6zM185.4 402.3l.2 4.5 1.1 0 .5-.7 .8-1.6zM280.4 448.4l.9 2.1 1.8 1 .9-.6 .9-.2 .3-1.8-3.1-1.1zM318 365.4l3.6 1.3-1.9-5.6-3.3 3 1.7 1.8zM267.7 394.4l2.2-.2 1.9-2.7-.4-.7-1-.7 .3-.9-2.7 4.4zM201.7 500.8l-1 2-.7 1.2 2.2 2.4 1.2-3.6zM135.8 448.6l.4-.3-2.1-3.8-.8 1-2.2 4.8 3.9 1.9zM246.6 396.4l.6 .6 2.6 .6 .5-2.6-2.3-2.3zM342 340.3l-.3 .1-.1 1.4 .4 .7 .9-.2 0-1.8zM319.1 308.1l1.7 .4 2.6-2.9-1.3-.8-.5 .1-5 .4zM185.4 406.4l-3.3 1.1 3.1 1.6 .5-.6zM190.3 461.8l-2.8-3.1-1.1 .3-.5 3.1 1.2 2 1.8 .2zM224.9 437.1l5.1 .9-.1-4-4.4-.8zM135.7 486.6l2.7-3.7-.4-1.3-4.7-3.7-2.3 3.6zM338.2 344.5l-2.5 0 .2 .9 1.6 1.7 .8-1.8zM340 320.9l3.5-.2-.1-.1-1.8-2.5-.6-1.4-2 1.2zM229.3 448.6l-1.9-3.5-.3 .5-.8 5.2 3.2 1.1zM110 458.5l-3.6 5.9 3.6 1.2 1.7-3.6zM322.1 442.7l-.6 2.3 3.1-.1 .3-3-2.6-1.2zM322.1 304.8l4.1-1.4 .7-3.7-2.5-.7-3 2.1 .2 3.8zM331.6 326.1l-.8-2.7-3-.5-.2 3.7 3.5 .8zM300.2 291.3l-3.1 0-.5 5.5 .4 0 3.9-1.7zM182.6 506l-3.5 1 .8 4.6 3.4-.4zM285.8 448.7l2.5 2.9 .5 .7 2.1-3.8-4.5-2.2zM295.9 380.1l-1.5-1.3-.5-.3-1.7 1.4 1.2 2.2zM301 442.9l1.5-3.1-1.5-.9-1.5-.9-2.4 4zM279.8 396.6l4.1-2-.8-.9-2.8-1.6-1.1 .8 .5 3.2zM301 252.2l1.3-4.9-1.1-.6-4.2 3.5 2.6 2.9 1.6-.5zM249.8 425.3l1.3-2.9-3.9-.7-.3 .9 .4 1.1zM309.5 325.3l-1.3 2.9 2.3 2.7 .4 1.2 1.7-1.5-.1-3.9zM187.7 407.9l.5-1.1-1-.7-.5 .7 .1 .7zM329.8 280.7l3.8 .3-.4-3.1-4.3 2.2z"/><path id="g0_2" d="M174.5 339.3l-.2 2.6 .9 2.4 1.3-.1 2.4-.8-.2-2.9zM238.6 162.3l.5 3.2-3.9 3.3 1.2 .7 6.1 1.3 .5-3.2zM265.6 141.9l5.8-4.4-1.7-1.9-4.2 .5-1.1 1.9 .3 5.4zM101.1 452.6l-3.8 3.1 2.6 1.1 3.4 .7 1.2-4-2.5-.5 0-.8zM244.4 370.9l-.5-3-2.1-1.9-2.3 2 2.6 3.3zM299.8 401.3l1.1-2.6-.5-2.6-1.7-.3-2.4 3.1zM246.1 148l-4.5 1.8 .2 3.3 5.3 2.1-1.3-2.6 .5-5.8zM214.3 403.2l1-4.3-3.1 .4-1.4 .8 1.9 3.9zM193 442.1l-.6-.4-1.4 0-.9 .5 1.9 4.4 3-.4 .3-.5zM327.1 390.3l1.1-4.3-3.8-1.1-1.9 2.9 2.6 2.4zM211.9 462.7l-3.6 1.5 1.3 1.2-.8 1.4 1.6 1.6 4.7-1.1 0-.2zM193.2 387.2l-1.7-1.4-.7-1.9-4 .7-.2 .6 .9 3.5zM146.1 290.7l-1.7-4.5-4.6 1.2-1.8 4.1 .8 .7 4.4 4.7zM297 296.8l1.1 3 4.1 1.8 .5-1.4 1.3-4.8-3.1-.3zM335.2 325.8l-.1-4.8-2.8 .6-1.5 1.8 .8 2.7zM194.7 305.2l5.7 1.3 2-2.9 .3-3.1-4.9-.7-2.7 3.4zM231.6 481.5l1.7-4.3-.9 .6-6.2-.8 .9 5.8zM311.4 376.7l1.6-.8-3.7-4.9 .2 .4-1.8 2.7 3.1 2.9zM119.6 345.6l6.6-4.1-1-2.2-4-.8-4.5 3.1zM196 504l-.2 4.9 5.5-1.4 .7-.5 .2-.6-2.2-2.4zM179.9 418l-1.7-.6-3.3 .5-.5 3.1-.4 .9 1.5 1.6 4.6-3.7zM252.2 328.4l3.3 2.1 .4-3.2-2-2.4zM281.1 128.9l3.4 6.2 3.7 0-1.4-1.7 1.2-4.3-.5-.3-4.9-2.5-1.1 1.4zM287.7 424.9l.7 1.3 2.3 .7 1.6-1.3 .9-1.2-1.7-2.2-3.2-.1zM162.4 518.8l2.5-4-3.7-2.1-4.5 4.2-.1 1.4 5.6 .2zM148.5 515.3l.9-.6 3-5.1-.7-2.1-4.9 2.3-1.1 2.7zM129 482.5l-3.7 1.2 3.7 6.8 1.2 .3 5.9-3.5-.4-.7-4.7-5.1zM325.9 400.2l-1.1 1.1 0 3.7 .2 .7 .7 .4 3.4-1-.6-4.5zM195.9 400l1.6 1.6 .9-.6 1.7-5-3.8-.2zM253.1 310.7l1.2 .3 2-2.3-.7-3.1-4.3 1.4-.2 .6zM156.6 518.3l.1-1.4-2-.9-4.5-1.4 1 3.6 4.2 1.1zM216 449.1l3.3 .3 1.6-1.2-.9-1.6-1.5-1.3-1.8 1.4zM202.1 395.7l1.2 .3 .6 3 1.7 2.4 .5-1.9 1.9-3-.4-.7zM192.6 452.4l-.5-.1-1.1 2.4 .9 1.9 .7 .4 1.1 1.1 3.5-2.9-.1-.9zM202.1 173.7l.1-3.3-3.4-2.4-4.7 .1 1.2 1.7 0 3.2 2 1.8zM311.2 288.9l2.3-1 1.1-1.4-.6-3-3.6-2.5 .3 1.5zM243.6 342.8l.2 .3 1.3 .5 4.4-.8-.5-1.6-.5-.7-2.7-1.3zM141.5 280.8l-1.1 2.9-.6 3.7 4.6-1.2 3.9-1.9 1.9-2.4-4.8-3.3zM232.1 319.7l.7 1.7 1.9 1.2 2 .2 1-3-1.7-1.9zM228.6 393.1l1-3.3-2.4-.5-.9-1.3-3.1 5.6zM224.9 382.9l5.3 3.2-.2-1.8 2.4-1.3-2.1-.5-1.4-1.9-3.1 2.6zM247.2 378.6l2.6 .2 .8-1.4-.5-.8-4.1-1.5-.6 4.1zM262.7 303.6l-2.1-1.9-1.3 3 1.7 2.5 2.1-.3 0-.5zM228.7 312.1l-.1-3.3-3.1 1.3-.7 .4 2.7 4 1.4-2.1zM189.3 339.1l1.1 .8-4.7-5 .1 2.3-1.8 3.1 2.5 2.1zM173.8 272.5l.3-.8-4.4-1.5-1.7 .9 2.9 6.9 .6-1.3zM332.9 422.6l.1-3.6-2.4-.9-2.9 2.3-.1 1.2 1.7 1.3zM295.4 398l.9 .9 2.4-3.1-1.1-2-1.7-.4-.6-1.2 .1 4.5zM336.6 289.4l-2.3 4.4 2.1-.4 1.7 1.1-.6-4.5-.4-.8zM167 415.6l1-2.2-.7-1.9-4.7-.9 1 5 1.3 2.4zM133.3 477.9l.4-2.6-4.2 1.5-2.9 .5-.2-.3 2.6 5.5 2-1zM219 435.9l-2.3 .3 1.1 2.1 3.4 .5 1.7-.7-1.8-1.8zM131.5 331.1l-6.2-1.2-1.3 8.4 8.4-3.9zM227.8 492.1l-1.7 .7-4.2 0 .1 1.7 2.2 2.6 .8-.3 4-2zM139.4 395l-6.9 .3 3.8 5.1 3.3-2.2 1.1-3.3zM304.2 419.9l1.4-.5 .1-3.1-2.4-1.9-3 2.8 0-.6-.2 2.1 3.7 1.6zM83.9 458.4l5.3-1.9 .1-1.5-3.7-2.4-.4 .6-3.2 1.8-1.8 1.1zM328.9 280.1l4.3-2.2-.2-1.8-2.7-.9-2.9 1.9 .2 .7zM247.5 265.7l-1.4-3.1-1.6 .7-2.7 .4-1.2 3.3 1.7 .3 3.5-.1zM329.6 273.2l.1-.3 2.4-2.5 0-2.2-2.9 .1-.5 .7zM252.7 420.8l1.9-.3 2.1-1.9-.2-1.3-4.1 .3zM175.8 380.3l2.7-.2 .8-5.4-2.6-1.1-2.8 4-.4 2zM340.1 400.6l.6 2.3-.5-.5 1.4 4.2 1.2 .3 1-1.9 1.9-3.9zM254.5 472.1l-2.2 3.2 .3 1.4 3.3-3.4zM270.4 441.8l.9-3.5-1.6-2-2.8 .4-.1 4.3zM290.9 300.9l3.1-1.7-1.9-2.2-1.5-.8-.9 .8-1 2.4zM195.6 473.5l-1.6 .5 5.1 2 .6-.5 1-2.2-3.4-2.8zM125.9 491.3l-.7 .9 .2-.1 3.6 .5-2.2 1.4-2.2 1.5-.6 .7-.2 1.2 3.4 .6 4.3-3.3-1.3-3.9-1.2-.3zM139.6 398.2l2.7 3.2 4-2.1-.4-2.9-2.1-2.8-3.1 1.3zM274.3 437.2l-3 1.1-1.2 4.5 3.8 .9 .2-2 1.2-3.7zM328.8 382.4l3.7 .8 .5-7.5-5.7 .3-.1 .8-1.1 4.9zM331.8 407.5l.9 3.6 1.7 .1 3.4-2.2 .2-3.1-3.5-.6zM163.3 319.8l1.2 .1 4-4.8 .2-.9-6.2 .9-.6 2.4zM203.2 455.3l-2.3 3.2 4.2 2.5 1.7-.3-.4-2.7-2.4-1.2zM211.9 460l1.4-1-.5-5.6-1.9 .3-1.9 1.7-1.1 2.9zM129.3 440.5l1.2 3 2.8 2 .8-1 1.5-1.8-1.7-4.1zM234.4 165.8l-3.9 1.9-4 1.1 3.3 3.6 .9 .2 3.4-.7 2.3-2.4-1.2-.7zM257.4 351.2l-1.6-1.4-2.3-1.4-.6 2-.2 2 2.4 2.3zM279 361.4l4 2.1 2-2.7-.3-.5-2.9-2-3.2 2zM322.1 442.7l.2-2 1.9-2.1-2.7-2.2-2.2 2.5-.6 1.6zM218.6 269.3l-2.5 1.4 .3 1 .8 2.2 2.3 2.2 2.6-1.6zM276.6 382.9l.2-.2-3 1.2 .2 2.4 1 .3 2-.5 1.1-1.3zM173.5 379.6l.4-2-3.2-4.4-.7-1.3-1.8 6.2 3.8 1.7zM183.3 436.9l4 .2 .8-4.9-4 .1-.2 .2zM250.5 186.3l4.1-3-4-3.4-1.9 1-4.4 .1 1.6 4.5zM236.8 357.5l2.7-2.8-.6-.8-1.5-1.8-2.8 1.9-.3 .7zM336 267.9l4.3 .4 .1-2.1-.9-1.3-2.3-.8-1.1 3.6zM258 411.1l.4 2.4 2.8-1.3 .6-1.9-1.4-1.2zM248.1 352.7l-1.8 0-.4 3.6 2.4 2.5 3.3-2.2-.5-2.1zM241.1 297.7l-.9 2.3 .5 2.4 3.3-.6 1.2-3.4zM313.2 414.4l3 1.7 2.2-1.4 1.4-2.5-1.2-.8-3.4-.3zM272.9 376l-2.4 .9-1.4 2.6 2.8 .5 1.6-.8zM307.1 268.5l-3.5 3.2 .6 1.7-1.4-.3 4.6 1.4 2.8-2.8zM171.8 385.4l-3.1 3.7 3.5 3.1 2.4-1.7-.3-3.6zM187.7 505.7l-1.1 .5-1.7-1.4-1.4 1.2-.9 0 .7 5.2 .6 .7 2 .1zM200.3 400.4l-1.9 .6-.9 .6 0 3.9 .9 2 2.2 .1 1.4-3.7zM198 464.7l.2-.1 .7-3.4 1.2-1.7-.4-.5-1 .6-4.2 3 .2 .1zM254 442.4l.9-1.6-1.6-3-.8 .4-.9 .9-.1 3.7zM278.2 370.4l-.3-.4-3.5-.4-1-.5-.3 3.4 .1-.5 1.5 1.2 1.5 .4zM286.5 288l-.5 1 1.4 1.9 .4 1 4.7-1-1.4-3.7-1.4-1zM112 448l-1.9-.6-1.3 1.4-2.6 .6 1 2.8 3.3 1.2zM215.3 491.7l2.1 1.7 3.5 1.4 1.1-.3-.1-1.7-.5-3.5-.6-1.1-2.2 .9zM149.8 503.6l1.8-.1 1.2-5.6-6.4 .6 1.5 1.1 .4 3.1zM230.7 286l2.3-2.8-3.6-3.1-1.2 1.2-.5 3.2 2.1 1.3zM271.5 119.4l-2.2 3.7 .3 2 5.2 2.1 1.3-1.3 0-1.9zM262.9 269.2l-1 3.2 1 1.8 2.8-1.1 .4-3.2-2.2-4.4zM176.7 373.6l2.6 1.1 1.2-1.6 .4-1.2-4.5-2.3-1.2-.6 .1 3.7zM138.5 250.7l1.6-7.2 .3-1.4-4.7 .1-.5 8.9zM276.2 373.6l-1.5-.4-1.8 2.8 .6 3.2 .6-.7 3.7-1.3 .7-1.2zM242.1 371.3l-2.6-3.3-1.2 .8-.2 2.1-.5 1.5 2.4-.4zM148.5 492l3.6 .8 .1-4.7-2.9-1.9-4.1 1.9zM263.6 395.6l-.7 .1-3.8 1.9 .7 1.3 .7 1.2 4-1 .4 .3zM151 302.8l3.2-4.5-1.2-3.8-.2 1.8-4.2-.6-.7 7.1zM253.8 372.8l-.3-.3-3.6 .9 .6 .3-.4 2.9 .5 .8 2.9-1.3zM247.9 466.5l4.5-1.8-2.4-3.2-.1 .2-2.9 2.1zM257.7 393l-.9-4.1-5 .4 .3 1.2 1.1 3.9zM333.6 312l3.4-1.4 .3-1.3-1.5-3.3-2.3 .1-1.1 1.9-.4 3.4zM177 465.5l-.2 .3 .2 6.2 2.1-2 2.5-3.8zM285.1 322l-.3 2.4 2.1 1.5 3.1-1.5 0-2.6-1.1-1-1.9 .2zM152.1 257.6l3.1 3.2 3.4-.7 2.4-1.9-2-2.7-3-1.7-4.4 .7-.4 .8zM240.1 391.9l1.5 5.6 1.4-1.4 .8 0 1.1-3.4zM305.3 280.3l3.2 3.5 2.2-1.3-.3-1.5 1-.6-4.2-3.7-2.4 .3zM252 255.8l-3.2-3.9-2.5 3.4 1.7 1.8 1.5 1.7zM253.8 174.3l1.8 1.3 .7 0 4.1-3.5-2.2-4-4.1-.1zM273.7 446.9l.9 1.1 2.3 3.1 1.9-3.1 .8-2.1-5.3-.5zM323.3 287.1l2.3-.7 1.3-3.7-.9-1.1-3.9-1.4-.6 .7zM274.6 415.8l-1.7-2.8-3.4 1.1 .5 1 3.4 4.4 1.2-.8zM304.3 440l1.4-2.8-4.8-1.3 .1 3 1.5 .9 1.8 .3zM194.7 305.2l.4-2-2.4 .3-2.1-.9-1.7 .7 3.6 6.9 1.3-.1zM269.3 339l-3 .8-.6 2.9 4 .3 1.1-.3 .3-3.7zM255.4 460.4l1.5-.3 1.1-1.4-2.3-4.7-.9 .9-2.4 2.2zM319.3 317.1l2.1 2.5 .3-.7 2.4-2.4-.4-2-2.9 .4zM312.8 359.8l4.7-1 .6-2.6-3.7-1.3-1.6-.9 .5 3-1.1 1zM174.4 459.6l-1.8-3.1-3.5-1-1.2 .5 .5 .1-.9 4.7 3.1 .3 2.4 1.1zM298.8 371l2.2 .2-.8-4.1-1.5-.9-1.5 3.6zM176.5 344.2l3.3 3.5 2.4-.4 .8-2-1.4-2.1-2.7 .2zM97.4 330.2l-1.4-.2-8.2 .3-.3 2.2 2.5-1 2.5 1.9 2.5 .3 1.4-.7zM338.6 422.7l-1.6-5.3-.5 .1-3.5 1.5-.1 3.6 .5 .4 2.2-.6zM172.3 512.1l-.5-.2-3 3.7 2.2 1.9 .9 .3 4-2.8zM124.8 477.4l-.7-6.1-.5 .2-4.9 2.6 1.8 5.7zM267.8 305l-2-3.5-.4-.9-2.7 3 .4 2.8zM282.9 456l-.2 .3 .9 .8 2.6 .2-1.4-1.8-2-.1zM176 492.8l4.4-3.2-.2-3.4-2.3-1.4-2.1 .5-.9 3zM290.5 398.1l3.1 2.8 1.8-2.9 0-1.3-3.5-.6zM141.8 239.5l-1.4 2.6-.3 1.4 6.7 3.2 4.5-7.3-.3-.2zM339.3 410.2l-1.5-1.2-3.4 2.2 1.7 2.7-.8 1.1 4.7-2.2 0-.3 .6-1.2zM184.7 400.2l-4.2-1.4-2.4 2.3 1.2 2.1 3.3 1.1 2.1-.7 .2-1.3zM281.8 358.3l.4-1.9-1-.5-3.3-.5 0 2.2-.8 1.4 1.5 1.3zM251 399.3l1.5 .5 2.3-1.3-1.3-1.2 .5-2.1-3.7-.2-.5 2.6zM261.6 446.2l-1.1 3.8 .7 .6 4.1 .4 0-4.2-.2-1.1zM221.3 213.9l2.8-1.3-.1-4.6-4.6-.4 .4 1.1zM198.5 195.2l-.9-1.9-4.9 2.9 1.3-.7 1.6 4.7 3.1-1.6zM254 278l1.7 1.6-.2 1.8 1.6 1.6 3.1-1.6-.3 0-.9-3.4-1.8-1.4zM335.1 316.1l-1.5-4.1-1.6-.6-1.9 .7 .8 4.4 2.2-.4zM253.2 287.6l4-1.8-.1-2.8-1.6-1.6-4.6 2.6zM298.7 395.8l1.7 .3 2.2-2.7-.9 .6-1.8-1.5-2.3 1.3zM288.4 255.9l1.2-2.2-1.4-.6-3 1-1.7 1.9 2.3 1.5zM232.3 303.5l-3.5-3.8-1.4 4.5 1.5 1.4 2.6-.3zM271.6 452.8l.1-.7-2.5-1.6-2.6 1.8-.7 1.8 4.2 1.2zM311.4 404.3l2.1-2.5-2.9-2.6-.3-1.2-1 2.8zM261.5 413.4l-.2 2.6 2.2 1 1.4-.5 1.3-3zM329.2 265.2l4.2 2.2 1.9-.1-2.6-5.1-2.7 2.1 .6 0zM291.7 364.9l4.8 .8-.9-1.4-.2-3.9-3.8 1.2-.3 1.3 .1 1.3zM180.1 519.3l.6 .1 2.8-1.4 3.1-2.2-3.1-2.7-3.4 2.6zM166.1 521.9l4.9-4.4-2.2-1.9-2.9-1.5-1 .7-2.5 4zM209.4 321.6l-1.2-.8-1.9-2.7-4.5 3.9 1.2 .7 .3 2zM288.8 452.3l-.5-.7-.6 .9 .1 1.8 2.3 1.4 1.8-.6 .6-.3-1.2-1.9zM252.5 357.6l.9 .8 2.6 3.9 .5-.7 2.2-5.1-2.8-1.3zM266.4 365l-.2-2.1 1.2-2.3-1.1-.9-2.8 .6-.1 2.9zM249.1 446.2l-1.4 1 4.1 1.8 1.7-.5-.5-1.7-2.6-2zM159 431l-1.9 .2-4.7 2.3 2.9 3.9 .6 0 3.9-4.2zM285.8 445.5l-3.2-.3-.5 2.6 3.1 1.1 .6-.2 .6-2.4 .8-.2zM321 269.3l-.7 4.3 3 2.3 1.1-4-.5 .3-2.7-2.1zM150.2 400.1l-3.9-.8-4 2.1 1.6 3.1 1.1 .6 2.4 1.8 2-5.8zM293.6 240.1l3 .6-.4-3.6-1.2-1.1-3.1 2.6zM286.8 133.4l1.4 1.7 1.9 4.9 4.9-2.5 0-2.8zM279 428.5l.8 3.2 1.6 .4 .4-.4 0-2.2-.5-2.3-1.9 .4zM271 311.2l-6-1.2 0 2.5 0 1.8 4.5 .4zM273.8 422.6l-.2-1-3.2 2.4 .4 1.5 .7 1.6 2.9-.8zM295.8 451.3l2.3-1.7-.2-.8-.9-2.7-2.5 1.6-1.1 .8-.3 1.1zM166.1 507.1l-1.2 4.2 1 2.8 2.9 1.5 3-3.7-2.1-4.1zM307.5 354.7l-.6-1-2.5-.6-2.1 2.3 1.1 2.4 1.2 1.1 2.8-2.6zM283.6 375.2l2.5-.8 1.5-1-1.7-1.6-3.3 .9zM276 428l3 .5 .4-.9-1.1-3.4-3.7 2.4zM288.3 413.3l2.2-.8 2.7 .3-.1-1.9-2.2-2.4-2.1 1.9zM284.9 236.1l-2.9-2.4-.8 4.2 2.2 1.5 3.1-3.3-.4-.5zM334.8 427.6l-2.6-.9-.9 .3 .3 4.3 .2 2.2 3.2-.5 .9-2.3zM330.2 399.5l4.2-3.4-4.9-2.2-2.5 1.9 2.9 3.7zM284 288.3l-2.8 3.1 2.1 1.7 4.1-2.2-1.4-1.9zM225.2 207.5l1.8-.2 1.6 3.1 .4-.4 2.8 .6 .4-.9-1-3.7-1.4-.9zM256.9 364.8l-1.1-.5-3.5-.1-1.2 .8 .9 2.9 3.8 .4zM178.1 449.9l-2.2 1.8 2.9 1.4 2.6 .4 1.9-5.4-1.1 .8zM285.2 244.9l-3-4.6-2.8 1.2-.4 1 3.6 2.8zM247.2 421.7l-1.3-1-2.8-1.3-.6 1.6 0 1.4 1.1 1.3 3.3-1.1zM261.3 367.2l1.5-.7 .5-2.8-3.4-.8 0 2.9zM197.4 224.2l1-1.9-.7-2.5-1.8 1.1-1.6 2.6zM324.8 393.5l-4.7 1.2-1.1 1.5 1.4 .6 4.2 1.4 1.4-2.3zM288.5 243.3l-.8 4.7 1.5 .8 3.3 .2 1.1-1-1.2-3.1zM293 283.4l5.7-1.4-2.2-3.9-2.6-.6-.6 .2-2.4 4.5 .8-.4zM144.9 447.1l-2.3 1 .4 3 5.2 1.7-1.2-1.4-.5-3.7zM203.5 217.5l-1.2 0-3.3 1.5-1.3 .8 .7 2.5 6.2-1zM237.3 359.7l-.1 4.3 2.9-.2 2.4-3-2.2-1.4zM232.6 326.1l-1.6 0-.4-.9-2.6 3.5 1.4 2.5 3.3 .4 .5-1.6zM249.8 347.2l2.4 .4 1.4-1.8-1.7-2.9-2.1 1.3-1.2 2.2zM303.8 311.1l-1.2 2.8 4.6-.3 1.3-4-2.8-1.6zM172.8 466.1l-2.6-1.2-2.2 .2-1.3 3.2 1.8 1 4.6 .9zM295.7 420.1l1.3 1 2.5 .3-.6-1.6-3-.9 .1 0zM215.7 352l2.7 1.5 2.9-1.4 .1-1.7-4.6-.1zM265.1 345.2l3.5 2.7 .9 .4 2-2.9-1.8-2.4-4-.3 0-.7zM207.7 385.9l2.8 3.5 1.9-1.2-.8-3.9-.9-.5-3.2 1.6zM273 338.9l3.1-.4-.9-1.8-.3-2.5-2.3-.2-.8 2.4zM283.1 377.1l.5-1.9-1-2.6-1.9-.3-2.5 3.6 3.2 2.2zM297.9 327.9l.6-3.3-.9 1.5-2.1-1.9-3.8 1.6 1 4.9 2.2 .2 .9-.5zM248.8 298.3l.9 1.3 2.9 .9 2.3-1.1-.6-.8-2.6-2.9zM265.3 422.1l-2-2.4-2.8 .7-.1 1.4-.1 1.4 2.8 1.6 1.3 .1zM273.4 369.1l1 .5-.6-2.5-1.1-2.7-1.3 .4-2.1 3.3zM171.5 496.1l-2.1 .8-2.1 3.8 .7-.6 2.8 1.8 1.4 .3 2.4-2.1zM256.5 337.6l3.3 .9 1.6-.1 1.9-4.5-.8 .7-4.6-1.6zM301.7 339.7l-.5-3.7-1.9 0-2.6 2.8 1.4 3.1zM267 388.3l-1.3 2.3 2.3 3 2.7-4.4-1.7-1.5-1.7-.3zM332 336.2l-2.6-1.7-1.3 1.4-.1 1.6 2.7 .7 1.7-1.3zM197.7 319.2l1.2-1.3 2.4-2.8 .3-1.7-5.6 .5-1.7 1.6 .8 1.1zM244.2 465.4l-3.6-4 .5-1-2.2 2.9-.6 0 4.2 2.7zM241.3 427.5l2-1.8 .3-2-1.1-1.3-3.8 .5-.5 3zM245.9 427.4l.5 0 3 2.2 1.1-2.1-.7-2.2-2.5-1.6zM193.6 189.2l2 .3 2.5-5.6-3.8-1.4-.1 .6-.4 3.1-3-1.3-1.5 0zM162.5 337l2.4-5.1-.3 .3-3.5-1.6-2.5 5.5 1.4 .4zM245.8 152.6l1.3 2.6-1.5 3.3 .8 1.8 7.8-3.4-1.4-1.9-.3 .5-2 .5 .4-2.4zM152 266.6l-3.8-3.7-4.7 2.5-.2 1.3 5.2 3.1 1.9-1.4zM299.6 253.1l-2.6-2.9-1.2-.3-2.8 3.3 1.3 1-.7 .1 3.6 .6zM243.2 327.4l.4-1.1 1.8-2.6-.8-2.2-2.3 1.3-1.4 .9zM227.9 335.2l2.2 1 2.4-1.7 .2-2.9-3.3-.4-2 2.5zM156.6 451.6l-2.1-2-1.1 3.6 1 4.3 1.3-.3 1.4-2 .8-3.6zM265.7 255.4l2.5-.1 2-.8 .5-3.8-5.1 2.1zM264.4 152l2.1-1.3-3-6.1-2.9-.7-3.3 4 2.1 3.3zM249.1 168.6l-1.7-2.7-1.8 .1-2.6 1.6-.5 3.2 0 2.9 4.9-2.3 1.3 3.2zM276.5 434.4l3 .8 3-2.1-1.1-1-1.6-.4-2.7 1zM229.1 394.4l3-.1-.4-1.7-1-2.6-1.1-.2-1 3.3zM341.6 341.8l.1-1.4-.2-.1-1.4 .8-.3 .4zM152.8 497.9l-.7-2 1.8-2.3-1.8-.8-3.6-.8-2.2 4.9 .1 1.6zM327.7 420.4l-1.8-3.1-1.6 1.6-.3 1 .3 .6 .3 1.8 3-.7zM191.2 410.2l1-2.2 .3-.3-2.3-.2-.9 1.7 .2 .2zM163.4 326.6l2.1 0 1.7-1.6-.6-3.9-2.1-1.2-1.2-.1-.2 2.9zM293.5 417.4l1.2-3.7-1.5-.9-2.7-.3 1.1 5.5zM257.1 283l.1 3.8 2 .3 3.7-.2 1.8-2-4.5-3.5zM240.4 433.1l-.3 .7-1.6 4 .7 1.5 2 .9 2.2-3.8-.7-3.3zM264.4 356.2l-.7-2.1-2.1-.8-2.2 3.2 1.3 1.1 2.1-.1zM224.1 201.5l-4.8-3.1 .5 .7 .5 4.9-1.2 1.4 5.7-.9zM333 419l3.5-1.5-1.2-2.5 .8-1.1-6.1 1 .4 1.7 .2 1.5zM185.4 470.2l2.5-.8-.8-5.3-1.2-2-2.9 1.8-2.1 3.1zM284.8 366.1l-2-1.7-2.1 2-1.3 2.2 2.1 1.1 2.3-.4zM321.9 426.8l2.3-3.5 .4-1-.3-1.8-4.4 1.2-.6 1.2zM212 491.6l-1.4 2.7 2.9 2.6 3.7-.4 .2-3.1-2.1-1.7 .1-.7zM243.8 357.3l2.1-1 .4-3.6-3.3-.1-.1 4zM215.6 487l-1.3 .2 1.1 3.8-.1 .7 3.3-2.6-2.1-2.1zM91 455.1l3.2 3 3.1-1.6-4.1-3.6-.2 .1-2-1zM302.4 384.1l2.8-.1 .4-1.3 .8-3.5-1.3-.3-4.6 2 .9 2.6zM229.4 350.4l-4.5-.1 .2 3.3 2.7 2.3 .5-1.2 1.2-2.8zM180.9 444l3.6-.3-.4-2.1-2.3-3.2-1.2-.3-1.8 2.3zM238.2 342.9l2.5 1.3 3.1-1.1-.2-.3-4.2-2.2zM278.8 276.2l.4-4.4-4.2-1.5 .7 1.2-1.3 4.4zM298 285.5l-2.4 .7-.8 5.2 2.3-.1 3.1 0 1.4-2.6zM264.3 378.6l-1.3 .8 1.2 2.3 4.1-2 1.6-.1-2-1.5zM173.2 435l-.3-.1-2.7-1.4-2.6 4.2-.7 .3 2.4 .7 1.9-.9zM320.2 457.9l2.3-1.1 1.1 .2 1.2-3.4-1.8-.2-2 0-.8 1.7-.2 2.5zM315.3 445.1l-5.2 .3 1 2.2 2.3 2 1.1-.9 1.5-2.9 .6-1zM247.4 165.9l.1-2-1.1-3.6-.8-1.8-2.8 .5 .2 2.6 2.6 4.4zM229.4 408.1l.8 .8 2.7 .7 1-2.5-.4-.2-1.6-1.2-2.2-.1zM298.2 406.4l.9 .7 1.2-1.2-.3-3.5-1.2 .1-2.7 1.1 .9 3.2zM161.5 293.1l-1.2 3.8 2.6 .5 1.8 .6 2.8-3.8-2.9-2.5-1.2-1.5zM164.2 384.2l-.3 3.5 1.2 1.1 1.8-1.5 1.3-4-3.7-2.5zM300.9 246l1.7-3.7-.3-1-3.2-1.8-1.3 3-.8 2.5-.2 1zM309.6 418.8l1.4 3.7 2.1 1 2.1-1.7-.8-1.3-2.3-1.9-.9 .1zM280.3 267.4l1.2 4.8 .8 .7 3.5-3-1.8-2.6-2.1 .1zM339.7 302.6l-.9-2.6-.3-1.8-2 .6-.5 4 2 1.8zM192.7 252.9l0 5.4 6.4 .4 1.3-2.7-4.5-4.5zM288.4 355.5l-1.4 2-.5 .4 3 1.2 .8 .2 3-2.3zM225.3 456.6l.4-1.4-1.6-4.4-2.2 2.1-1.2 3.6 1.8 1zM205.2 444.9l-.1 .6 3.6 .8 1.6-1.7-.5-2.5-2.1-1.8zM332.4 352.1l.1-.8 2.1-.8 .4-.8-1.4-3-1.3 0-1.9-.5zM224.2 439.8l3.6 2.6 2.5-2.9 .3-.2-.6-1.3-5.1-.9-.4 2.2zM184.9 504.8l1.2-3.6-4.7-1.4-.1 1.6 2.2 4.6zM285.2 384.3l1.4-1.5 .4-1.8-1-1.8-3.9 3zM264.5 399.1l2.3 3.3 2.7-.9-1.1-2.8-.9-.9-2.6 1.6zM148.3 437.5l-3.3 .7-2.2 2.5 1.8 1.2 .2 1.1 4-.1zM290.8 430.1l-3.6-.6-1.4 2.5 .8 1.7 3.1 .5zM179.3 481.3l-1.4 3.5 2.3 1.4 1.9-.6 .5-4.4-4.8-1zM244.6 327.7l.2 .7 3.9 2.2 1.1-.3 .9-.2-1.3-3.7zM334.2 340.2l-1.2 1.3 .3 .6 2-.3-.4-1.3zM159.4 481l-.5 0-4.9-.5-1.2 .1 2.1 4.2 4.3 .6zM221.9 214.3l-6.2-2.1-1.1 3 .1 5.1 0-1.8 4.8 1.5 .5-1 1.8-1.8zM333.5 297.6l.8-.8 2.1-3.4-2.1 .4-2.6-.5 .2 1.4zM308.9 256.1l-1.6 5.4 1.5 .1 2.3 .7 .7-.7-2.8-5.5zM147 471.2l2.9-.5-.2-3.5-6.9 .2-1 1.1 .9 2zM246.9 307l-1.5 2.1 2.1 2.6 0 .2 1.2-2.8zM291.9 455.1l1.5 3.1 .4-.2 .4 .8 3.1-2.8-.1-1-.9-.4-3.8 .2zM127.2 498l2.5 3.4 4.9 2.2-.7-6.8-2.4-2.1zM306.8 296.7l1.6-1 1.1-3.4 .2-1.9-1.9-2.4-3.1 2.6-.9 3.6zM150.2 400.1l-.8 1 3.5 3.8 5.3-1.5-1.6-4.8-2.6-.3zM211.6 218.6l3.1 1.7-.1-5.1-2.4-1.9-1.2 .7-2.1 1.6zM332.7 411.1l-3.1 1.4-.1 .6 .5 1.8 6.1-1-1.7-2.7zM289.9 232.2l.9 2.5 3-.9-1.1-3.7-.7-.4zM278.1 262.6l1.9-1.3 .3-3.2-2-.5-1.8 3.4zM167.8 352.7l1.2-4.3-.5-.3-3.5 1.3 0 3.1-.2 .1 1.3 1zM286.9 231l-.3-3.5-.6-1-1 1-3.3 3.3zM289.2 369.3l-2-3-1-1-1.4 .8-1 3.2 .9 1.2zM177.2 405.3l-2.9-1.7-2.2 .4 .6 4 2.1 1.3 2.2-1.3zM235.2 416.2l1.8-4.2-3.8-.1-2.5 2.2 1 2 .5 1.2zM241.2 350.4l-2.3-1.7-.9 1.4-1.5 2.1zM202.6 293.2l3.6 .8-2-5.7-2.4-.4-.2 5.6zM245.9 400.7l-1.6-1.5-3.3 2.2 .9 1.4 1.8 2.7 2.9-1.6 .1-3.2zM160.1 329.8l3.3-3.2-.3-3.9-2 1.6-2 4.9zM337.3 375l5.9-3.2-1.9-2.2-2.9 .3-3.2 3.1zM256.3 175.6l-.7 0-5 4.3 4 3.4 5.3-2 .1-.1 .4-1.8zM341.6 406.6l-2.3 3.6 1.3 1.1 2.2-4.4zM298 436l.1-1.2 .1-2.1-1.2 1.1-2.2-.4-2.3 1.7 2.2 2.9zM273.8 383.9l-1-2-2.6 2.3 .4 .4 2.1 2 1.3-.3zM283.9 441.2l-1.1-1-1.5 3.5 1.3 1.5 3.2 .3zM204.6 226l.1 .6 5.3 2.2-.1-5.1-1.4-1.1-3.8-1.2zM142.3 534.5l1.4-.6 2.3-1.9 .2-.1-.2-.7-2-3.9-3.6 2 .2 3zM262.1 403.7l.7 0-2.3-3.6-.7-1.2-2.6 2 2 1.4zM329.2 290.5l-2.8 .2-1.3 1.2 1.2 3.2 2.1-.2 1.2-2.9zM300.9 246l.3 .7 1.1 .6 2.3 .2 .6-.6-1.4-.7-1.2-3.9zM298.2 332.6l-.3 2.8 1.4 .6 1.9 0 .6 .7 1.1-2.6-1.8-2.7zM342 340.3l-.2-1.2-.1-.3-.7-.1-.3 .6 .8 1 .2 .1zM256.2 290.8l1.9-5.4-4.9 2.2 .4 .9-1.1 1 2.3 2.8zM196 313.9l-2.2-3.8-1.3 .1-2.3 1.2 .6 3.2 3.5 .9zM186.8 190.1l6.3 .7 .5-1.6-4.3-4.3-1.1 .1zM306.5 425.4l.4-.1 1.4-.9 .9-.6-2.2-4.1-1.4-.3-1.4 .5-.6 2zM221.9 480.4l1.1-.2-3.1-2.2-2.9 .6 .2 2.3 3.6 1.8zM207.5 350.3l.4-.2 5.3-1.5 .6-2.2-3.4-1.9-3.8 2.5zM244 301.8l1.1 2.8 3.1-1.2-.6-2.8-2.3-2.4zM230 179.2l-4.8-1.1-.4 .6 1.8 4.4 5.2-.2-1.5-.9zM209.5 416.3l2.9 1.3 1.1-3.8 .3-1.1-4.8-1.8-1.9 1 1.1 1.3zM293.5 374.3l-.8 1.4 1.2 2.8 .5 .3 2.4-1.3 1.2-2.4-.1-.1zM297.6 384.8l1.2 1 2.6-2.3-.9-2.6-.9-.4-2.5 1.2 0 2zM271.9 396.2l-.1 .1-.9 .9 1.8 2.9 2.2-1 .4-1.6zM239.8 471.8l-3.2 1.1 1.4 1.3 2 2.2 3 .5 .3-5.2zM286 460.2l1.5 2.8 3.5-2.8-1.9-2.2-2.8 .2zM231.1 316.4l-2.2-4-1.4 2.1-2.8 1.2-.3 .7 2.2 2.2 1.8-.5 3.3-.6zM248.4 362.9l1.4 1.8 1.3 .3 1.2-.8-1.5-4.4-2.8 .8-.5 .2zM317.6 280.9l-3.6 2.6 .6 3 3 1 .8-.7-.1-5.5zM242.1 310.9l-.7 1.2 .2 3.5 3.7-.1 .5-2.9zM306.3 317.3l0 1.6 2.1 3.7 0-.8 1.3 .1 .1-4zM162.9 401.3l3.4 1.7 2.8-4.4-.9-1-2.2-.2-2.6 2.2zM147.9 395.1l-2 1.3 .4 2.9 3.9 .8 3.8-1.8-1.5-2.6zM344.5 337.1l3.2-.7-1.5-3.9-1.1-.1-1.4 1.8-.9 1.7zM274.8 344.7l3.9-3.8-.6-.3-2.4-1.1-2.2 2zM243.6 342.8l2.2-3.6 0-.2-3.2-2.7-3.7 .5 .8 2-.3 1.8zM337.6 317.2l-1.8 4.6 3.1-.3 1.1-.6-1-3zM329.2 290.5l.4 1.5 2.5 .8 .2-3.8-2.7-1.4zM172.7 334.1l-.3 2.1 2.8 2.7 2.3-3.2-.8-3.1zM127.6 431.5l3.7-4.4-4.1-2.8-2.6 2 2.3 5.4zM249.2 431.5l2.2 1.9 3.3-4.4-3.3-1.6-.9 .1-1.1 2.1zM324.4 299l.9-.2-2.3-2.9-4.7 .2 .5 2.4 2.6 2.6zM323.2 380.2l-.2 2.3 1.2-.3 1.9-.5 1.1-4.9-3.7 3.3zM155.8 324.3l-1.3 1 4.3 4.6 2.3-5.6-1.8-2.8zM248.2 435.1l-2.5 1.6 1 1.6 2.6-1.7 .4-1.1zM284.7 360.3l1.8-2.4 .5-.4-2.4-1.5-2.4 .4-.4 1.9zM298.5 281.5l-.5 4 3.6 3.2 1.2-.2 1.7-4.8-2.2-2.8-1.9-.9zM137.6 442.4l-2 .3-1.5 1.8 2.1 3.8 4.6-2.1 .6-.6zM189.9 403.5l2.7 .2 1.4-3.7-2.7-1.2-1.5 .9-1.1 1.2zM220.5 411.6l1.7-.4 2.1-3 .5-.5-2.6-1.5-1.8 .2-.2 3.2zM249.5 336.4l1.5-3.1-2.3-1-2 2.3 1.1 1.2 1.4 1.1zM291.3 362.9l.3-1.3-1.3-2.3-.8-.2-1.4 3.9zM293.1 410.9l1.8-.4 .6-2.7-2.8-1.7-1.8 1.9 0 .5zM307 342.8l1.5-.9-.5 0-1.6-3.7-.6 .1-.2 .3-3 2.9 1.8 .5zM320.5 414.5l.6-.7-1.3-1.6-1.4 2.5 1.9 .7zM336.8 388.8l-1.3-2.3-3.7 2.1-.8 2.7 2.9 .5zM306.9 415.4l-1.2 .9-.1 3.1 1.4 .3 2.6-.9 1.6-.1-2.1-3.7zM328.4 341.7l1.2-.3 2.1-.1-.4-1.1-.6-2-2.7-.7-1.6 3.3zM281.2 237.9l.8-4.2-1.1-2.1-3.4 3.4 1.4 2.7zM267.6 368.1l-1.2-3.1-3.1-1.8-.5 3.3 1.9 .8 .1 .6zM263.3 333.9l-1.9 4.5-.5 1.1 4.8-.4-.5-2.8-.6-2.6zM338.9 343.8l.9 .2 .7-1-.7-1.4-.9 .5zM234.9 337.9l1.1 .6 3.7 .3-.8-2 .6-1.6-4.2-1.1zM224.5 489.4l-3.1-.1 .5 3.5 4.2 0zM212.6 446.9l.5 3.2 1.6-.6 1.3-.4 .7-2.4-3-.9zM253.7 273.2l-.8 2.9 1.1 1.9 3.2-1.4-.1-2.4-1.8 .2zM192.2 459.4l2.3 3.2 4.2-3-5-1.5-1.1-1.1zM192.2 485.8l1.3-.4-.6-2.1-.2-.5-3.8-2.8-.9 2.2-.3 1.4 2.3 4.7zM264.9 392.8l-1.3 2.8 1.3 3.8 2.6-1.6 .1-3.5zM281.7 326.1l.4 .4 2.7-2.1 .3-2.4-2-.4-3.3 3.4zM225.3 370.8l-2.3 1.7 1 1.7 1.3 2 1.9-4-.5-.1zM123.8 446.8l2.8 2.5 1.8 0-1.4-2.8-2.9-2.2-1.6-1.3zM340.4 266.2l-.1 2.1 .6 1.3 5.3-.8-2.7-3.4zM312.8 354l-1.4-1.2-2.8-1.9-1.7 2.8 .6 1 5.8 2.3zM294.2 321.4l1.3 2.8 2.1 1.9 1.5-4.2-1.4-2.4zM305.1 378.9l-.7-2.3-2.4 .3-2.5 1 .1 2.6 .9 .4zM306.8 395.5l-2-.1-2.3 3.3 1.7 .7 1.6-1.4zM334.5 405.3l3.5 .6 2.1-3.3-5.5-2.3-1.1 1.1zM284.2 248.5l-1.7-1-3.1 .6-.9 1.5 .3 2 1.4 1.4 3.2-1 1.5-2.2zM310.5 255.9l-1.8-.5 3.1 6.2 1.7-.5 1.2-3.3-.2-.9zM310.8 405.7l-3.6-1.3-1.6 1.7 2.6 3.8zM231.9 162.3l-1.8-1.9 .4 7.3 3.9-1.9zM326 281.6l1.6-3.8-.2-.7-1.7-.2-2.1-.3-2.8 2.5 1.3 1.1zM275.3 438l-1.2 3.7 3.8-1 .7-1.3-.3-.9zM106 465.2l.4-.8 3.6-5.9-3.1-.8-2.8 1.3-2.7 3.7 3.3 2.7zM198 284l-.5 .2-5.3 .3-2.1 .7 3.5 3 1.7-1.1zM258.2 347.4l1.8 1.7 2.7-1.2 1-.7-3.2-2.9-.6 0-1.3 2.2zM199.1 225.2l-1.7 2.1 4.2 3.7 3.1-4.4-.1-.6zM308.2 328.2l1.3-2.9-1.1-3.5 0 .8-3.7 .7 .6 1.6 2.3 1.7zM283.1 387.3l4.2-.9 .7-1.2-1.4-2.4-1.4 1.5-1.3 2.6zM191.9 324.8l-3.1-3.1-2.1 .8-.5 .6 .5 2.3 3.1 2.5 3-3.2zM308 362.9l1 2.2 2.2 .7 2-.2 .6-3 .3-2.1zM216.8 288.1l-1.5-1.8-1.9 3.4 1.6 1.5 1 2 3-3.1zM336.7 338.6l.6-1.4-.5-.7-1.6-.4 0 .5 1.1 1.9zM184.6 379l1.8 2.3 2.6-1.9-.7-2.8-1.9-1.4zM249.6 406l1-.1-4-2-2.9 1.6 .1 .3 2.4 2.3 .5 1.9 1.6 .1zM224.1 338.2l-3.1 3.2 2.2 1.9 1.5 1.9 1.3-.5-.6 .2 1.7-6.4-2.2 0zM213.3 392.9l-2.6-1-2.5 1-.6 2.9 .4 .7 4.3-1.4 1-.3zM308.8 368.9l-2-1.4-2.1 .4-1 .2-.2 1.7 1.9 1.1 3.9-1zM240.6 455.8l-3.6-.5 .2 3.1 2.6-.2zM262 318.4l-.8-2.1-.3-.9-1.6 1.3 .4 2.3zM209.6 482.8l-1.1 .8-1.3 2.8 1.8 2.5 1.1-.6 2.2-2.1zM181.7 419.7l3.3 1.7 3.4-.8-.5-4.8-2.4 .8-5.2 3.3zM260.4 172.1l-4.1 3.5 4.1 3.8 .8-4.4 1.9-3zM327.7 435l0-3.3-1.3-.9-3.1 1.2 1.8 2.5 1.1 1.8zM325.1 434.5l-1.8-2.5-1.9-.8-2.5 2.2 .5 .4 2.2 2.6zM297 406.8l-.9-3.2-2.3-2.1 .2 2-1.3 2.6 2.8 1.7zM147.3 343.2l.9 1.4-3.1-1.5-1 2.9 .7 2.8 .2 0 6.4-.7zM313.9 369.9l3.3 .9 1.5-1.9-.6-3-2.5 .6-1.2 3.3zM212.7 442.6l-2.9-.5 .5 2.5 2.3 2.3 1.1-1.1 1.3-2.8zM212.6 481.2l1.6 2.5 3-2.8-.2-2.3-2.4-.6-2.4 2.4zM168.9 480.6l1.7-2.1-5.8-3.7-1.3 1.4 .9 1.4zM265.3 383.9l-1.8 1.3-.5 .4-1.2 3.6 1.5-.3 3.7-.6 .3-.9zM250.6 411.8l3 2.4 .2 0 1.2-4.1-2.6-.9-2.6 2zM294.7 428.8l.1-1.3-2.5-1.9-1.6 1.3 .3 3.4 2.1 .4zM259 294.4l3-1.2 2.6-1.7-1.6-.5-2.7-.2-1.4 1.2zM300 444.6l.2 2.8 2 .5 1.9-2.2-.8-1.4-3.2 0zM313.6 269.1l.9-2.5-3.2-1.8-1 2 .6 1.8zM301.6 455.7l-.8 1.4 .9 2.6 .8-.5 2.8-1.3zM134.1 454.4l-4.4-3-1.2 3.1 2.1 4.1 2.5-2zM283.6 414.9l1.6 2.3 2.9 .7-.1-5.2-.7 .5-3.6 .9zM248.7 309.1l-1.2 2.8 .7 .8 3.9-1.9 1-.1-2-3.1zM288.2 135.1l-3.7 0-.4 .6-2.9 7.4 1.2 2.6 5.1-4.5 2.6-1.2zM246.6 403.9l4 2 .4-2.7-1.7-.6-2.6-1.9zM253.1 333.5l-2.1-.2-1.5 3.1 3.1 1.6 2.2-.9zM326.3 414.8l.9 2.3 3.2-.5-.4-1.7-.5-1.8zM344.6 373.6l4.6 .6 .3-.5 .3 .2-2.7-4.2-3.2 2.6zM265.8 410l.3 2.5 3.1 .7-.3-1.5 .4-4-1 0zM264.2 381.7l.2 2.4 4.8 .1-.9-4.5zM137.8 343.9l-3.2 .2-1.3 3.6 1.7 .3 2.6-1.2 1.6-.1zM220.8 468.7l.4 1.5-2.6 3.3 1.6 1.5 4.4-1 1.2-2.7-3-1.7zM260.8 442.5l2.1 .6 1.1-2-1.5-1.4-2.6 .2zM193.1 190.8l-6.3-.7-1.3 .9-.8 2.3 4.3 3.3 3.7-.8zM188.4 269l-.3-3-1.2 .5-2.9 4.1 .3 1.9 1.9 0zM251.4 320.5l-2 1.6-.5 3.1 .4-.9 4.2 .4-1.1-3.6zM299.5 438l1.5 .9-.1-3-.5-.9-2.3-.2-.1 1.2zM295.9 393.4l3.9-3.5-.9-1.2-2.8-.3-2 4.4 1.5 0zM313.4 414.9l-.2-.5 2-3.3-.6-.2-1-1.5-2.8 2.9 .9 2.3zM253.5 448.5l-1.7 .5-.8 2.2 3.8 3.7 .9-.9 .9-.6 .3-4.3-.2 .5zM174.7 435.2l4.4-3.3-3-1.7-2.4 .6-.8 4.1 .3 .1 2.3 1.5zM340.7 402.9l-.6-2.3 .6-2.9 .3-.8-5.1 1.8-1.3 1.6zM236.7 330.5l-2 3.5 4.8 1.2 1.1-2-2.3-1.4zM294.1 264.8l-.9 2.3 .5 3.7 4.2-2.6-.1-1.8zM207.2 417.6l2.3-1.3-1.3-3.1-3.7 2.1zM248.5 416.9l-1.2-1.7-.8-.3-2.2 1-1.2 3.5 2.8 1.3zM327 395.8l2.5-1.9-.3-3-2.1-.6-2-.1-1.9 .5 1.6 2.8 1.2 2.4zM96 330l1.5-4.7-4.4 0-4.5-2.7 .6 1.7 .2 2.9-1.6 2.5 0 .6zM276.6 304.4l1.2-.6-3.1-3.4-2.6 1.8-.6 1.8 .9 .5zM144.9 334.1l-1.1 .5-.1 1.5 .9 1 2.9 1 2.2-2zM284.2 401.1l-.1 .6 4.2 1.4 .4-4.2-1.9-.6-1.7 2.7zM269 289.2l-2.8 2.6 2.5 1.3 4.6-1.3-1-2.6zM182 303.5l-1.9-1.7-1.9 1 .4 0-.1 5.8 4.3-1.6zM282.3 457.7l.9 1.5 2.8 1 .3-2-.3-.7 .2-.2-2.6-.2zM263.1 342.8l-2.6 1.5 3.2 2.9 1.4-2 .6-3.2zM149.9 363.6l-.9-3.3-.5 .7-2.1 1.7-.5 .8 2.4 3.1 2.5-4.2zM275.1 406.2l-1.8 2.5 .9 2.5 0-.9 1.5 .4 3.5-.9-.6-1.6zM219.7 393.4l-.1 1.3 1.3 4.2 .3 0 3.9-2.3-.4-3.8zM236.5 437.1l-2.8 .7-.2-.5 .9 2.5 .6 3.1 2.4-1.5 1.8-2.1-.7-1.5zM214.5 427.6l-1.9 3.7 1.5 1.8 4.2-1.2 .1-.4zM268 372.4l.6-2.8-3.8 1.5-1.8 .3 1.9 1.8 .5 1zM97.3 461.8l2.6-5-2.6-1.1 0 .8-3.1 1.6-1.3 2.8zM222.5 462.6l1.2-1-2.2-1-2.5-.6-2 1.2 1.1 2.5 1.1 .4 4.5 0zM186.2 411.7l1 4 3.3-1.8 1 .4-1-1.6-2.7-1.8zM280.1 403.6l-1.4-.8-3 2.5-.6 .9 3.5 2 2.2-3zM259.9 311.6l.6 .7 .4 3.1 .3 .9 2.1-.4 1.7-1.6 0-1.8zM328.5 400.6l.6 4.5 1.5-.7 1.6-2.4-2-2.5-.3 0zM140.5 478.9l3.9-1.4-1.9-4.5-4.3 2zM242 376.5l2.1-1 1.8-3.4-.5 .2-1-1.4-2.3 .4-2.1 .7zM304.7 323.3l3.7-.7-2.1-3.7-1.7-.4-3.2 3.2zM319.1 398.8l1.3-2-1.4-.6-4.2-.2 1.8 5.6zM104.4 317l4-2.9 2-1.8-1.2-3.7-1.9 1.4-3.3 0-1.6 .3zM308.4 295.7l-1.6 1-1.7 3.2 6.2 0 0-2.6zM188.8 475.4l1.8-.9 .6-4.8-3.3-.3-2.4 .8zM256.3 407.7l2.6-.5-1.3-2.6-1.9 .5zM294 403.5l-.2-2-.2-.6-3.1-2.8-1.8 .8-.4 4.2 1.2 .8zM213.9 422.7l3.2-.3 .7-1.9-1.3-2.5-4.6-1.1-1.1 5.1 1.8-.3zM258.3 328.7l.2 .2 3.4-.3 1-.2 .7-2.1-1.3-2.3-2.4 0zM295.7 312.1l3.2 2.8 2.1 0 1.6-1 1.2-2.8-6.4-3.4zM270 415.1l-2.7 4.4 1-.1-1.4 1.6 4.9-.5 1.6-1zM242.7 360.4l1.6 .9 3.2-.5 .5-.2 .3-1.8-2.4-2.5-2.1 1zM232.7 308.7l-1.2-3.4-2.6 .3 .1 2.1 3.5 1.3 1.4-.3zM268.5 316.3l4.4 3.3 2.4-.4 1.1-3.4-6.9-.5zM329.4 288.7l-3.8-2.3-2.3 .7 0 .1 0 1.8 3.1 1.7 2.8-.2 .4-2.9zM297.8 266.4l.1 1.8 1.5 1 2.6 .5-.6-3.1-2.2-1.1zM320.4 406.3l0-3.3-3.9-.6 .4 2.9 .9 .8 .7 1.8zM282.7 397.5l1.9-1 .5-1.1-1.2-.8-4.1 2 .9 1.5zM158.7 371.1l-.1-1.2-1.2-1.3-3.8 2 1.6 3zM329.8 280.7l-.6 2.5 1.6 2.4 4.4-.3-1.4-2.8-.2-1.5zM277.4 324.2l2 1.3 .4-.5 3.3-3.4-2-2.8-3.6 1zM241.4 429.6l-.1-2.1-3.4-1.7-.7 3.5 2.9 1.6zM327.5 261.3l2.5 3 2.4-1.8-.4-4.2-2-.8-2.9 1.9zM149.6 325l-2.4 2.8 .1 1.3 2.9 1.3 1.6-.1 1.5-3zM125.7 526.7l5-.3 1.4-.3-.9-5.3-1.2 1.2-2.8 1.5-1.5 2.9zM290.6 227l-4 .5 .3 3.5 .3-.3 2.7 1.5 2.1-2.5zM178.8 440.4l1.8-2.3 .3-1.6-6.2-1.3 .8 1.3-.1 4.5 .4 .3zM317.5 456.5l.2-2.7-1.4 0-2.2-.4-.8 2.7 2.7 2zM340.3 268.3l-4.3-.4-.9 3.6 3.7-1.5 2.1-.4zM277.4 364.1l-.4 .2 3.7 2.1 2.1-2 .2-.9-4-2.1zM287.7 248l.8-4.7-.7 1.1-2.6 .5-2.6 .4-.1 2.2 1.7 1zM190.1 516.5l-3.5-.7-3.1 2.2 1.9 2.2 .8-.5 1.8-1.7 2.2 .4zM282.5 453.8l-.2 .1 .1 1.5 .5 .6-.1-.6 .8-.9-.5-.5zM263.5 385.2l1.8-1.3-.9 .2-.2-2.4-1.1-2-2.4 2.6zM295 236l1.2 1.1 2.8 .1 1-1.5-2.4-3.7-3.4 2.2zM154.7 408.5l-.1 4.2 3.9 2.6-.3-.4 1.7-5.8-2.8 0zM291 430.3l-.3-3.4-2.3-.7-2.7 2.4 1.5 .9 3.6 .6zM184.4 391.7l3.3 3 2.6-.8-.7-2.7-2.4-2.4zM333.6 346.7l2.3-1.3-.2-.9 .3-.6-2.3-.5-2.4 2.4 1 .9zM217.1 329l.1 2.9 1.5-.2 3.4-1.1-2.8-3.3 .2-.4zM268.7 462.1l-3.9-.1-1.5 1.9 .8 1.5 3.4-1.2 .8-.1zM265.9 457.7l-1.3 3.8 .2 .5 3.9 .1 1.5-.8-.8-2.7zM236.7 322.8l-2-.2-.6 4.2 2.8-.4 .3 0 2.3-2.4zM131.4 299.2l-1.6-7.9-1.8 1.2-2.5-.5-1.7 5.5 7.2 3.5zM316.4 439.6l-2.8 2.3 1.7 3.2 1.3-.3 .5-1 1.3-3.2zM192.6 331.7l1.4-.3-1.2-6.7-2.7 2.9zM296.9 460.7l2.7-3.3-2.3-1.4-3.1 2.8 .8 1.6zM288.6 315.1l-2.8 2.6 1.2 3.3 1.9-.2 1.4-3.8 1.2-2zM294.3 247.9l1.5 2 1.2 .3 4.2-3.5-.3-.7-4.1 0zM120.3 502.5l3.5-5.1 .2-1.2-1.3 1.2-2.7 .6-2.9 .3-.4 .3zM235.8 306.2l2.2 1.6 1.7-1.9-2.9-1.6-.2-.2zM239.5 354.7l1.5 2.1 1.9-.2 .1-4 .6-1.1-2.7-.4-2 2.8zM252.2 408.3l3.3-3.7-1.2 .9 0-2.2-1.2-.9-2.1 .8-.4 2.7-1 .1zM264.3 409.7l1.5 .3 2.5-2.3-2.8-2.6-2.6 1.5zM314.2 437.3l.7-2.3-.3-2.4-3.6 1.4 .9 2.8zM204.6 270.2l-.4-2.3-2.3-.7-1.9 2 .1 2.9 2.7 2.2 1.5-.5zM278.9 387.7l.4 1.5 .9 .6 4.1-.2-1.2-2.3 .8-.4-3.1-.5zM267.6 426l-3.2-1.1-1.3-.1 0 1.9 1 2.2 1-.1 2.1-1.2zM334.4 396.1l0 .7 1.2-4.5-1.7-.5-2.9-.5-1.8-.4 .3 3zM247.5 163.9l-.1 2 1.7 2.7 2.2-.4 1.8-4.4zM181.4 495.6l1.6 1.1 4.9 .8 .1-4.7-4.3 1.2zM292.9 420.4l-1.4 1.8 1.7 2.2 1.8-.9 2-2.4-1.3-1zM141.8 468.5l1-1.1-.9-3.4-.3-.3-4.4-.4 .4 3-1.3 2.8zM266.7 128.5l2.9-3.4-.3-2-4.8 .4-.5 1.5-.1 .1zM133.1 456.6l-2.5 2-.3 3.1 2 1 3.7-2.6 .6-.2zM201.4 294.9l2.1 3.9 3.6-2.2-1.7-2.8-2.8-.6zM104.7 465.4l-3.3-2.7-4.5-.3-2.2 4.8 .2 .4 .4 .1 2.7-.7 1.9-2.5 3.1 .5 .2 1.5zM280.3 392.1l-.1-2.3-.9-.6-1.5-.6-.8 3.5 2.2 .8zM345.2 379.9l1.3-2.5-2.6-.3-3.6 2.8 .9 2.1zM344.6 341.7l-.8 1.1 .5 1.3 .6 .3 1.6-2-.1-.1zM300.2 447.4l-.2-2.8-2.8 .8-.2 .7 .9 2.7zM272.1 358.8l2.7-2.2-1.3-1.6-1.6-.5-2 1 0 2.3 .9 .9zM230.7 286l-.9-.2-1.8 3.9 3 1.5 2.3-2.2zM204.8 488.9l.3-2.2-3-1.4-1.4 2.3 1.6 1.5 .3 .1zM258.9 435.9l.2 4.1 3.4-.3 .5-1.6-2.3-4.5-.5 .8zM115.6 469.1l-.2 1.1 3.3 3.9 4.9-2.6-1.5-4.5-5.3-1.4zM290.4 235l-4.3 .6 .4 .5 2.3 4.6 .5-.1 .9-2.3zM234.9 399.7l1.7-.4 1.3-3.2-2-1-3.2 1.4-.2 .6 .8-.3zM170.8 337.8l-2.3-1.2-3.5 1.3 2.3 2.4 3 2.1zM289.7 368.7l1.9 .1 .1-3.9-.3-.7-4.2 2.1 2 3zM254.3 298.6l.6 .8 1.6 2.3 3.2-1.1 .2-1.5-2.9-2.2zM148.5 389.8l-.4 4.2 2.3-2.2zM278.5 291.3l-2.9 1.8 .2 3.7 2.7 .1 1.6-4.2zM269.5 447.6l-.3 2.9 2.5 1.6 2.9-4.1-.9-1.1zM302.6 393.4l-2.2 2.7 .5 2.6 1.6 0 2.3-3.3-1-1.3zM271.3 156.2l5.7-5.7-6-1.9-1 1.4zM268.8 327.7l-3.8 .8 1.3 2.5 2.5 .9 2.5-3.3zM328.2 451.4l.9 .5 3.2 .2-1.1-4.5-2.8 .1zM179.1 470l1 2.3 5.1-.2 .2-1.9-4.4-3.1zM245.9 185.5l-1.6-4.5-2.9-.3-.5-.1 .6 4.6 .7 .5 2.6 .5zM302.3 255.9l-1.1-3.3-1.6 .5-2.4 1.8 2.1 2.7zM317.6 296.5l-1-3.1-.7-.7-4.4-.4 .8 5.3zM256.5 444.7l.2 4.9 .2-.5 3.6 .9 1.1-3.8-2.9-2.6zM288.1 406.4l-1.9 .1-2.1 2.5 .4 .3 2.7 .6zM259.9 362.9l-1.4-.8-2-.5-.5 .7-.2 2 1.1 .5 3 1zM188.9 464.3l-1.8-.2 .8 5.3 3.3 .3 .4-1.4-1-2.6zM325.7 276.9l1.7 .2 2.9-1.9-.6-2.3-.1 .3-2.9-.4zM240.9 180.6l-3.4-2.6-2.6 5.4 2.7 1.7 3.9 .1zM306.9 353.7l1.7-2.8-.2-1.1-3.3 0-.4 2.1-.3 1.2zM282.6 245.3l-3.6-2.8-1 2.4 1.4 3.2 3.1-.6zM295.1 367.7l-3.9 2.4 1.8 1.9 .9 .1 1.7-.5 .6-1.4zM282.3 452.6l-.4 .1-.2 1.1 .6 .1 .2-.1-.2-1.2zM328.7 269l.5-.7 0-3.1 1.4-.9-4.8 2.5 .4 .1zM302.3 255.9l.7-.1 1.3-2.5-3.3-1.1 .2 .4zM209 455.4l1.9-1.7-.3-3.2-2.4 .1-2.7 1.3 .5 2.8zM315.2 421.8l-2.1 1.7 .2 1.1 2.2 2.2 3-3.5zM231.7 338l-2.1 2.2 .7 2.6 2.2 .4 1.1 0zM341.3 369.6l2.5 2.8 3.3-2.7-.4-.5 1.2 .2-4.6-3.4-1.1 .4zM284.7 282.6l-1.9-.1-1.3 2.8 2.5 3 2 .7 .5-1zM159.3 360.7l1.2 .1 3.3-.8-.3-.9 .6-2.1-3.4-1.3-.7 .5-2 .6zM313.6 409.4l1 1.5 3.2-4.8-.9-.8-5.8 .5zM319.6 409.1l4.4 1.9 .4-1.6 .6-3.7-.2-.7-4.4 1.3-1.9 1.6zM177.9 414.2l-3.8 .3-.4-.5-.6 2.6 1.8 1.3 3.3-.5zM284.9 307.1l.8 1.1 2.9-3.4-2.1-3.3-4.3 1.5-1.8 .7 1.9 3zM282.6 401.9l-2.5 1.7 .7 1.6 2.7 1.9 1.5-2.9-.9-2.5 .1-.6zM166.5 406.2l.5-1.5-1.8 1-2.4 3.8-.2 1.1 4.7 .9 1.8-2.5zM226 244.5l-1.1-.6 1.9 4.2 3.9-.4 .2-6-.4 2.5zM294.8 433.4l-1.7-2.7-2.1-.4-.2-.2-1.1 4.1 1.8 .7 1 .2zM324.3 447.4l-2.4 1.3 2.5 2.5 2.3-1.2-1.1-2.3zM324.3 418.9l1.6-1.6 1.3-.2-.9-2.3-.2-.7-2.7 2.4zM315.5 278.4l2.1 2.5 .7 .4 3.2-.4 .6-.7-1.3-1.1-2.6-4-2.2 1.2zM232.5 338.4l-.8-.4 1.9 5.2 1.8 .8 .6-5.5-1.1-.6zM210.7 383.8l.9 .5 .5 .2 2-3.2-1.7-2.7-2.1 1.2zM268.9 402.1l.6-.6-2.7 .9-.9 .4-.4 2.3 2.8 2.6 1 0 1.7-1.7-.6-1zM327.7 431.2l3.9 .1-.3-4.3-2.4-.7 0 2.5zM271 406l2.3 2.7 1.8-2.5 .6-.9-2.9-2.6-2.4 2.3zM288.6 304.8l4.7 .2-2.4-4.1-2.2-1.5-1.7 2.9zM341.2 333.4l-.7-2.2-.3 .6-1.1 .3-.2 2.3 1.5 .2zM228.9 401.8l.2 2.6 .6 1.2 2.2 .1-1.3-4.1 .6-.3-2.7-.5zM255.9 327.3l-.4 3.2-.7 .9 3 1.5 .7-4-.2-.2zM161.3 244.5l.5 6.8 .4-1.9 4 .7 2.9-3.3-1-.4zM296.8 360.3l-.3-3.1-2.3-2.2-.9 2-3 2.3 1.3 2.3 3.8-1.2zM315.6 377.6l-.2-3.2-1.9-.6-.5 2.1-1.6 .8 2.5 2zM317.3 342.6l-1.8 .8 0 3.6 .9-.8 .9 .8 2.1-3.5zM312.3 383.8l3-3.6-1.4-1.5-2.5-2-.6 .3-1.4 1.3 .4 3zM314.7 431.6l-1.9-1.6-3.2 .7 .6 2.7 .8 .6 3.6-1.4zM191.8 233.8l2.6-1.3 2.5-3.1-4.6-4.3-3.3 2.2 1.2 5.3zM265.3 422.1l3-2.7-1 .1-2.4-3-1.4 .5-.2 2.7zM294.1 286l1.5 .2 2.4-.7 .5-3.5-5.5 1.4zM311.4 393.5l1.4 .1 2.3-3-1.6-3.3-3.8 1.6zM111.7 462l-1.7 3.6 2.6 1.6 3 1.9 1.2-3.5-1.2-2.1-.1-3.7zM198.1 415.9l1.1-3.5-1.1-.8-4.9-.1-.8 1.4 4.4 3.2 .7 .3zM195.8 510.9l.1-.6-3.2-1.3-1.8-1-2.2 2.2 3.8 3.8zM284.1 352.7l-1-2.2-1.9-.3-2.4 1.2 2.1 2.2zM303.1 387.7l2.3 1.1 .9-2.4-1.1-2.4-2.8 .1zM214.3 452.4l-1.5 1 .6 6.4 3.5-4-.9-1.5zM349.8 373.9l-.3-.2 2.6 2.7 .4-3.9-.1-.4zM320.1 418.3l1.3-.3 .5-.8-1.4-2.7-.2 .9zM294.8 441.1l-.7 .4 1.7 .7 1.3-.2 2.4-4-1.5-2-3.3 2zM190.2 262.3l3.1-1.2-1.3-3.6-2.9 .5-4 2.1zM317.8 406.1l-3.2 4.8 .6 .2 3.4 .3 1-2.3-1.1-1.2zM241 401.4l-.2-.5-2.6 .1-.6 3 .7-.3 3.6-.9zM190.3 393.9l2 .2 2.1-.9-2.4-2.5-2.4 .5zM321.9 417.2l1.5-.7 2.7-2.4-2.2-1.7-2.8 1.4-.6 .7zM227.1 465.1l-4.6-2.5 1.2 1.5 .3 3.2 3-1.3zM301.5 304.9l.7-3.3-4.1-1.8-2.1 1 .1 5.1 1.6 2.1zM188.9 515.8l1.2 .7 .1 1.9 1 .2 2.5-1.4-2.9-2.1zM276.1 338.5l-.4 1 2.4 1.1 1.4-3.6-1.1-1.1-3.2 .8zM283 363.5l-.2 .9 2 1.7 1.4-.8 1-2.1-2.2-2.4zM326 330.3l-.6-1.8-1.4-1.4-4.2 2.7 3 2.4-.9 .4 4.1-.8zM281.9 452.7l.4-.1 .8-1.1-1.8-1-1.5 1.7zM179.6 360.9l0 6.5 3.7 .3-1.3-.4 2-4.7zM204.7 431.3l-.2-1-3.2 3.1-.3 1.7 1.7 1.5 0-.2 3.3-.8 .2-1.8zM244.4 442.3l1.3-.2 1.5-1.2-.5-2.6-1-1.6-2.3-.3-2.2 3.8zM294.8 441.1l-2.8 .8-1.6 3.5 1.4 .7 2.4 .2-.1-4.8zM249.3 402.6l1.7-3.3-1.2-1.7-2.6-.6-1.3 3.7 .8 0zM299 453.2l4.3 .6-1-.4 0-2.8-2.7 .9zM256.5 422.6l-.2 2.4 1.9 .3 2.1-2.1 .1-1.4zM179.3 481.3l-1.5-1.1 2.3-3.3-4-1.2-3.4 2 1.3 1.9zM193.3 359.8l3.2-.7 .7-2.8 .3-1.5-4.6 2.4-1.4 .8zM130.5 266.2l-4.1-4.1-1.5-.8-6.9 3.9 3 2.1 3.5 .2zM304.1 256.6l.2 3.5 .3 1 2.7 .4 1.6-5.4zM239.4 146.9l2.2 2.9 4.5-1.8-.7-3.2-5.8-1.1zM260.9 374.6l-.4-5.7-.8 .4-3.5 1.4-.3 .6 2.5 2.5zM264 265.7l-1.5-4.9-4.8 .8 .5 1.8 1 1.9zM313.8 430.2l-1-3.6-2.7 1.2-1.6 2.4 1.1 .5 3.2-.7zM325 428.5l-.1-1-3 .1-.8 .1 .3 3.5 1.9 .8 3.1-1.2zM304.1 412.4l1.3-1.3-1.6-3.4-.4 .3-2.1 3.5zM235.6 374.8l2-2.4 .5-1.5-3.2-1.1-2.1 1.7-.7 1.6zM315.9 401.1l.7 .5-1.8-5.6-.3-1 .1 .7-4 3.5 2.9 2.6zM157.5 335.5l-2.8-3.1-1.6 .9-1.7 1.6 1.6 3zM189 227.3l3.3-2.2 .1-.3-1 .5-3.1 .3-2.3 1.9 0 .2zM261.8 389.2l-1.6 .1-.2 2.8 0 .4 2.9-1.1 .4-2.5zM228.4 411.8l1.8-2.9-.8-.8-4.5 1.5 1.8 3.6zM217.8 342.1l-3-1.5-1.7 .4-1.2 .8 4.3 3.5zM184.6 345.9l2.3 2.2 2.4 .1 .3-2 0-.7-2.8-2.6zM305.4 388.8l-2.3-1.1-3.8 2.2 3.3 .7 1.7 .8zM76.5 462.3l-.8-3.8-.9 1.6-2.8 1 0 2.9 .6 2.6 1.6 .9zM268.1 421.7l-1.2-.7 1.4-1.6-3 2.7-.9 2.8 3.2 1.1 .2-.9zM136.6 332.6l4.2 4.5 2.9-1 .1-1.5-1.7-3.7-3.8 .5zM176.1 475.7l4 1.2-.2-1 .2-3.6-1-2.3-2.1 2-2.8-.1zM267.3 387.4l1.7 .3 1.6-3.1-.4-.4-1 0-3.8-.1zM198.1 494.1l.8 .7 1.2 .8 1.9-3.6-.9 .6 0-.2-2.8 .9zM281.3 316.3l.1 2.4 4.4-1 2.8-2.6-1.5-1.4-4.7-1zM218.9 299.4l.5 .9 2.3 2.2 1.7 .5 1.2-3.9-1.2-1.3zM189.6 424l-1.1-4.6-.1 1.2-3.4 .8 1.2 2.9 2.1 3.2zM318.8 384.7l4.2-2.2 .2-2.3-3.8-.2-1.9 2.3zM149.1 383.7l1.9 1.8 1.6-.6 2.1-3.6-.3-1.4-5.9 1.2zM259.7 418.7l-.3-3-1.8-1.4-1.6 .1 .5 2.9 .2 1.3zM305.6 406.1l1.6-1.7-1.3-2-1.7 1.2-.3 0-.6 2 1.6 1.8zM197.1 490.3l-1-.4-1 .9 .9 1.6 1.3-.8-.1-1.3zM170 371.9l-.8 1.9-2.6-.7 .3 3.8 1.3 1.2zM170.7 353.8l1.7-3.6-1.1-3-2.3 1.2-1.2 4.3zM214 345.8l2.8 4.5 4.6 .1-1.3-1.1-1.4-2.2-3.2-1zM202.4 332.2l-.3 .5 .8 .6 .9-4.1-1.8-3.6-3 2.9zM308.5 309.6l.1 .1 3-3.2-1.6-2.9-2.5-.5-2.6 2.3 .8 2.6zM149.2 476.4l2.4-1.7-.8-4.7-.9 .7-2.9 .5 1.5 4.6zM277.8 377.2l2 4 1.6 .9 0-4-2.9-2zM337.3 309.3l2.8-3.9-2.9-1.3-1.4 1.9zM231.2 442.9l-3.3 1.9-.5 .3 1.9 3.5 4.1 .1 .1-1.3-.1-3.3zM264 441.1l-1.1 2 2.3 3.1 1.5-5.2zM257.7 261.6l-1.5-3.1-4.5 2.2 1.5 2.9 2.9 1.1 2.1-1.3zM280.8 386.4l3.1 .5 1.3-2.6-3.1-2.1-.2-.7-1.4 3.5zM307.4 274.5l2.5 .4 1.8 3.3 2.2-4.2-.1-1.3-3.3-1.3zM278.6 439.4l4.8 .8-.8-2.8-2.3-.8-2 1.9zM279.1 267.8l1.2-.4 1.6 0 .3-4.9-2.2-1.2-1.9 1.3-.2 2.2zM339 386.3l2.3-3.7-4.3-1.5-.9 3.1 0 2.4zM301.6 279l-.8-4.1-2.5 1.6-1.8 1.6 2.2 3.9-.2-.5 1.9-1.5zM236 432.3l-2.2 3.1-.1 2.4 2.8-.7zM194 336.2l-1.5 3.5 2.8 1 1.4-2.3-2-1.9zM286.1 374.4l2.7 1.4 .2 .4 1-3.1-1.9-1.6-.5 1.9zM274.8 127.2l-.9 3.7 2.5 .6 4.7-2.6 .4-1.2-5.4-1.8zM296 300.8l-2-1.6-3.1 1.7 2.4 4.1-1.5 .2 4.3 .7zM212.3 353.1l-.8 1.3 1.2 3.3 1 .5 2.4-3.4-3.1-3.2zM338.2 344.2l0 .3 .1 .8 1.6 .6 .5-.4-.6-1.5-.9-.2zM254.8 428.4l2.7-2.1 .7-1-1.9-.3-2.9 .5-2 1.9 3.3 1.6zM257.4 351.2l3.2 2-.6-4.1-1.8-1.7-2.4 2.4zM152.2 437.9l1 4.3 1.7 1.2 .1-.5 2.8-2.8-.9-2.8-1 .1-.6 0zM227.9 466.6l2.9 .3 .3-2.1-1.8-2.8-2.2 3.1-.1 .9zM329.2 390.9l1.8 .4 .8-2.7-2.9-2.3-.7-.3-1.1 4.3zM197.5 288.7l-2.2-1.6-1.7 1.1-1.8 3.7 .3 0 2.5 .9 2.8-.9zM311 434l-.8-.6-3.1 2.6 .5-.3 1.5 2.5 3-.8zM192.8 333.5l-5.3 .7-1.8 .7 4.7 5 2.1-.2 1.5-3.5zM288.5 440.3l-.6 5.3 2.5-.2 1.6-3.5zM327 395.8l-1 .1-1.4 2.3 1.3 2 2.6 .4 1.4-1.1zM304.5 283.7l1.2 .7 2.8-.6-3.2-3.5-3 .6zM257.5 270.4l1.4 1.8 3 .2 1-3.2-4.8-.3-.8 1zM162.8 409.5l-2.9-.4-1.7 5.8 5.4 .7-1-5zM268 288.8l1 .4 3.3 0-.2-.6-1.6-2.9-.8-1.1-1.3 2.2zM263.5 372.8l-3.1 1.7 4.4 1.6 .1-2.9-1.9-1.8zM281.8 429.5l4.1-.7-1.2-2.8-2.3-.8-1.1 2zM272.9 319.6l.7 2.4 2.1 2.6 1.7-.4 .1-4.4-2.2-.6zM202.1 254.9l2.5 1.4 3.5-.9-1.1-4.4-3-1.1zM287.2 429.5l-1.5-.9 .2 .2-4.1 .7 0 2.2 4 .3zM319.2 260.8l-4.2-2-.3-1-1.2 3.1zM273.2 393.3l-1.4-1.8-1.9 2.7 1.9 2.1 .1-.1zM279.8 396.6l-.1-.5-2.8 .1-1.6 1.3-.4 1.6 2.5 3.4 3-4.1 .3-.3zM183.3 448.1l-1.9 5.4 2.8 .9 2.6-.1-1.1-2.8-2.2-2.3zM347.4 385.9l-1.7-1-1.7-.5-2.5 2.7 3 3.7zM299 257.7l1.6 .8-1.1 5.3 4.5-1.1 .6-1.6-.3-1zM266.1 269.9l-.4 3.2 2 1.1 1.8-1.2 .1-3.2 .3-.4zM286.1 262.6l1.4 .8-.9-2.8-.6-.4-1.2 .1-1.7 2zM316.3 427.7l-.8-.9-2.2-2.2-.5 2 1 3.6zM290.3 311l-3.5-1.2 .3 3.9 1.5 1.4 2.9-.1 .7-4.6zM216.4 389.8l-1.9 3.1 4 1.6 1.1 .2 .1-1.3 1.1-1.7zM343 394.7l-.8-2.9-1.6-.1-3.1 1.6 1.4 3zM232 468l-.6 2.9 .2 1 3.1-.5 1.3-3-1.2-2.2zM268.8 256.6l-.6-1.3-2.5 .1-1.7 1.6 .5 1.4zM198 487.9l0-1.6-1-.4-.8 2 .3 0 1.1 0zM130.2 282.1l-.9 1.6 3.1 3.7 4.9-4.2-3.2 .3zM244.3 181l4.4-.1-1.3-9.5-4.9 2.3 1.3 3.3-2.4 3.7zM338.6 422.7l-3-.3 .4 3.3 1.4 1 1.4-3.7 .5-.1zM307.4 274.5l-4.6-1.4 1.2 3.2 .8 .7 2.4-.3 2.7-1.8zM240.1 391.9l-.1-.2-2.2 4.2 3.4 .3zM171.9 321.5l-.8-2.4-4.5 2 .6 3.9 3.7-.4zM250.7 438.3l-1.4 2.7 2.2 2.1 .1-4zM310.3 313.8l-3.2 2.5-.8 1 3.5 .6 2.2-.9zM285 404.2l-1.5 2.9 .6 1.9 2.1-2.5 .1-1.6zM174.8 409.3l-2.1-1.3-1.8 .9-.6 3.8 3.4 1.3 .4 .5-.1-2zM250.8 295.1l.9 .6 2.6 2.9 3.1-2-3.1-2.5zM287.3 413.2l.7-.5 .3 .6 .5-2.9-1.6-.5-2.3-.5zM315.3 445.1l-1.7-3.2-2.2-.5-1.2 4zM292.5 249l.5 4.2 2.8-3.3-1.5-2-.7 .1zM256.3 308.7l-2 2.3 1.4 2 4.8-.7-.6-.7-1.2-2.1zM162.7 440.3l-1 .8-2.9 4.5 3.4 1.3 4.4-3.1-1.3-1zM199.4 489.3l.4-.3-.7-1.1-.7 0 .3 .9zM258.5 374.8l-1 3.2 4.2 .3-.8-4.4 0 .7-2.5-.8zM283.6 454.5l1.1-.5 .1-.6-1.5-.1-.2 .7zM271.9 264l1.8-2.4-3.1-2-1.6 2.4 1.5 3.1zM300.2 367.1l.5-1.3 1-.8-3.5-1-1.8 .9 2.3 1.3zM306.7 449.7l1.5 .1 2.9-2.2-1-2.2-.1 .7-1.2-1.4-2.3 .5zM270.8 358.7l-.9-.9-2.9-.7-.7 2.6 1.1 .9 2.5-.8zM232.1 394.3l.6 2.2 3.2-1.4-.3-3.1 .4-.8-4.3 1.4zM203.5 391.1l.5 .4 .8-1.4 2.4-2.5-4.2-1.5-2 1.8zM149.9 290.8l1.2-3.9-2.8-2.6-3.9 1.9 1.7 4.5zM134.6 340.2l-1.8 2.6 1.8 1.3 3.2-.2 .3-.6-1.2-4.2zM231.6 311.2l.9-2.2-3.5-1.3-.4 1.1 .1 3.3zM202.7 195.5l-4.2-.3 .2 3.4 4 .6 3.1 2.7 .4-2.3zM156.2 308.9l1.8-1.5-2.1-2.2-2.5-1.3-.1 3.4 3.1 1.4zM249.7 435.5l-.4 1.1 1.4 1.7 .9 .8 .9-.9 0-4.4zM342.8 329.2l-.3 .3-4.1-2.5-.7 2.5 2.5 2.3 .3-.6zM336.1 386.6l0-2.4-3.6-1-3.7-.8 .1 3.9 2.9 2.3 3.7-2.1zM280.6 343.5l-1.6 2.4 .6 .3 1 1.4 4.1 .3 .2-2.7zM269.2 348.6l-3.6 1.8-1 1.6 3.8 1.3 2.2-2.4zM231.7 317.5l-3.3 .6 1.7 3.2 2.8 .4-.1-.3-.7-1.7zM270.2 254.5l2.3 1.2-.6 1.3 3.3-1.6 .8-2.3-4.2-2.8-1.1 .4zM228.4 318.1l-1.8 .5 0 1 1.9 3.1 1.6-1.4zM147.1 304.1l.8-1.3 .7-7.1-4.4 1.9-3.2 5 1.2-1.6zM239.5 324l-2.3 2.4 3 4 .9-1.1 2.1-1.9-2.3-3.7zM332.1 270.4l-2.4 2.5 .6 2.3 2.7 .9-.5-3.6 1.5-.6zM163 345.3l-2.5-1.4-1.2 .7 3.1 2 1-1.2zM157.9 375.6l-2.2 4.7 4.1-.2 1-2.7zM297.2 445.4l2.8-.8 .1-.3 .9-1.4-3.9-.9-1.3 .2zM180.4 429.2l-1.4 2.8 1 .5 3.9 0 .2-.2-.5-2.9-1-1.4zM207.8 335.8l2.6-1.6 .9-3-2.2-1.9-4.6 2.6 2 3.6zM299.1 427.3l-.5 .5 .7 2.1 2.5 1.1 .5-.1-1.8-4.3zM191.9 297.4l-2-.8-1.7-.7-1.5 2 3.9 4.7 2.1 .9zM186.1 501.2l.6 .4 2.2-2.7-1-1.4-4.9-.8-1.6 3.1zM189.3 409.2l.9-1.7 .1-1-.7 .5-1.2 1.8zM237 484.8l-.3 1.1 1.4 2.9 3.7-2.4zM318.5 319l.8-1.9 1.5-2.2-3.7-1.7-2-.1 .9 1.6zM199.4 395.6l.7 .4-1.7 5 1.9-.6 3.6-1.4-.6-3zM338.8 336l.1 .5 2 .2 .8-.6-1.3-1.3zM298.1 341.9l-1.4-3.1-3.3 .5 .4 2.8 1.5-.2 2.9 .4zM321.4 418l2.6 1.9 .3-1-.9-2.4-1.5 .7zM320 457.6l.2-2.5-2.5-1.3-.2 2.7zM287.2 280.6l2-1.9 .3-2.1-.3-3.1-3 1.2-.1 2.6zM205 425.8l-2.1 1.2 1.6 3.3 .2 1 2-2.1-.2-2.5zM197.6 388l-.1 1-.1 .4 2.8 3.2 3.3-1.5-2.5-3.2zM201.8 358.8l-2.9 1.5-1.3 2.9 3.4 1.1 2.9-1.9-.1-1.4zM340.3 379.9l3.6-2.8 .7-3.5-1.1-1.9-6.2 3.3 .9 3.6zM126.6 477.3l-2.2-6.4-.3 .4 .7 6.1 1.6-.4zM198.2 235.8l4.3-4.2-1.5-1.6-3.8-.5-.3-.1-2.5 3.1 2.6 3.1zM275.7 410.7l-1.5-.4-1.3 2.7 1.7 2.8 3.8-.8 .5 .3zM123.2 422l1.6-2.9-1.2-3.8-4.8 2.2 .6 4.5zM239.1 165.5l-.5-3.2 4.4-.7-.2-2.6-4.8-1-.2 1.7zM316 445.8l-1.5 2.9 2.5 2.7 2-1.6 2-1.4zM201.5 496.3l-1.4-.7-1.2-.8-2.5 1.9 1.8 1.1 4.5-.5zM246.8 451.3l-1.4-2.6-1.2-2.4-1.4 1.5-1.1 1.8 1.1 2.9zM225.3 432.1l-2.3-1.7-3.5 .6 3.1 3.8zM285.2 417.2l-1.6-2.3-1.7 1.3-1.3 2.7 2.8-.7zM238 451l-1.1 1.7 .5 1.8-.4 .8 3.6 .5 2.5-1.8-.3-.4zM263.3 388.9l-.4 2.5 1.7 .9 1.1-1.7 1.3-2.3zM208.7 364.5l-2.8 .3-1 2.8 3 .5 3.9-1.3zM286.9 390.6l1.9-1.3 0-.8-1.5-2.1-4.2 .9 1.2 2.3-.2 .1zM281 278.2l.5 3.3 1.3 1 1.9 .1 .9-.5 1.6-1.5-1.1-3.3zM208.2 413.2l-1.1-1.3-4.3-1.3-1.9 1.2 4 3.3zM268 318.3l-3.1-.9-.5 1.6-.7 1.2 2 2.2 2.9-4.5zM200 281.3l-.3-3.9-2.7-1-1.8 4.1 2.1 .8zM270.5 285.7l1.6 2.9 1.3-1.5 2.2-5.1-2.5 .3zM212 200.7l.3 0-3.2-3.4-2.9 2.3-.4 2.3 .8 2.2 1.7 .1 .5 .3zM274.5 349.5l.4-.8 .6-4-4 .7-2 2.9zM238.7 465l-5-.3 1.1 1.5 1.2 2.2 2.1-1.1zM296.3 454.6l.9 .4 1.8-1.8 .6-1.7-1.5-1.9-2.3 1.7zM267.7 274.2l1 3.5-.6 .6 3.6-3.6-2.2-1.7zM287.4 290.9l-4.1 2.2-.1 3.4 5.6 0-1-4.6zM270.8 425.5l-.4-1.5-2.3-2.3-.3 3.4zM207.7 187l-3-3.2-2.5 3.2 3.5 1.1 1.9 1.5zM217.4 360.5l-.5-.5-2.9 1.1 1.6 3.2 1.1 .1 2.7-1.6zM243.8 177l-6.7-1.8-3 1.5 3.4 1.3 3.4 2.6 .5 .1zM252.2 282.9l-1.3 1.1 4.6-2.6 .2-1.8-4.9 .8zM333 375.7l-.1 1.8 1.2-5.3-2.5-.4-6.2 .1 1.9 4.1zM229.4 350.4l.5-3.2-3.9-2.5-1.3 .5-1 5.1 1.2 0zM311.7 414.6l-.9-2.3-3.2-1.3 1.1-.4-2 .5 .2 4.3 2.2-.4zM296.6 240.7l1.2 1.8 1.3-3-.1-2.3-2.8-.1zM281.6 410.6l-.8-.7-1.3 4.4 2.4 1.9 1.7-1.3 .1-.8zM283.4 418.2l-2.8 .7-.4 .4 3.2 3.2 .6-.2-.1-1.5zM303.6 265.9l-2.2 .7 .6 3.1 1.6 2 3.5-3.2-.3-1.8zM237 421.6l1.7 1.3 3.8-.5 0-1.4-2-1.9zM255.9 371.3l-2.1 1.5-.3 3.4 5-1.4-.1-1zM321.5 436.4l.1 0-2.2-2.6-2.7 2 2.6 3.1zM180.1 301.8l.5-2.9 1.4-1.6-3.8-.2 .2 .7-1.8 3.2 1.6 1.8zM223.7 461.6l4-1.7-2.4-3.3-2.8 .9-1 3.1zM290.6 227l1.4 2.7 .7 .4 1.4-1.9-3-2.5zM255.6 305.6l.8 0-1.4-2.8-3.9 1.6 0-.2 .2 2.8zM143.8 423.4l2.1 .7 .7-3.5-4.2-.9zM343.8 390.4l.7 .4-3-3.7-.7 .2-.7 4.4 .5 0 1.6 .1zM185.9 512l-2-.1-.4 1.2 3.1 2.7 3.5 .7-1.2-.7-.2-4.5zM151.9 530l.1 0 3.1 0 1.9-.7-1.7-1.6-3.7-1.4zM127 282.5l-3.2 .9 1.2 .6 .4 3.5 2.6 2.5-3.4 .7-.7 .6 1.6 .7 2.5 .5 1.3-8.8 .9-1.6zM143.4 317.8l3.5-3.8-1.5-.8-4.6 2zM306.7 429.3l1.8 .9 1.6-2.4-1.8-3.4-1.4 .9-1.2 3.3 .3 1.6zM221.2 398.9l1.6 3.5 2.2-.4-.2 .6 1.6-5.5-1.3-.5zM303.8 407.7l1.1-.3-1.6-1.8-3 .3-1.2 1.2 4.3 .9zM206.2 405.4l1.6-1 1.9-3.1-3.6-1.8-.5 1.9-.5 2.4zM336.9 261.7l.3 2.4 2.3 .8 1.1-2.9-.6-.8-2.4-.8zM335.4 339l.9-.5-1.1-1.9-.6-.1-.4 2zM245.9 372.1l-1.8 3.4 1.9-.4 4.1 1.5 .4-2.9zM190.8 314.6l-.6-3.2-3.1 .4-2 2.5 .5 3.1 3.6-1.5zM309.8 317.9l-.1 4 1.3-.3 2.2-5zM206 476.2l-3.8-2.9-1.5 0-1 2.2 2.6 2.1 1.2-.3zM336.3 332.3l0-2.6-1.8-.1-1.2 .3 .1 2.3zM286 379.2l-.1-.2 2.9-3.2-2.7-1.4-2.5 .8-.5 1.9zM265.7 339.1l.6 .7 3-.8-.4-3.4-3.7 .7zM280.4 303.7l1.8-.7-.8-3.3-1.4-.1-1.9 1.9zM314.1 453.4l-1.8-1.2-2.1 .2 .2 .5 1.1 2.8 1-.2 .8 .6zM153.9 318.5l-1 3 2.9 2.8 3.5-2.8-2-1.6zM296.7 352.5l.9-1.2-2.2-2.4-1.2 3.9 .4 1.5zM335.3 267.3l.8 .4 1.1-3.6-.3-2.4-4 .8zM271.2 329.3l2.6-2.5 .3-.8-3.6-3-1.9 .6 .2 4.1 2.5 .9zM272.8 456.9l2.3-2.9-3.5-1.2-1.5 2.5 1 1zM216 323.1l-2.2-.7-2.5 1.9 2.6 2.7 1-.7 1.4-4.1zM310.5 255.9l4 1-2-6.7zM252.1 369.1l-3 .2 .8 4.1 3.6-.9zM254.8 454.9l-3.8-3.7 .4 1.1-1.4 3.5 2.3 1.9 .1-.6zM307 249.8l-.3 2.2-2.4 1.3-1.3 2.5 1.1 .8 4.8-.5 .5-.2zM180.1 389.8l.3 .5 2.2 2.3 1.8-.9 2.8-2.9-.4-.4zM313.2 342.1l1.6-2.1 .2-2.5-3.1 .9zM277.7 423.1l-3.9-.5 .6 3.7 .2 .3 3.5-2.3zM258.5 388l1.7 1.3 1.6-.1 1.2-3.6-4.2 .4zM310.1 347.6l2.6 .8 .7-1.8-1.3-1.6-.8-.2zM265.7 390.6l-1.1 1.7 .3 .5 2.7 1.5 .1 .1 .3-.8zM252.4 321.1l1.1 3.6 .7 .5 2.8-1.3 .1-3.4-2.7-1.1zM233.7 437.8l.1-2.4-3.7-1.4-.2 0 .1 4 .6 1.3 2.9-2zM278.5 296.9l1.5 2.7 1.4 .1 2.1-1.9-.3-1.3 .1-3.4-2.1-1.7-1.1 1.3zM207.3 355.9l-.8-3.8-3.8-.2-.9 3.6 5.3 1.1zM254.8 344.7l3.8 1.8 1.3-2.2-1.4-3.2-3.4-.1 .6 .5zM250.6 387.2l-2.2 .3 .8 4 2.9-1-.3-1.2 .4-1.8zM192.7 241.5l-1.2 1.1 2.2 4.7 1.6-.9 .6-4.8-3 .2zM220 446.6l.9 1.6 1.4 1.5 4.3-4.4-3.3-2.1-1.3-.6zM221 375.9l4 4.1 2.7-3.1-2.4-.7-1.3-2zM216.1 396.6l-2.8-1.8-1 .3-.1 4.2 3.1-.4 .8 .9zM124.1 444.3l2.3-3.8-4-1.6-2.9 3.3-.5 .1 3.5 .7zM305.8 398l-1.6 1.4 0 4.2 1.7-1.2 2.2-1.9zM290.8 234.7l-.4 .3-.2 3.3 1.7 .3 3.1-2.6-1-2.3zM299.3 429.9l-.7-2.1-1.3 2.1-.3 3.9 1.2-1.1zM218.2 403.8l-.1-.6-.3-2.4-1.7-1-.8-.9-1 4.3zM257.2 153.4l2.2-2.2-2.1-3.3-2.6-.8-.1 .9 .1 2.5zM214.8 340.6l.1-.8-.9-3.7-1.1-.5-1.9 2.9 2.1 2.5zM188 482.2l-3.5-.9-1.9-.1-.5 4.4 1.9 .8 3.7-2.8zM273.8 411.2l-4.9 .5 .3 1.5 .3 .9 3.4-1.1zM288.4 380.5l-1.4 .5-.4 1.8 1.4 2.4 4.2-1.3zM252.9 350.4l-3.5 .9-1.3 1.4 3 1.8 1.6-2.1zM335.1 299.7l-.8-2.9-.8 .8-1.2 .2-.4 1.8 .4 .6zM271.9 354.5l1.6 .5 1-1.1-.7-4.9-3.4 2.8zM257.4 432.2l-2.6-3.8-.1 .6-3.3 4.4 1.4 .3 1.3 .5zM275.2 393.8l-2-.5-1.3 2.9 3.4 1.3 1.6-1.3zM198 348.3l-.6-.6-1.7-.2-2.4 .2-.1 3.5 2.7 .2zM259.2 287.1l1.1 3.7 2.7 .2 .2-2.1-.3-2zM284 331.6l1.8 0-.3-2.2-3.4-2.9-.4-.4-1.4 4.6zM257.8 383.8l-2.1-1.2-2.1-1.6-.2 3 .3 1.4 3.3-.6zM207.4 235.3l-2.8 3.4 3.9 .7-.7-.5 3.4-.4-3.4-5.1zM169.5 369.4l-5.3-.5 .8 3.5 1.6 .7 2.6 .7zM270.7 389.2l-.3 .9 2.3-3.5-2.1-2-1.6 3.1zM308.8 395.2l-1-2.2-1.2-1.3-2.8 2.4 1 1.3 2 .1 1.9 1zM307 419.7l2.2 4.1 1.8-1.3-1.4-3.7zM240.7 411.9l5.1 1.6 .9-3.5-.5-1.9zM267.5 431.5l1.1 4.2 4-2.7-.8-1.9-1.9-1.6zM264.5 156.9l-5.7-1.7-.5 3.7 2.1 1.8zM291.9 396.1l3.5 .6-.1-3.6-4.1 1.7zM254.7 375.6l-4.1 1.8-.8 1.4 1.8 1.4 .6 .1 3.1-2.1zM292.5 290.9l.1 .8 2.2-.3 .8-5.2-1.5-.2-3 1.2zM280 310.6l-2.3 2.2-2 2.2 5.6 1.3 1.1-3.6 0-.2zM335.3 341.8l.8 .9 .7-2.2-.1-.2-1-.3-.8 .5zM285.7 342.2l-.5 2.1 3.9 3.3 1.8-4.6zM317.6 287.5l2 3.8 1.4 1.4 2.3-3.7 0-1.8-4.9-.4zM344.9 344.4l.1 1.1 2.3 .4 .2-.9-1-2.6zM269 262l-.7-.6-2.2 4.4 3.5 .1 .9-.8zM324.4 271.9l2.3 .9 2.9 .4-.9-4.2-2.5-2.1-2.3 5.3zM146.3 496.9l2.2-4.9-3.8-4.4-2.2 1.7 0 5.4zM279.4 427.6l1.9-.4 1.1-2-.3-.9-3.6 .5zM83.9 458.4l1.1 .4 2.7 5.5 5.1-3-3.6-4.8zM275.6 282l-2.2 5.1 4.5 1.4 2.1-3.5-3.9-2.8zM144.1 346l-3.5 1.4 1.7 2.7 2.5-1.3zM215.9 440.5l1 1.5 .5-.9 2.8 .1 1-2.4-3.4-.5zM156.7 428.2l-4.1-1.2-1 5.3 .1 .8 .7 .4 4.7-2.3zM282.7 456.3l-1.8 1.9 1.4-.5 1.3-.6zM278.1 384.8l-1.1 1.3 1.9 1.6 1.9-1.3-.3-1.4zM181.7 412.1l-.5-2.6-4-.4-1.4 2 2.3 1.6 3.5-.2zM271.8 431.1l.8 1.9 1.9 4 2-2.6 .6-1.7-2.9-2.9zM348.7 377.5l.5-3.3-4.6-.6-.7 3.5 2.6 .3zM262.3 432.4l-2.4-2.7-2.6 2.5 2.9 2.2 .5-.8 1.4 .2zM346.7 369.2l.4 .5 2.7 4.2 2.6-1.8-.8-4.3zM310.9 268.6l-.6-1.8-3-.2-.5 .1 .3 1.8 3.4 3.5zM327.7 431.7l0-.5 1.2-2.4-3.9-.3 1.4 2.3zM218.3 431.9l-4.2 1.2 .9 2.4 1.7 .7 2.3-.3zM304.6 247.5l2.1 4.5 .3-2.2 2.5-1.1-4.3-1.8zM281.9 416.2l-2.4-1.9-.6 1-.5-.3 1.6 4 .2 .3 .4-.4zM202.6 467.1l.4-1 .5-3.2-4.6-1.7-.7 3.4zM258.6 459.3l1.2 .8 1.1-1.2 1.5-2.3-1.2-2.8-1.2 1.3zM219.2 385.7l-1.6-.9-3.5 1.2 2.1 2.6-.6 .7zM156 365.6l.2-.1 4.9-1.8-.6-2.9-1.2-.1-3.8 .7zM239.8 191.7l-1.7 5.1-.2 .2 2.5 .1 .5-.2-.9-.7 2.7-1.7-.2-2.5zM333.7 339l.5 1.2 .7 .3 .8-.5-.3-1-1.2-.5zM274.7 300.4l.7-2.9-5.6-.1 1.2 2.2 1.1 2.6zM317.7 271l.2-4.9-.2-1.8-.5 1.8-2.7 .5-.9 2.5 3.3 1.9zM253.1 315.5l-.9-.7-3.6 .9 0 .5 2 1.6 2.3-.7zM226.1 487.4l-1.1-1.4-4 0-.2 2.2 .6 1.1 3.1 .1zM339.4 364l-1.4 .4 .4 5.5 2.9-.3 .9-3.2zM252.9 341.8l-1 1.1 1.7 2.9 1.2-1.1 .9-3.2zM288.4 255.9l-2.6 1.6 .2 2.7 .6 .4 4 .1zM127.1 406.7l3-2.2-.3-1.6-.4-2.1-1.4 1.2-1.3 2.7-.7 .3zM340.1 305.4l.9 .7-1.3-3.5-1.6 1.9zM280.9 353.6l-2.1-2.2-.4 1.2-.1 1.2-.4 1.6 3.3 .5zM137.3 283.2l3.1 .5 1.1-2.9-4.9-2.6-2.8-.6 .3 5.9zM277.8 377.2l-3.7 1.3 2.7 4.2-.2 .2 3.2-1.7zM159.3 248.2l-3.3 5.6 3 1.7 1.8-1 .9-3.3zM270.2 335.6l-1.3 0 .4 3.4 1.8 0 1.9-.1-1.2-2.5zM220.4 365.6l-2 3.3-2.1 .7 5 1.8 1.6 .4-2-5.5zM296.8 377.5l2.7 .4 2.5-1 .1-2.9-4.1 1.1zM193 442.1l5.7-1.2-1.2-.8-2.5-2.7-2.6 4.3zM337.3 339.3l1.2 .6 .4-1.3-.5-.3-1.1 .8zM151.4 334.9l1.7-1.6-1.3-3-1.6 .1-.4 4.2zM325.6 447.7l1.1 2.3 1.5 1.4 .2-3.7-1.2-.6zM290.9 282.2l2.4-4.5-3.8-1.1-.3 2.1zM286 457.5l.3 .7 2.8-.2 1-2.3-2.3-1.4-.5-.3zM324 411l-.1 1.4 2.2 1.7 .2 .7 3.2-1.7 .1-.6-.3-1.2-4.9-1.9zM279.3 276l-.5 .2-5.7-.4 2.1 1.5 1.8 1.9zM331.8 437.3l-3.1 .9 3.4 .6 .7-1.4zM234.8 491.3l2.7-2.1 .6-.4-1.4-2.9-1.3-.8zM145.7 517.9l-4.4-.9-1.6 3.9 1.1 3.2 3.6-2.8zM194.6 474.8l-.5 2.4 1.4 2.4 .5-.2 2.5-1.3 .6-2.1-5.1-2zM269.6 125.1l-2.9 3.4 1.9 1.6 2.4 2.5 2.9-1.7 .9-3.7zM193.6 422.6l-.7 1.5 .2 3.4 3.8-1.2-1.1-2.3zM174.9 506.6l1.1-.8-3.8-3.6-1.4-.3 .1 5.3zM307.2 276.7l4.2 3.7 .7-1.4-.4-.8-1.8-3.3zM303.3 363.6l-.2-.5 .9-4.6 .6 .4-1.2-1.1-2.1 2.9-1.4-.3 2.8 3.7zM142 452.4l3.8 5 .6-1.6 1.8-3-5.2-1.7zM282.7 397.5l-2 .6-.3 .3 2.2 3.5 1.6-.8 .9-.1zM332.4 336.9l-1.7 1.3 .6 2 2.1-1.3zM271.5 119.4l4.6 4.6 2.6-1.7-1.2-2.3-6-.7zM347.9 369.4l1.4-5.1-3.9-1.1-2.1 2.8zM175.7 446.7l-1.9-.4-2.2 3 .9 2.1 .7-.1 2.7 .4 2.2-1.8zM298.8 414.5l1.5 2.7 3-2.8 .8-2-3.1-1zM295.6 371.6l2 .8 1.2-1.4-1.6-1.2-1 .4zM318 330.4l-.2 5 .1-1 4.9-2.2-3-2.4zM229.6 367l2.4-1.5-1.2-2.3-1.7-.8-1.8 4.3zM165 462.4l-2.2-4.2-1.3-.9-1.6 2.4 2.7 5zM293.2 387.8l-1.8 2.7 2.7 2.3 2-4.4-.3-1zM119.6 345.6l-3-4.1-3.2 4.2 1.6 .5 2.6 .6 2.5 .8 .4 .1zM193 428.2l-3.3 .6-.4 4.1 3 1.1 1.7-3.2zM303.6 421.9l.6-2-.4 .4-3.9 2.3 .4 .3 2.5 2.3zM162.6 268.7l-2.4-3.6-1.9 1.5-1.6 4.5 2.8 0zM215.8 413.5l2.6 2.6 2.1 .2 .4-.6-2-3-2 .4zM256 414.4l1.6-.1 .8-.8-.4-2.4-.9-1.8-2.1 .8-1.2 4.1zM246 270.4l.1 1.2 .4 1.7 2.8 1 2.4-3.3zM264.4 152l-5-.8-2.2 2.2 1.6 1.8 4.8 1.4zM247 476.1l-3.7 2.1-.4 1.8 5 1.3 1.4-1.4zM147.1 432l1.4 3.8 3.2-2.7-.1-.8-3.8-2.2-1.2 .2zM235.1 404.6l-1.2-2.9-3.3-.1 1.3 4.1 1.6 1.2zM246.8 466.2l2.7 3 2.1 .2 .8-4.7-4.5 1.8zM291.9 447.8l1.5 .7 1.1-.8-.3-1.4-2.4-.2zM250.5 461.1l1.8-3.4-2.3-1.9-2.6 0 1.1 2.3zM218.9 412.7l1.6-1.1-.3-2-2.9 .9-.4 2.6zM252.7 465.2l.9 .3 .5-4-4.1 0zM187.8 410.6l-1-.8-2 1.1 0 1.1 1.4-.3 1.6-.8zM135.1 431.7l4.4 4.1 .4-1.1-.2-3.9-2.7-2.2zM287.1 397.4l3.2-3.5-.4-.5-3-.6-1.8 2.6-.5 1.1zM130.7 268.7l2.1 2.3 .2 2.4 7.9-4.8-5.2-5.3zM233.2 383.5l2.9-1.5-1.5-1.7-.3-.8-.9-2.3-3.1 5.3 2.1 .5zM237.4 352.1l-.9 .1 1.5-2.1-3.6-1.2-.6-.3-1.4 2.8 2.2 2.6zM270.3 361.4l2.7-.8-.9-1.8-1.3-.1-.9 1.1zM267.6 368.1l-2.8-.2 0 3.2 3.8-1.5 .5 .2-1.9-1.7zM267.4 360.6l-1.2 2.3 4.2 1.6-.1-3.1-.4-1.6z"/><path id="g0_3" d="M185.5 308.3l1.6 3.5 3.1-.4 2.3-1.2-3.6-6.9-1.1 1.4-2.5 2.8zM262 318.4l-2.3 .6-.2 1.2 2.6 2.7 1.6-2.7 .7-1.2zM231.5 259.7l.8-2.2-.4-5-4.3 1.8-.2 1.5zM238.3 403.7l1.5 1.8 1.5 1.7 2.5-1.4-.1-.3-1.8-2.7zM236.2 317l-2.3-.7-2.8 .1 .6 1.1 .4 2.2 3.9-1.8zM248.1 279.8l-.3 3.8 2.4 .7 2-1.4-1.4-2.5-1.1-2.2zM260.5 344.3l2.6-1.5-2.2-3.3 .5-1.1-1.6 .1-1.3 2.6 1.4 3.2zM223 253.4l-5.3 1.5 1.1 1.5 1.5 3 2.7-.6 2.3-3zM206 454.7l-.5-2.8-2.2-2.1-.8 1.1-1.2 2.4 1.9 2 .8 1.5zM313.8 272.7l2.6-1.8 .5 .1-3.3-1.9-2.7-.5-.3 2.8zM278.3 353.8l-3.8 .1-1 1.1 1.3 1.6 3.1 1 0-2.2zM215.6 234.1l1.1-1.5 .2-2.9-2.7-1.5-4 .4-1 2.6zM251.6 270.1l.1 .9-2.4 3.3 .8 3.2 2.8-1.4 .8-2.9zM324.9 441.9l-.3 3-.7-.1 2.5 1.8 1.4-1.8-1.5-3.8zM110 465.6l-3.6-1.2-.4 .8 1.6 6.5 .7-.6 4.3-3.9zM304.6 261.1l-.6 1.6-.4 3.2 3.2 .8 .5-.1 1.5-5-1.5-.1zM123.4 454.5l2.3 1.3 2.8-1.3 1.2-3.1-.9-1.2-.4-.9-1.8 0-2.8 4.1zM240.7 203.5l-3.5 .3-.7 2.8 3.2 1.9 .4-1.7 2.4-1 .5-1zM158.9 278.1l-3.4-2.7-2.9 .2 .4 4.7 1.9 1.7 4.6-.6zM169.3 438.7l.1 5.6 .4 .2 5-3.5-3.6-3.2zM297.6 384.8l-.5-1.1-3-.7-1.9 2.5-.4 0 1.4 2.3 2.6-.4zM294.9 349.7l.8-2.6-.9-1.3-1.8 .3-2.4 1.6zM174.6 390.5l2.1 1.8 3.7-2-.3-.5 .3-4-5.5-.9-.6 2zM231.7 416.1l-1-2-2.3-2.3-1.7 1.4-1.5 1.2 1.4 2.2zM155.3 244.8l-.5-.9-2.5-1.2-.3-2.7-.7-.6-4.5 7.3 1.3-.4 3.6 1.8zM299.1 239.5l3.2 1.8-1.1-3.8-1.2-1.8-1 1.5zM233.4 377.2l-1.5-.6-2.5 .8-.5 3.2 1.4 1.9zM186.2 323.1l.5-.6-1.6-3.1-3.3 .6-.9 .4-.1 2.6zM337.5 346.8l-2.5 2.9-.4 .8 4.6 .5 .8-.8-.4-1.3 .5-.9zM231.6 356.1l-1.1 3.3 1.5 1.5 2.2 .7 .2-2.9-2.3-2.1zM109.7 336.8l-2.8 .3 .6 .4 2.7 1.4 .3 3.6 1.4 2.6 1.5 .6 3.2-4.1-3.2-2.7zM246.1 476l4.3-1.5-2.4-3.7-3.1 2.2zM290.3 393.9l-3.2 3.5-.3 .9 1.9 .6 1.8-.8 1.4-2-.7-1.3zM263.5 372.8l-1.2-2.4-1.8-1.5 .4 5.3zM312.3 452.2l1.1-2.6-2.3-2-2.9 2.2 2 2.6zM159.8 380.1l1.7 2.4 2.7 1.7 .3-3.4 .4-2.3-3.9-1.7zM144.6 337.1l-.2 3.5-1.8 1.3 2.5 1.2 3.1 1.5-.5-5.4-.2-1.1zM216.3 322.2l-1.4 4.1 2.2 2.7 2.4-2.1 .3-3.4zM236.8 357.5l.6 1.4-.1 .8 3-.3 .7-2.6-1.5-2.1zM257.7 393l-4.5 1.4 .8 .8-.5 2.1 5.8-.1-.7-2.8zM160.5 509.6l-.9-3.5-1.2-.1-5.8 3.6 3.1 1.4 4.8 1.3zM262.9 132.7l1.1 .2 4.6-2.8-1.9-1.6-2.8-3.4-2.7 3.7zM288.2 418.2l-.5 1.1 .6 2.8 3.2 .1 1.4-1.8-1.3-2.4zM131.6 434l1.3-2.7-1-5-4.3 5.2 1.9 3.6zM193.2 351.2l-1.8-.1 1.5 6.1 4.6-2.4-1.6-3.4zM129.3 283.7l-1.3 8.8 1.8-1.2 4.7-3.1-2.1-.8zM331.9 299.6l.4-1.8-2.5 .1-.4 1zM132.3 462.7l-.8 .9 6.1 2.7-.4-3-1.2-3.2zM127.3 439.4l-.2-3-2.5-.9-2.9 .8 .7 2.6 4 1.6zM254.6 183.3l-4.1 3 1.4 2.7 1.4 .1 2.9-1.6 3.7-6.2zM235.4 485.1l-.9-.2-4.2 2.9-.3 .6 3.5 3.8 1.3-.9zM264.9 433.7l1.3 3 .7 0 2.8-.4-1.1-.6-1.1-4.2-.1-.2zM174.5 286.7l.8-2.9-6.6 1.2-1.2 1.2 1.7 1.3 2.8 1.5 1-.1 2.3-.7zM254.7 252.4l-4.7-2.4-2.1-1-1.4 1.8 2.3 1.1 3.2 3.9 2.6-1.8zM236.9 452.7l-2.7-3-1.5 3-.3 2.5 5-.7zM262.9 328.4l2.1 .1 3.8-.8-.2-4.1-2.6-.7-2.4 3.4zM142.9 258.4l5.2 2.8 4-3.6-.9-2.3-.7-.9-8 2.9zM179.6 360.9l-2 1-3.5 3 1.3 .4 2.5 1.6 1.7 .5 0-6.5zM275.7 324.6l-1.6 1.4-.3 .8 3.8 2.6 1.8-3.9-2-1.3zM114.5 302l.3-.8-4.6-5.1-2.2-.1-.5 3-.5 3 .5 1zM180.1 515.7l-2.1 .1-2.1-.8-4 2.8 .2 1 3.5 1.9 .4-.4 2-1.3 2.1 .3zM186.4 244l.7 .8 4.4-2.2 1.2-1.1-1.4-2.1-4.9-.6zM143.4 434.2l3.7-2.2-.5-1.7-4.5-.7-2.4 1.2 .2 3.9zM206.9 245.9l-1.4-2.1-2.9 7.4 1.4-1.3 3 1.1 2.4-.3-3.4-4zM225.3 255.8l-2.3 3 3.2 4.3 4.6-3.7 .7 .3-4.1-3.9zM208.2 392.9l-3.4-2.8-.8 1.4-1.9 4.2 5.5 .1zM219.9 478l3.1 2.2 4.4-2.5-1.7-2.4-1.1-1.3-4.4 1zM307.5 303.1l-.9-1.9-3.9-1-.5 1.4-.7 3.3 3.4 .5zM314.5 395l.3 1 4.2 .2 1.1-1.5-1.3-3.7-.4-.2-1.8 0zM243.1 454l.6 1.2 3 .1 1.3-3.6-1.2-.4-4 1.2 0 1.1zM190.2 248.1l2.2 4.1 .3 .7 3.2-1.4 2-2.2-2.6-2.9-1.6 .9zM203.8 338.8l2.7-3.3-2-3.6-1.6 1.4-.8-.6-1.3 5.5 1-.2zM226.1 433.2l-.6 0 4.4 .8 .2 0 1.4-3.5-3-.4zM293 372l-3 1.1-1 3.1 .2 .1 3.5-.6 .8-1.4 .4-2.2zM138.4 376.4l-2.5 .7 .1 .9 .5 2.7 1.1 1.5 1.2-2.4zM203.8 361l.1 1.4 .6 .1 3.4-1.4-.3-2.9zM173.1 454.3l5-.3 .7-.9-2.9-1.4-2.7-.4zM203 386.1l-1.4-1.4-2.2-1.3-.5 2.1-1.3 2.5 3.4-.1zM166.5 304.1l-1.1-5.8-2.5-.9-1.6 5.1 .8 2.9 4.6 1zM293.1 410.9l.1 1.9 1.5 .9 1.9 .9 1.7-.6-1.6-1.9-1.8-1.6zM172.4 403.8l-.3 .2 2.2-.4 2.4-3-1-3.2-4.2 3.7zM127.6 311.2l-4.5-4.6-7.5 3.1 .7 5.1 7.2 3.2 .7-.6 .5-1.4zM289.2 248.8l-1.3 3.7 .3 .6 1.4 .6 4.7 .5-1.3-1-.5-4.2zM139.1 513.8l.6 .4 6-1.7 1.1-2.7-3.1-3.1-1.4 .5zM269.5 273l2.2 1.7 2.7 1.3 1.3-4.5-.4-.6-5.7-1.1zM302.3 450.4l0 3 3.8 .5 .8-3.7zM245.5 383.5l-.5 1 2.6-1.4-.4-4.5-1.8 .6-.2 .2-2.1 2.5-.2 .8zM224 148.8l-.3-1.9-3.9 5.8-.6 1.4 .9 1.3 7 1.7 2.9-3.3-1.2-1.7zM324.8 405l0-3.7-3.2 .1-1.2 1.6 0 3.3zM208.2 450.6l.5-4.3-3.6-.8-1.8 4.3 2.2 2.1zM289.3 240.6l-.5 .1-5.8-.1-.8-.3 3 4.6 2.6-.5zM344.7 349.1l-3.9 2.6 2.1 2.8 1.7 1.1-.2 1.3 2.3-4.6-.5-1.1 .3-1.1zM252.4 409.2l-.2-.9-2.6-2.3-1.3 4.1 1.5 1.1zM207.5 281.1l3.3-1.3-.4-3.1-2.2-.9-3.4 2.6 .3-.2zM184.5 443.7l-3.6 .3-.8 1.7 2.1 3.2 1.1-.8 .2 1.1 3-2.2zM227.8 355.9l-2.7-2.3-1.8 .8-3.3 3.7 1.7 .5 4.1-1.1zM337 417.4l1.6 5.3 .7 .2 1.9-.4-.7-6.2zM202.6 371.8l2.8 1.8 2.9-2-.4-3.5-3-.5-1 .6-.7 3.9zM212.9 335.6l-2.5-1.4-2.6 1.6 1.1 2 2.1 .7zM310.7 335.6l0-.2 .2-3.3-.4-1.2-5.7 2.6 3 .2zM195.6 189.5l1.8 .5 3.2 0 .7-4.1-3.5-1.4zM197.2 330.7l1.5-2.1-3.2-3.8-.2-1.9-.8-.3-2.6 2.2 .9-.1 1.2 6.7zM153.8 340.1l2.9 1.1 2.5-1.2 .8-3.5-1.4-.4-1.1-.6-4.5 2.4 .5 2.3zM176.9 330.5l6.2 1.1 1-2.2-1.9-1.2-.8-1.8-2.3 .8zM323.7 263.6l3.8-2.3-.4-1.9-4.5 3zM192.7 258.3l-.7-.8 1.3 3.6 .7 .6 2.9 2.2 4.9-1.8-3-1.1 .3-2.3zM235.1 433.1l1.2-4.6-1.9 .2-1.2-.3-1.4 2.2zM243.9 367.9l3.5-.7-1.4-2.7-1.6-1.1-2.5 2.5-.1 .1zM297.9 462l3.8-2.3-.9-2.6-1.2 .3-2.7 3.3zM238 474.2l-1.1-1.1-4.5 2.4 0 2.3 .9-.6 2.6 .5zM207.3 327.7l2.1-3.6 0-2.5-6.1 3.1 1.6 2.3zM300.8 274.9l-.9-1-1.8-1.8-2.2 2.4 2.4 2zM261.2 450.6l0 3.2 1.2 2.8 2.9-1.4 .6-1.1 .7-1.8-1.3-1.3zM261.7 378.3l1.6 1 1-.7 .5-2.5-3.8-1.4zM278.3 135.3l-1.3 3.6 4.2 4.2 2.9-7.4zM167.3 340.3l-2.3-2.4-.9 .9-1.1 3.2 1.1 1.9zM222.9 438.1l1.6 1.2 .4-2.2 .6-3.9 .6 0-.8-1.1-2.7 2.7-1.5 1.5zM186.6 385.2l-4.8-.8-1.4 1.4-.3 4 6.7-1.4 .7 .3zM273.3 291.8l.1 .7 2.2 .6 2.9-1.8-.6-2.8-4.5-1.4-1.3 1.5 .2 .6zM296.7 412.1l1.6 1.9 .5 .5 2-2.8-2-2.6zM281.2 291.4l2.8-3.1-2.5-3-1.5-.3-2.1 3.5 .6 2.8 1.6 1.4zM322.1 304.8l1.3 .8 3 2.9 .3-.9-.9-4zM276.7 350l-1.8-1.3-.4 .8-.7-.5 .7 4.9 3.8-.1 .1-1.2zM187.3 277.4l-3.6 1 1.1 5.2-.2 1.4 2.6-.4 2.4-6.2zM242.6 336.3l2.1-1.5-2.3-3.5 0 1.3-1.8 .6-1.1 2-.6 1.6zM283.1 321.6l2 .4 1.9-1-1.2-3.3-4.4 1-.3 .1zM286.9 392.8l0-2.2-2.8-.9-1 4 .8 .9 1.2 .8zM115.4 324.2l-3.7-5.5-9.3 4.2 4.6 5.7 4 .4 4 .2zM282.3 453.9l-.6-.1-1.2 .8-.2 .9 2.1-.1zM156.7 428.2l1.6-1.8-2.4-2.9-3 3.6zM157.9 490l3.5 2.4 2.9-2-3.2-4.1-.9 0zM271 132.6l-2.4-2.5-4.6 2.8 1.5 3.2 4.2-.5zM223.4 235.9l-3.8-1.6-1.6 3.2 3.5 2.5zM310.3 398l.3 1.2 4-3.5-1.8-2.1-1.4-.1-2.6 1.7-.1 1.3zM154.5 449.6l-1.4-2.7-2.7 .2-.7 3.6 2.7 1.2 1 1.3zM345.7 384.9l1.8-3.7-2.3-1.3-4 2.1 .2 .2 2.6 2.2zM203.5 468.8l1.1 2.4 2.5 .6 1.7-5 .8-1.4-6.6 .7-.4 1zM239.9 380.5l3.2 1.4 2.1-2.5-5.3-2.7-.2 1.7zM151.7 433.1l-3.2 2.7-.5 1.5 4.2 .6 3.1-.5-2.9-3.9zM153.9 466.8l0-3.5-4.5 0 .3 3.9 .2 3.5 1.4-1zM259.7 300.6l-3.2 1.1-1.5 1.1 1.4 2.8 2.9-.9 1.3-3zM218.9 412.7l2 3 2.1-2.4-.8-2.1-1.7 .4zM108.4 483.2l-6.1-2-1.1 3.6 1.4 2.9 4.5 .5 .9-1.7zM263.3 463.9l-2.1 .5-2.8 .3 1.7 2 4-1.3zM196.7 338.4l3.4-2-1.6-2.7-3.8 2.8zM299.9 273.9l.9 1 .8 4.1 2.4-2.7-1-2.8zM233.1 192.8l-.4-3.7 .6-.9-2.9-.8-.1 .6-3 2.3 2.7 3.5zM242.6 288.3l2.7 1.9 1.8-2.5-2.5-2zM290.3 339.3l3.6 0 .2-2.7-.7-2.3-1.7-.3-2.2 4.9zM238.1 383.9l-.4 1.7 2.9 2.4 .6-2.2-2.2-3.1zM309.7 290.4l-.2 1.9 2 0 4.4 .4-2.4-4.8-2.3 1zM285.6 282.1l4.4 1.1 1.7-1.4-.8 .4-1.7-3.5-2 1.9zM236.1 382l2 1.9 .9-1.2 .9-2.2-.2-2.1-5.1 1.9zM218.7 331.7l-1.5 .2-.1-.4-1.1 3.7 4.5-.1 .4 .4zM330.6 404.4l.8 1.8 .4 1.3 2.7-2.2-1-3.9-1.3 .6zM283.5 297.8l-2.1 1.9 .8 3.3 4.2-1.5zM341.8 345.4l1.6 2.3 1.1-.2 .5-2-.1-1.1-.6-.3zM270 150l1-1.4-.4-1.8-5-4.9-.9 1.5-1.2 1.2 3 6.1zM152.5 395.7l1.5 2.6 2.6 .3 1.9-1.5-4.1-5.6 0 1.5-1.3-2.2zM239.7 338.8l-3.7-.3-.6 5.5 2 1.2 .8-2.3 1.2-2.3zM205.7 188.1l-3.5-1.1-.9-1.1-.7 4.1 4.6 3.5zM245.2 290.6l1.7 3.8 2.9-1 .3-2.9-2.9-3-1.9 2.7zM209.7 170.4l-4.5 4.2 1.8 3.6 1.9 .6 4.9-3.9zM246.1 476l-1.4-3.6-1.4-.7-.3 5.2 .3 1.3 3.7-2.1zM259.3 255.6l-3.7 2.9 .6 0 1.5 3.1 4.8-.8 .7 .4zM310.3 398l-1.6-1.5-1.9-1-1 2.5 2.3 2.5 1.2 .3zM209.9 192.6l.1 1.2-.9 3.5 3.2 3.4 2.1-1.7 1.4-4.8-.5 .3zM251.8 269.7l-2-4-2.3 0-1.7 1.5 .2 3.2 5.7 .6-.1-.9zM112.1 416.5l3.4 1.7 1.5-.9 0-4.5-.3-.6-1.3 .2-2 1.4-1.4 2.2-.2 0zM335.9 398.7l5.1-1.8-2.1-.6-1.4-3-1.9-1-1.2 4.5zM223.1 295.6l.3 2.2 1.2 1.3 4.1 0 .4-1.5-1.8-2.9zM244.1 318.7l.1-1.7 1.1-1.5-3.7 .1-1.2 .3 .6 1.3zM232.4 477.8l0-2.3-.1-1.5-2.7-.6-3.9 1.9 1.3 1.8zM281.4 382.1l.5-.6 .2 .7 3.9-3-2.9-2.1-1.7 1zM222.9 281.8l-1.6-.6-.9-1.2-2.4 1-.4 2 2 1zM234.4 348.9l1.4-3.9 1.6 .2-2-1.2-1.8-.8-1.1 0-1.7 3.6 3 1.8zM242.8 159l2.8-.5 1.5-3.3-5.3-2.1-3.7 .4-.1 4.5zM214.5 392.9l1.9-3.1-.8-.5 .6-.7-3.8-.4-1.9 1.2 .2 2.5 2.6 1zM187 232.9l3.2-.3-1.2-5.3-3 .4-.3 2.3-.4 1.5zM230.8 363.2l1.2 2.3 2.5 1 1.2-.4 .9-1.7-2.4-2.8-2.2-.7zM269.3 407.7l-.4 4 5.3-.5-.9-2.5-2.3-2.7zM228.1 454.7l1.9 1 2.6-.3-.2-.2 .3-2.5-2.8-2.2zM313.4 414.9l-1.3 3.7 2.3 1.9 2.7-1.4-.9-3-3-1.7zM277.1 359l-3 1.8 .4 2 2.9 1.3 1.6-2.7-.4-1.1zM255.8 401.6l-1-3.1-2.3 1.3 .6 2.6 1.2 .9zM198.7 243.3l1.5 1.7 4.8-1.1-1.3-4.7-2.1-1.3zM259.8 439.7l-4.9 1.1-.9 1.6 1.4 .8 1.1 1.5 2.2-1.1 2.1-1.1zM212.9 168.6l5.3-4.6-3.6-2.5-2.4-1-.2-.7-2.4 7.7zM160.1 501.7l-.4-2.2-3.6 0-1.8 3.9 4.1 2.6 1.2 .1 .9-.3 .5-2.5zM283.2 459.2l-.9-1.5-1.4 .5-1.5-.8-.5 2.2 3.2 2.2 .4 0zM183 345.3l1.6 .6 2.2-3-.3-.5-2.5-2.1-.9 .1-1.5 2.8zM221.1 312.8l-3.3-3.5-2.1 .3 .1 5.8 4.4-1zM96 330l1.4 .2 7.2 2.8 2.4-4.4-4.6-5.7 .4 1.5-5.3 .9zM237.9 197l-.2 5.5-.5 1.3 3.5-.3 2.8-1.7-3.1-4.7zM184.7 359.3l1.7-4.1 .9-1.5-4.2-2-1.4 2.3-.8 .3-.2 3.4zM277.7 368.9l1.7-.3 1.3-2.2-3.7-2.1-1.6 1.5zM210 473.9l-1.7-1.6-2.3 3.9-2.5 1.1 4.6 0 1.4-1.2zM253.7 385.4l-.3-1.4-3.4-.6-.8 .7 1.4 3.1 1.6 .3zM149.1 480.5l3.2 2.4 .5-2.3 1.2-.1 .7-3.9-3.1-1.9-2.4 1.7zM304.1 445.7l2.4-.5 2.3-.5-1.4-3.6-3.1-1.1 0 .1-1 4.2zM242.2 185.7l-2.3 5.7-.1 .3 2.7 .3 0-.8 2.3-1.3 .3 0-.3-3.7zM227.7 426.7l-3-.2-.7 0-.5 2.2 4.1 .9zM284 422.3l2.7 2 1 .6 .6-2.8-.6-2.8-3.8 1.5zM288.1 371.5l1.9 1.6 3-1.1-1.8-1.9 .4-1.3-1.9-.1zM143.4 434.2l1.6 4 3.3-.7-.3-.2 .5-1.5-1.4-3.8zM237.7 292.5l-.9 .1-3.5-3.8 0 .2-2.3 2.2-.3 1.7 1.8 3.2 3.2-1.6zM246.1 271.6l-2-.3-2 1.1-.5 3 1.8 .9 3.1-3zM297.9 375l.1 .1 4.1-1.1-.8-.4 .1-3.2-.4 .8-2.2-.2-1.2 1.4zM270.6 280.3l1.3-.7 3.3-2.3-2.1-1.5 1.3 .2-2.7-1.3-3.6 3.6zM245.3 392.5l-.2-3.4-.8-.8-3.5 .6-2.5 2.9 1.7-.1 .1 .2 4.8 .8zM271 299.6l-1.2-2.2 1.6-.2-4.2-1.6-3.3 1.4 1.5 3.6 .4 .9zM269.2 413.2l-3.1-.7 .1 1-1.3 3 2.4 3 2.7-4.4-.5-1zM341.6 406.6l-1.4-4.2-2.2 3.5-.2 3.1 1.5 1.2zM207 375.2l-.8 .2-2.5 .6 .4 4.1 .9 1.1 3.2-1.6zM269.6 265.9l.3 3.5-.3 .4 5.7 1.1-1.3-5.4-2.1-1.5-1.4 1.1zM183.6 290.2l-2.7-2.1-1 1.4 1.1 2.9 1.3 3.3 3.5-2-1.2-2.1zM259.9 429.7l-.5-1.4-1.9-2-2.7 2.1 2.6 3.8zM161.9 317.5l.6-2.4 0-3.7-4.7 1.5 .4 .4 1 5zM255.1 341l3.4 .1 1.3-2.6-3.3-.9-1-.6zM275.8 296.8l-.2-3.7-2.2-.6-2 4.7-1.6 .2 5.6 .1zM169.8 383.3l2 2.1 2.5 1.5 .6-2 .9-4.6-2.3-.7-1.5 .2zM171.7 395.4l-2.5-3.3-3.1 .7-.6 2.2 .5 2.4 2.2 .2zM264.4 138l-7.5-3.6 1 .6-.9 1.4 .4 1.2-1.8 3.4-.1 .5 5.1 2.4 2.9 .7 1.2-1.2zM142.5 500.1l5.4-.5-1.5-1.1-.1-1.6-3.8-2.2-.3-.2-1.8 3zM296.7 412.1l2.1-3-.6-2.7-1.2 .4-1.5 1-.6 2.7zM266.1 265.8l2.2-4.4-3.5-.7-1.6 .5-.7-.4 1.4 4.6zM204.9 493l-.5 .4 2-1.1 2.6-3.4-1.8-2.5-2.1 .3-.3 2.2zM243.6 351.5l-.6 1.1 3.3 .1 1.8 0 1.3-1.4-1.6-.4-3.6-1.4-.3-1zM286.1 457.2l1.2-3.2-2.4 .5-.1 1zM288.9 320.8l1.1 1 3-.2-.5-3.4-2.2-1.2zM197.4 347.7l1.9-.8-.5-3.5-1.4-1.4-1.5 2.9-.2 2.6zM305.4 411.1l1.3 0 2-.5-3.1-4.5-.7 1.3-1.1 .3zM195 437.4l2.5 2.7 5.2-3.5-1.7-1.5-4.4-.7-1.6 2.4zM340.1 400.6l5.6 .5 .5-1-1.6-1-3.9-1.4zM331.8 433.5l-1.6 .4 1.6 3.4 1 .1 2.2-4.4zM220.2 314.4l-4.4 1-.8 1 1.7 2 3.8 .1 .7-.5zM332.3 289l1.5 .2 1.4-3.8 0-.1-4.4 .3-1 2.1zM198.9 444.5l-3.6 1.2-.3 .5 0 1.8 2.4 1.4 2.8-2.3 .7 1.2zM212.9 329.7l-1.6 1.5-.9 3 2.5 1.4 1.1 .5 2-.9 1.1-3.7zM306.6 364.5l-2.1-1-1.4-.4 .2 .5 1.4 4.3 2.1-.4zM190.2 447.8l1.8-1.2-1.9-4.4-2-.9-.6 4.9zM228.5 460.6l1.5-4.9-1.9-1-2.4 .5-.4 1.4 2.4 3.3zM261.6 353.3l2.1 .8 .9-2.1 1-1.6-2.9-2.5-2.7 1.2 .6 4.1zM278.9 459.6l.5-2.2-1.4-1.3-2.4-2.8-2.8 3.6 3.3 2.8zM311.5 436.7l.2 4.4-.3 .3 2.2 .5 2.8-2.3-2.2-2.3zM168 465.1l-1.6-3.5-1.4 .8-2.4 2.3-.4-.1 2.2 3.4 2.3 .3zM223.3 443.2l3.3 2.1 .5 .3 .3-.5 .5-.3-.1-2.4-3.6-2.6zM210.7 391.9l-.2-2.5-2.8-3.5-.5 1.7-2.4 2.5 3.4 2.8zM320.9 445.8l-.2 2 1.2 .9 2.4-1.3-.4-2.5-2.4 .1zM269.8 375.3l.4-1.6-2.2-1.3-2.6 1.8 3.1 1.4zM238.3 368.8l-2.6-2.7-1.2 .4 .4 3.3 3.2 1.1zM225.7 455.2l2.4-.5 1.2-2.9-3-1-2.2 .1zM153.4 303.9l2.5 1.3 1.2-.7-2.7-6.4-3.4 4.7zM225.8 383.2l3.1-2.6 .5-3.2-1.7-.5-2.3 2.6zM209.4 250.7l2-.7 .6-.5-.1-4.4-5.9 1.6zM318.3 296.1l-.7 .4-5.3 1.1-1-.3 0 2.6 .9 .9 4.1 1.3 2.5-3.6zM247.2 440.9l-1.5 1.2 .7 2.4 2.7 1.7 1.3-1.4-.1-1.8 1.2 .1-2.2-2.1zM184.7 400.2l.4-2.4-2.6-3.5-3 .5 1 4zM276 253.1l-.8 2.3 3.1 2.2 2 .5 .2-1.2-.3-3.9-1.4-1.4zM324.3 420.5l-.3-.6-2.6-1.9-1.3 .3-.2 .6 0 2.8zM237.6 372.4l-2 2.4 1.5 .7 2.2 1.9 2.7-.9-2-4.5zM293.9 372.1l-.4 2.2 4.4 .7-.3-2.6-2-.8zM234.1 313.1l-2.5-1.9-2.9 .9 .2 .3 2.2 4 2.8-.1zM332.1 268.2l1.3-.8-4.2-2.2 0 3.1zM308.8 261.6l-1.5 5 3 .2 1-2-.2-2.5zM255.3 268.4l-3.5 1.3-.2 .4 2.1 3.1 1.6 1.2 2.2-4-.2-.5zM234.6 389.5l1.4 1.7-.4 .8 2.7-.2 2.5-2.9-.2-.9-2.9-2.4-2.1 .4zM115.4 324.2l4 .7 4.1-6.9-7.2-3.2-2.9 5.5-1.7-1.6zM214.2 258.3l-3.3-.2-2.3 3.7-.3-.2 2 2 5.1-1.1zM254.1 461.5l1.3-1.1-3-3.3-.1 .6-1.8 3.4-.4 .4zM260.7 433.6l2.3 4.5 3.2-1.4-1.3-3-2.8 .1zM230.3 235l-.6 3.2 4.4 1.5 1.3-.2-.4-.5-2.5-4-.9-.7zM133.1 320.5l-1.1 4.7 3.3 1.2 1.1 3.1 4.3-4.1-.4-2-5.5-2.2zM242.3 246.2l-2.3-1.2-1.5-1.8-1.4 2.8 2.1 3 2.4-2zM250.8 280.4l4.9-.8-1.7-1.6-1.1-1.9-2.8 1.4-.3 .8zM232.5 397.1l-4.2 .3 .2 3.4 2.7 .5 2.1-4.5zM142.4 416.2l-1.2 2.7 1.2 .8 4.2 .9 1.2-3.1-.4-1.9-2.2-1zM178.8 453.1l-.7 .9 1.2 5 1.6 1.7 2-2.2 1.3-4.1-2.8-.9zM225.6 289.3l2.4 .4 1.8-3.9-2.1-1.3-2.6 1-.4 .5zM259 278l.9 3.4 5-1.3 .7-1.7-3.6-3zM108 251.8l0-4-2.4-.3-1.6-.4-.9 2.3-.1 2.6 1.8 2.2 .2 2.1zM159.1 419.2l-.5 0-2.8 4 .1 .3 2.4 2.9 2.9-.4 .4-3.5zM263.1 306.9l2 2 3.7-2.6 .7-.6-1.7-.7-4.7 1.4zM193.6 365.5l1.1-.9-5.2-1.5-1.7 .8-.2 2.5zM284.7 454l.2 .5 2.4-.5 .5 .3-.1-1.8-1.7-.4-1.4 1.4 .2-.1zM281.5 281.5l-.5-3.3 .6-1.4-2.3-.8-2.3 3.2 .8 1.4zM252.8 339.2l-3.8 2 .5 1.6 .3 1.4 2.1-1.3 1-1.1zM157.4 292.2l4.1 .9 1.9-2.9-2.2-2.4-3.3-1.2zM248 470.8l2.4 3.7 1.9 .8 2.2-3.2-1 .3-1.9-3-2.1-.2zM287.9 332.7l-2 3.5 1.9 2.5 1.7 .2 2.2-4.9-3.6-1.5zM259.9 324l2.4 0-.2-1.1-2.6-2.7-2.4 .3-.1 3.4zM224.9 338.5l2.2 0 2.5 1.7 2.1-2.2 .8 .4-2.4-2.2-2.2-1zM157.8 312.9l-1.6-4 .2-.2-5 4.1 .8 4.2 6-3.7zM213.4 406.5l1.9 3.5 2.8-4.2 .1-2-3.9-.6-1.6 .8zM241.4 312.1l-2.9-1.1 .3 4.7 1.6 .2 1.2-.3zM330.7 441.6l1.4-2.8-3.4-.6-.2 .4zM93.1 325.3l2.1-7.5-1.4-1.3-2.1-.3-1.7 1.8 0 .8-1.8 2.5 .4 1.3zM282.4 312.7l4.7 1-.3-3.9-1.1-1.6-.8-1.1-2.5 5.4zM246 364.5l1.4 2.7-.1 1.2 2.5-3.7-1.4-1.8zM112.1 416.5l-.3-.5-3.6 .7-2 3.3 3.1 .9 .3 0zM259.7 382.5l-2.1-3.6-1.9 3.7 2.1 1.2zM278.9 459.6l-3 .1 1.2 2.9 5-.8zM255.1 354.7l-2.4-2.3-1.6 2.1 .5 2.1 .9 1 3.4-2.4zM201.5 420l-2.3 1.7 .9 4.7 .3-.7 4.1-3.2-2.4-3.1zM217.8 400.8l3.1-1.9-1.3-4.2-1.1-.2-2.4 2.1 0 3.2zM217.4 355.8l-1.3-1-2.4 3.4 3.2 1.8 .5 .5 2.6-2.6zM295.3 263.2l2.7 .9 1.5-.3 1.1-5.3-.7-.2-4.5 1.7zM238 158l.1-4.5-1.6-.5-3.6-.5 .4 8 4.5-.8zM265.7 342.7l.6-2.9-.6-.7-4.8 .4 2.2 3.3 2.6-.8zM121.7 436.3l-1.3-1.1-2.7 4.2 1.8 2.8 2.9-3.3zM251 421.4l1.7-.6-.4-4-3.8 .1-2.6 3.8 1.3 1 3.9 .7zM324.9 340.3l-2.7 .8-.7 2.7 1.3 .1 2.2-1 .3-1.2zM260 406.9l.4 2.2 1.4 1.2 2.5-.6-1.4-3.1-2-.7-1.8 1.6zM225.3 379.2l-3.7 1.3-.4 1.9 2.8 3.6 0-1.4 .9-1.7 .9 .3zM227.7 481.6l-1.5 2.1-1.2 2.3 1.1 1.4 3 .2zM125.3 483.7l-2.7 2.2 3.3 5.4 3.1-.8zM325.3 298.8l1-3.7-1.2-3.2-2.7 2.1 .6 1.9zM300.1 444.3l3.2 0 1-4.2-1.8-.3-1.5 3.1zM270.9 321.6l-.4 1.4 3.6 3 1.6-1.4-2.1-2.6zM329.1 451.9l-2.4 2.8 1.3 2.8 4.5-4.5-.2-.9zM248.3 410.1l-1.6-.1-.9 3.5 .7 1.4 .8 .3 3.3-3.4-.8-.6zM247.3 304.3l-6 .5 1.5 3.7 2.6 .6 1.5-2.1zM256.2 370.7l-.4-2.4-3.8-.4 .1 1.2 1.4 3.4 .3 .3 2.1-1.5zM287.3 413.2l-2.9-4.5-2.8 1.9 2.1 3.5zM256.5 337.6l1.4-4.6-.1-.1-3-1.5-1.6 .8-.1 1.3 1.7 3.6 .7-.1zM215 443l-1.3 2.8 3 .9 1.8-1.4-1.1-4.2-.5 .9zM274.4 369.6l3.5 .4-.2-1.1-2.3-3.1-1.6 1.3zM297.2 426.3l-2.4 1.2-.1 1.3 2.6 1.1 1.3-2.1 .5-.5-.4-2.2zM259.3 316.7l1.6-1.3-.4-3.1-4.8 .7 .4 1.6 1.4 1zM192.9 357.2l-1.5-6.1-1.1 .4-3 2.2-.9 1.5 4 2.5 1.1 .3zM173.1 416.6l-2 .4-.2 1.8 3.5 2.2 .5-3.1zM310.4 281l3.6 2.5 3.6-2.6-2.1-2.5-3.4 .6-.7 1.4zM202.7 351.9l3.8 .2 1-1.8-.9-3.3-1.8-.5-2.6 4.9zM330.4 346.2l1.9 .5-1-.9-1.7-4.4-1.2 .3-.1 4.5zM316.4 270.9l1.7 4.2 2.2-1.5 .7-4.3-3.3 1.7-.8 0zM293.1 449.6l.3-1.1-1.5-.7-1 .7-2.1 3.8 2.5 .6zM246.4 427.4l-.5 0-2.6-1.7-2 1.8 .1 2.1 2.6 1.2zM127.3 342.8l-1.1-1.3-6.6 4.1 .9 2.1 2 1.1 2.4-.9 2.6 .2 .5 .1zM216.5 487l2.1 2.1 2.2-.9 .2-2.2-.5-1.9zM213.7 304.3l-.6 .8 .6 3.5 4.6-1.5-2.7-2.6zM136.7 506.6l-.4-.7-4.6 2.6 1.6 2.8 3.8 1.8 .8-5.7zM131.1 450.3l-2.3-.1 .9 1.2 4.4 3 1.2 1.2-.3-3.4zM293 263.4l1.1 1.4 3.7 1.6 1.4-.9-1.2-1.4-2.7-.9zM265.6 278.4l-.7 1.7 1.1 2.5 1.6 0 3-2.3-2.5-2 .6-.6zM306.5 425.4l-2.9-3.5-.8 3.3 .1 .6zM277.4 419.9l-2.8-1.2-1.2 .8-1.6 1 1.8 1.1 .2 1 3.9 .5zM242.5 421l.6-1.6 1.2-3.5-3.8-.7-1.3 2.1 1.3 1.8zM342.9 342.3l-.9 .2-.5 .7 .5 1.9-.2 .3 2.5-1.3-.5-1.3zM194.7 462.7l-.2-.1-2.3-3.2-1.9 2.4-1.4 2.5 1.7 1.4 2.6-.9zM157 529.3l1-.3 2-2 1.4-1.4-.7-.6-2.8-.8-2.6 3.5zM182.2 347.3l3.1 3.3 1.6-2.5-2.3-2.2-1.6-.6zM238.7 299.9l1.5 .1 .9-2.3-1-.5-3.9 .5-1.5 1.8zM313.6 409.4l-2.7-3.9-3.3 5.5 3.2 1.3zM238.3 463.3l.4 1.7-.6 2.3 1.2 .5 2.9-.6 .3-1.2zM249.4 322.1l-1-2.6-3.4 1.8-.4 .2 .8 2.2 3.5 1.5zM272.5 255.7l-2.3-1.2-2 .8 .6 1.3 1.1 2zM297 245l.8-2.5-1.2-1.8-3-.6 .3 3.2zM244 430.8l-2.6-1.2-1.3 1.3 .3 2.2 2.3 0 2-1.5zM336 267.9l.1-.2-.8-.4-1.9 .1-1.3 .8 0 2.2 1.9 1.5 1.1-.4zM220.8 391.7l-1.1 1.7 3.9-.4 2.7-5-2.1-.2-2.4 1.4zM246.3 146.8l-.5 5.8 5.1 1 .2-1.1 .9-3.5 0-.6zM240.5 415.2l-.9-2.4-2.6-.8-1.8 4.2 1.6 .8 2.4 .3zM122.6 485.9l-2.9-.4-2.5 3.7 3.7 3.9 1.7 .1 2.6-1 .7-.9zM326.7 436.7l-.5-.4-1.1-1.8-3.5 1.9-.1 0 2.7 2.2zM141 302.6l3.2-5-1-.7-4.4-4.7-2.1 5.5zM335.6 392.3l1.9 1 3.1-1.6-.5 0-3.3-2.9-2.9 3zM284.7 370.5l-.9-1.2-2.3 .4 .9 3 3.5-.9zM288.3 403.1l-4.2-1.4 .9 2.5 1.3 .7 3.5-.8zM192.3 394.1l-1 4.7 2.7 1.2 1.9 0 .4-4.2-1.2-1.5-.7-1.1zM151.2 518.2l-1-3.6-.8 .1-.9 .6-2.8 2.6-1.3 3.4 4.4 2.7zM290.6 342.8l-.3-3.5-.8-.4-1.7-.2-2.5 3.9 .4-.4 5.2 .8zM171 299.9l.5-3.3-2.7-3.2-1.3 .8-3 4zM212.8 453.4l1.5-1 .4-2.9-1.6 .6-2.5 .4 .3 3.2zM178.6 511.6l1.3 0-.8-4.6-1.9-1.3-1.2 .1-1.1 .8 1.9 3.3zM302.7 300.2l3.9 1-1.5-1.3 1.7-3.2-3-2.5 .2 1.2zM160.4 465.8l-1.9 1.9 3.3 3-.3 .8 2.9-3.5-2.2-3.4zM153.2 442.2l-1-4.3-4.2-.6 .3 .2 .5 5.4 .4-.3zM224.8 310.5l-3.2 1.8 .9-.3 2.2 3.7 2.8-1.2zM299.1 321.9l-1.5 4.2 .9-1.5 4.1 .1-.9-2.7zM214.1 498.1l-4.7-.1-.4 .7 5.1 4 .1 0zM210 193.8l-.1-1.2 .1-1.9-2.4-1.1-1.9-1.5-.5 5.1zM255.3 378.2l-3.1 2.1 1.4 .7 2.1 1.6 1.9-3.7-.5 .3zM237.2 458.4l-2.1 .5 .2 1 3.6 3.4 2.2-2.9-1.3-2.2zM156.2 490.7l-.2 2.1 1.7 2.5 3.1-2 .6-.9-3.5-2.4zM304.1 445.7l-1.9 2.2 1.1 2.4-1 .1 4.6-.2-.2-.5-.2-4.5zM161 503.3l-.5 2.5 7.1 1.5-.7-3.6zM208.9 337.8l-1.1-2-1.3-.3-2.7 3.3 2.9 1.8 2.3 .2zM135.7 496.6l2.8 2.6 1.9-1.7 1.8-3-5.4-1.2zM158.6 260.1l-.1 5.5 4.1-3.1-.3-2-1.3-2.3zM189 379.4l.8 1 2.5-1 .8-2.5-3.8-3.4-1 3.1zM241.6 275.4l-3.6 1.3 2.3 1.5 2.8 .5 1.5-2.4-1.2 0zM343.6 338.3l.3 .5 1.4 .6-.3-.6 2.8-2.2-.1-.2-3.2 .7zM214.1 433.1l-1.5-1.8-2.7-.2-1.7 2.7 5.5 .1 1.3 1.6zM91.4 461.1l3.3 6.1 2.2-4.8 .4-.6-4.4-.9zM222.3 421.8l-1.7 4.5 3.4 .2 .7 0 .6-2.2zM293.2 424.4l-.9 1.2 2.5 1.9 2.4-1.2-2.2-2.8zM346.4 342.3l-1-2.6-.7 1.3-.1 .7zM205 381.2l-.7 1.3 3.2 2.9 3.2-1.6-.4-4-2.1-.2zM217.2 273.9l-1.3 1.8-.2 3.2 2.3 2.1 2.4-1-.9-3.9zM211.9 245.1l.3-.6 .5-1.3-4.2-3.7-1.6 6.4-.9 .8zM258.9 292l1.4-1.2-1.1-3.7-1.6-.3-1.4 4zM172.1 518.8l-1.7 4.2 1.6 0 2.2-1 1.4-1.3zM145.8 250.1l2.3-3.8-1.3 .4-6.7-3.2-1.6 7.2 1.9 2.7zM175.5 351.4l1 .7 2.7 3.2 1.7-1 .8-.3-3.5-6.3-2 2.8zM245.4 372.3l.5-.2 4.6 1.6-.6-.3-.8-4.1-.6 .7zM200.9 366l.1-1.7-3.4-1.1-3.1 1.9 .2-.5-1.1 .9 1.1 1.8 4.8-.7zM219.3 449.4l-3.3-.3-1.3 .4-.4 2.9 1.7 1.9 3.4-.3zM261.5 413.4l-.3-1.2-2.8 1.3-.8 .8 1.8 1.4 1.9 .3zM113.3 489.1l-2.8 .1-2.5-2.7-.9 1.7-.7 7 1.8 1.3 2.7-.8 1.9 .2zM170.8 450.1l-4.4-.4-1.3 3.3 2.8 3 1.2-.5 3.4-4.1-.9-2.1zM336.5 342.9l2-1.3-.3-.3-1.4-.8-.6 1.9zM258 458.7l-1.1 1.4 1 5.3 .5-.7 2.8-.3-1.4-4.3-1.2-.8zM233.5 447.4l4.8-1.5 1.1-.5-2-4-2.4 1.5-1.6 1.2zM296.6 296.8l-4.5 .2 1.9 2.2 2 1.6 2.1-1-1.1-3zM219.8 323.5l-.3 3.4-.2 .4 4.9-1.8-.4-2.8-3.2 0zM283.5 256l-1.4 0 2.7 4.3 1.2-.1-.2-2.7zM260 392.1l-1.4 2.3 .7 2.8-.2 .4 3.8-1.9-2.9-3.2zM282.8 334.2l1.2-2.6-3.7-.9-2.3 1.4 .8 .8zM138.3 452.2l3.7 .2 1-1.3-.4-3-1.8-1.9-4.6 2.1-.4 .3zM244.7 334.8l2-.2 2-2.3 0-1.7-3.9-2.2-2.4 2.9zM273.7 308.9l4.4-2.4-1.5-2.1-4.2 .1zM239.8 405.5l-1.7 3 1.1 3.6 .4-1.6 1.7-3.3zM305.2 384l1.1 2.4 2.6 2.2 .6-6-3.9 .1zM221.2 438.8l-1 2.4 1.8 1.4 1.3 .6 .9-3.4 .3-.5-1.6-1.2zM340.5 343l-.7 1 .6 1.5 1.6-.4-.5-1.9zM324.6 398.2l-4.2-1.4-1.3 2 2.5 2.6 3.2-.1 1.1-1.1zM248.9 325.2l-3.5-1.5-1.8 2.6 1 1.4 4.8-1.3-.1-2.1zM256.9 449.1l-.3 4.3 3.4 1.7 1.2-1.3 0-3.2-.7-.6zM242.7 433.1l.7 3.3 2.3 .3 2.5-1.6-.9-1.7-2.6-1.8zM257.1 274.2l1.8-2-1.4-1.8-2.2 4zM200.4 229.9l-3-2.6-.2 2.2zM300.3 422.9l-.4-.3-.4-1.2-2.5-.3-2 2.4 2.2 2.8 1.5-1.2zM251.4 452.3l-.4-1.1 .8-2.2-4.1-1.8-2.3 1.5 1.4 2.6 1.2 .4zM196.4 420.3l-3.3 1.4 .5 .9 2.2 1.4 2.9-2.4zM219.3 339l-4.4 .8-.1 .8 3 1.5 3.1-.6zM174.7 435.2l6.2 1.3-.9-4-1-.5zM155.9 437.4l1-.1 5.4-1.1-2.5-3zM133.7 475.3l1.1-2.3-.8-2.3-4.1-2.2-2 4.1 1.6 4.2zM201.6 384.7l2.7-2.2 .7-1.3-.9-1.1-5 .4 .3 2.9zM297.1 381.7l-1.2-1.6-2.5 2 .7 .9 3 .7zM217.3 410.5l-2.5-1.3-1 3.5-.3 1.1 2.3-.3 1.1-.4zM236.9 326.4l-2.8 .4-1.5-.7 .6 3.9 1.4-.4zM327.7 431.7l0 3.3 2.5-1.1 1.6-.4-.2-2.2-3.9-.1zM240 476.4l-2-2.2-2.1 3.5 1.6 2.4 1.2-.9zM330.8 285.6l-1.6-2.4-2.3-.5-1.3 3.7 3.8 2.3zM262.8 357.5l-2.1 .1-2.2 4.5 1.4 .8 3.4 .8 .2-3.4zM197.4 449.4l-2.4-1.4-2.4 4.4 4.5 1.9zM265.7 255.4l-.1-2.6-4.3 1.7 .1 .3 2.6 2.2zM268.8 331.9l-.5 1.2 3.8 .2 1.5-1.6-2.4-2.4 .1-.7zM274.7 373.2l-1.5-1.2-3 1.7-.4 1.6 .7 1.6 2.4-.9zM233.2 330l-.5 1.6-.2 2.9 2.6-1.1 1.6-2.9-2.1-.9zM240.1 433.8l.3-.7-.3-2.2-2.9-1.6-.9-.8-1 3.8zM211.2 238.5l2.9-1.5 1.5-2.9-6.4-2.9-1.4 2.2zM247.4 287.9l1-1.7 1.8-1.9-2.4-.7-3 .9-.2 1.2zM212.3 358.6l.4-.9-1.2-3.3-4.2 1.5-.2 .7 1.3 .9-.8 .5zM237.8 395.9l.1 .2-1.3 3.2 1.6 1.7 2.6-.1 .6-4.6zM260.9 405.9l1.2-2.2-2.9-1.4-1.6 2.3 1.5 2.9zM268.3 333.1l1.9 2.5 1.6 .8 .8-2.4-.5-.7zM171.9 321.5l-1 3.1 2.7 1.6 1-.1-.7-4.1zM250.4 444.8l2.6 2 2.4-3.6-1.4-.8-3.7 .6zM241 292.8l4.2-2.2 .1-.4-2.7-1.9-1.5 .3-.4-.5zM230.2 386.1l-3 3.2 2.4 .5 1.1 .2 1-1.1-1.7-4.6zM120.8 478.8l-9.2-1.8-.8 0 2.3 5.5 6 1.2zM173.9 304.5l.5 2.9-1.4 .6 4.2 .6 1.3 0 .1-5.8zM304.3 391.4l-1.7-.8-.9 3.4 .9-.6 1.2 .7 2.8-2.4zM283.9 452.4l.1-1.5-.9 .6-.8 1.1 1 .3zM275.4 365.8l1.6-1.5 .4-.2-2.9-1.3-1.8 1.6 1.1 2.7zM171.9 249.6l-2.6 4.2-2.2-.3 5.3 2.9 .6 .2 .2-4.8zM286.3 404.9l-.1 1.6 1.9-.1 1.5-.1-.2-2.1zM236.8 149.1l-.3 3.9 1.6 .5 3.7-.4-.2-3.3-2.2-2.9zM208.3 261.6l-2.2 .1-.6 3.8 3.6 1.8 1.2-3.7zM259.7 418.7l-3-.1-2.1 1.9 1.9 2.1 3.9-.8 .1-1.4zM267.9 378.1l1.4 1 1.2-2.2-.7-1.6-1.3 .3zM206.4 458l1.5 .3 1.1-2.9-3-.7-2 2.1zM144.8 443l-.2-1.1-3.2 3.7-.6 .6 1.8 1.9 2.3-1zM144.6 337.1l-.9-1-2.9 1-.3 .3 3.9 3.2zM295.9 418.9l3 .9 1.2-1.1 .2-2.1-3.9 .6zM227.7 397l.6 .4 4.2-.3 .2-.6-.6-2.2-3 .1zM283.4 252l1.8 2.1 3-1-.3-.6-3-2.7zM269.9 355.5l-1.2-1.8-1.4 2.5-.3 .9 2.9 .7zM167.2 327.8l-1.7-1.2-2.1 0-3.6 3.5 4.8 2.1zM222.3 307.8l-2.6-.3 .7 .1-2.6 1.7 3.3 3.5 1.4-.8-.9 .3zM197.1 481.9l5.2-.3-3.8-3.5-2.5 1.3z"/><path id="g1_0" d="M131 301l-7.2-3.5-3.7 .2 4 8.2 8.2-1.7-.9-1zM218.7 347.1l1.4 2.2 3.6 1 1-5.1-1.5-1.9zM282.8 341.7l2.5 .9 2.5-3.9-1.9-2.5-1.8 .6-1.4 1.2zM132.8 419.6l4.4-1.6-1.2-5.3-.2-.3-2.3 .1zM149.8 334.6l.4-4.2-2.9-1.3-2.4 5 4.8 2zM195 448l0-1.8-3 .4-1.8 1.2-.1 .9 2 3.6 .5 .1zM179.6 360.9l4.4 1.7 1-.8 .2-1.7-.5-.8-4-1.6zM136.3 400.4l-.8 .6 1 4 3.1 .4 4.3-.9-1.6-3.1-2.7-3.2zM227.1 157.1l-7-1.7-.9 1.5 2.6 5 .3 .2 6.2-1.6zM218 226l.8 1.2 3.3 2 1.7-.7 .8-1.6-.6-.9-4-4zM224.1 212.6l-2.8 1.3 .6 .4-.1 2.9 3.2-3.2 .6-.6zM151.6 432.3l1-5.3 .3 .2-3.1-2.2 .1 .7-2.1 4.4zM199.1 258.7l-.3 2.3 5.6-1.7 .2-3-2.5-1.4-1.7 1.1zM224.4 316.4l-3.9 1.6 3.5 2.4 2.6-.8 0-1zM230 153.8l-2.9 3.3 1.2 3.4 1.8-.1 1.8 1.9 1.4-1.8-.4-8zM193.3 347.7l-3.7-1.5-.3 2 1 3.3 1.1-.4 1.8 .1zM256.1 314.6l-.4-1.6-1.4-2-1.2-.3-1 .1 .1 4 .9 .7zM187.7 394.7l-.5 1.6 2.6 3.4 1.5-.9 1-4.7-2-.2zM124.7 316l-.5 1.4 5.9 7 1.9 .8 1.1-4.7-.9-3.8zM222.3 294.3l.8 1.3 4.2-.9-.4-.9-1.4-4.5-2.9 1.8zM202.5 174.1l-.4-.4-4.8 1.1 .2 .2-2.1 1.4 3.2 3.3 3.6 .5zM123.3 415.1l-6.3-2.3 0 4.5 1.8 .2 4.8-2.2zM212.7 183.2l-2.3-2.5-1.5-1.9-1.9-.6-3.1 3.9 .8 1.7 3 3.2zM214.2 220l-2.6-1.4-3.1 4 1.4 1.1 2.8 .7zM109.1 245.1l5.1-5.5-3.7-4.6-.5 2-3.1-.3-.2 .1-1.1 10.7 2.4 .3zM281.5 281.5l-3.7-.9-1.7 1.6 3.9 2.8 1.5 .3 1.3-2.8zM206.7 340.6l-2.7 3.7-.4 1.8 3 .9 3.8-2.5 .4-1.5-1.8-2.2zM223.8 228.5l-1.7 .7-1.7 3.9-.8 1.2 3.8 1.6 .8 .3 .6-1.5-.7-2.3zM146 277.7l-.6 .9 4.8 3.3 2.8-1.6-.4-4.7-4.8-.1zM194.1 383.1l4.8 2.4 .5-2.1-.3-2.9-.5-1.4-.3-.1-3.7 2.4zM142.5 257.3l8-2.9-4.7-4.3-5.4 3.3zM238.2 401l-1.6-1.7-1.7 .4-1 2 1.2 2.9 2.5-.6zM310.5 255.9l2-5.7 0-.2-3-1.3-2.5 1.1 2.3 5.8zM206.7 429.2l-2 2.1 1.5 2.5 2.7 1.1-.7-1.1 1.7-2.7-1.8-.3zM239.2 249l-2.1-3-.8-.8-4.2 4.2 .9 1 7.2-1.2zM200.1 272.1l-3.5 1.1 1.2 1.6-.8 1.6 2.7 1 4.2-2.7-1.1-.4zM219.7 264.7l.6-5.3-1.5-3-4.6 1.9 1.2 4.2-1.1 1zM132.9 431.3l-1.3 2.7 2.3 2.8 4.9-.7 .7-.3-4.4-4.1zM194.4 232.5l-2.6 1.3-.5 5.6 1.4 2.1 .2 .3 4.1-6.2zM293.2 387.8l-1.4-2.3-3 3 0 .8 3 .5zM188.7 400.9l1.1-1.2-2.6-3.4-2.1 1.5-.4 2.4 .2 2.1zM144.5 477.8l4-2-1.5-4.6-4.3-.7-.2 2.5zM147.7 309l5.6-1.7 .1-3.4-2.4-1.1-3.1 0-.8 1.3zM201.8 355.5l-1.1 1.2 1.1 2.1 2 2.2 4.6-3.5-1.3-.9zM219.7 140.5l-.5 .2-2.2 1.3-2 1.8-1.1 1.5 2.2 2.8 3.7-5.1 .9-.1zM211.5 354.4l.8-1.3-4.4-3-.4 .2-1 1.8 .8 3.8zM188.6 427.5l1.1 1.3 3.3-.6 .1-.7-.2-3.4-3.3-.1-1.3 3.5zM239.2 144.4l-3.2-2.9-1.9 4.6-.5 1.3 3.2 1.7 2.6-2.2 .2-3.2zM317 430.7l-2.3 .9-.1 1 .3 2.4 1.8 .8 2.7-2-.5-.4zM189.8 380.4l1 3.5 .7 1.9 2.6-2.7 .5-1.7-2.3-2zM224.1 232.4l.7 2.3 5.5 .3 1.3-.7-4.1-3.3-.1-.1zM118.7 474.1l-3.3-3.9-3.1 6.6-.7 .2 8.5 1.7zM96.1 478.2l5.5 3.5 1.8-5.3-1.2-4.1-.1 0-2.5 1.1-1.6 2.6-2.2 1.2zM222.2 287l-2.1-2.1-3.3 3.2 2.2 2 2.2 1.5zM198.8 333.5l-1.6-2.8-3.2 .7-1.4 .3 .2 1.8 1.2 2.7 .7 .3zM152.9 414.4l1.7-1.7 .1-4.2-1.8-.3-3.9 1.4zM110.8 477l.8 0 .7-.2-2.5-.3-6.4-.1-1.8 5.3 .7-.5 6.1 2zM120.6 459.7l-5 3.8 1.2 2.1 5.3 1.4 1.2-.3-2.9-6.4zM113.3 261.3l2.8-4.9-8.1-4.6-3 4.5 0 .7 3 2 2 4-1.7 1.9zM202.2 170.4l-.1 3.3 .4 .4 2.7 .5 4.5-4.2-.6-2.6-1.9-1.2zM239.9 191.4l-7.2-2.3 .4 3.7 0 4.3 5-.3 1.7-5.1zM343.9 395.3l2.5-2.4-2.6-2.5-1.6 1.4 .8 2.9zM179.9 289.5l1-1.4-.7-3.5-5.7 2.1 .8 1.5zM202.7 195.5l3.5 4.1 2.9-2.3 .9-3.5-6.8-.8zM136.3 469.1l1.3-2.8-6.1-2.7-1.9 4.7 4.4 2.4zM230.3 182l1.5 .9-1.4 4.5 2.9 .8 4.3-3.1-2.7-1.7zM105.3 471.7l-.3 .3-2.8 .3 1.2 4.1 6.4 .1-1.5-5.4-.7 .6zM142.2 301l-1.2 1.6-4.3-4.9-5.3 1.5-.4 1.8 .4 2.2 3.5 2.1 7.2-2.4zM180.4 429.2l-1.1-3.4-2.2-1.7-.1 2.6-.9 3.5 2.9 1.7zM136.6 278.2l4.9 2.6 3.9-2.2 .6-.9-3.7-6.3-4.4 6.3zM238 307.8l.9 .9 3.7 .8 .2-1-1.3-3.1-1.8 .5zM96 495.9l-5.9-2.2-1.4 4.3-.1 4.3 2.4-.3 3.4-1.2 .1 .1zM172.2 294.3l2.4-1.4-1.6-4-1 .1-3.2 4.4 2.7 3.2zM209.3 437.3l-3.2 2 1.2 .4 .4 .6 2.1 1.8 2.9 .5 .4-3.7 .1-.7zM216.2 345.3l-4.3-3.5-1.1 1.2-.4 1.5 3.4 1.9 .2-.6 1.5 .3zM237.2 267.3l-3.4 .7 .3 1.3-.6 4.6 1.3 1.6 2.4-.8 .3-3.1zM195.9 344.9l1.5-2.9-2.1-1.3-2.8-1-2.1 .2-1.1-.8 1.8 3.6zM137.2 418l-4.4 1.6-2.6 .8 3.4 5.1 2.7-1 .8 .1 1.4-5.3zM254.1 461.5l-.5 4 1.8 1.7 2.5-1.8-1-5.3-1.5 .3zM180.9 288.1l2.7 2.1 1-5.2 .2-1.4-3.2-.8-1.4 1.8zM134.6 340.2l2.3-1.1 1.2 .6-.7-6.1-4.2 2.9zM317.6 428.5l-.6 2.2 1.9 2.7 2.5-2.2-.3-3.5zM160.3 296.9l1.2-3.8-4.1-.9-4.4 2.3 1.2 3.9zM248.5 370l.6-.7 3-.2-.1-1.2-.9-2.9-1.3-.3-2.5 3.7zM127 446.5l1.4 2.8 .4 .9 2.3 .1 2.2-4.8-2.8-2zM187.5 458.7l2.8 3.1 1.9-2.4 .4-2.4-.7-.4-4.2 2.3zM115.4 276.2l8.6-.8-.6-5.3 1.1-2.6-3.5-.2-7.6 5.6zM349.8 385.9l-2.1 1.2-.2 4.5 1.9 1 1.6-6.5zM222.1 330.6l-.3-.7 2.2-1.4 1-3.3-5.7 2.1zM168.8 444.5l-1.1 .8 3.1 4.8 .8-.8 2.2-3-4-1.8-.4-.2zM138.5 250.7l-3.3 .4-4.6 2.9 3.4 4.6 2.2 .3 4.6 .7 2.1-1.2-.4-1.1-2.1-3.9zM269 289.2l-1-.4-4.8 .1-.2 2.1 1.6 .5 1.6 .3zM209 291.5l1.2-2.6-1.1-3.3-1.6-1-2.2 1.8-1.1 1.9 1.7 4.8zM209.1 297.8l-2-1.2-3.6 2.2-.1 1.1 6.2 3zM207.8 404.4l-1.6 1-.2 1.7 3.4 2.8 .3-2.8zM218.9 299.4l4.5-1.6-.3-2.2-.8-1.3-4.3 1.2zM252.5 289.5l-2.4 1-.3 2.9 1 1.7 3.5-1 .5-1.8zM189 196.6l-4.3-3.3-3.9 4.4 1.7 1.3 3.6 0 1.6 1.1zM186.8 254.4l2.3 3.6 2.9-.5 .7 .8 0-5.4-.3-.7-2.9 .4zM162.6 464.7l-2.7-5-1.4 .3-2.2 2.6 4.1 3.2 1.8-1.2zM109.2 507.8l-3.9 2.7 1.3 3.7 1.4-.2 2.8-1 2.5-1.7 .3-.1zM166 397.4l-.5-2.4-4.3 1.2-.3 .6 2.5 2.8zM154.7 381.1l2.2 4.7 2.6-.7 2-2.6-1.7-2.4-4.1 .2zM231.2 266.2l-.5-3.2 .1-3.6-4.6 3.7-1.2 1.2 3.2 4.2zM145.4 313.2l.5-2-4.6-1.8-3.3 2.1 1.5 4.2zM174.2 470.7l-1.9 2.9-.7 3.9 1.1 .2 3.4-2-1.9-3.8zM265.7 273.1l-2.8 1.1-.9 1.2 3.6 3 3.1-.7-1-3.5zM215.5 179.9l3.6 3.7 1.5-3.7-2.3-2.8-1.3-1.7zM252.9 142.7l-4.4-2.6-1.5 .6-1.6 4.1 .7 3.2 .2-1.2 5.7 1.6-.1-2.2 1.3-1.8zM291.2 330.2l-3.6-3.3-2.1 2.5 .3 2.2 2.1 1.1 .2-.2zM127.8 409.2l1.8 2.6-.1 .2 4.3-5.5-3.7-2-3 2.2zM123.8 297.5l1.7-5.5-1.6-.7-1.9 1.7-2.6 .7-2.3-1.2 1.9 8.8 1.1-3.6zM181.2 425.6l1.5-.2 3.5-1.1-1.2-2.9-3.3-1.7zM227.3 294.7l1.8 2.9 .4 .4 3-1.9-1.8-3.2-3.8 .9zM192.7 267.2l1.3-5.5-.7-.6-3.1 1.2-1.8 3.3zM160.8 254.5l5.8-.3 .5-.7 2.2 .3-3.1-3.7-4-.7zM137 310l-6.2-1.5-3.2 2.7-2.9 4.8 7.5 .7 4.2-4.9zM195.9 295.8l-4 1.6 .8 6.1 2.4-.3 2.7-3.4 1.2-2.7zM220.1 284.9l2.1 2.1 2.5-1 .4-.5-2.2-3.7-3.3 2.2zM174.4 421l-3.5-2.2-2.8 2.4 1.7 4 .6 0 3.6-3.3zM222.3 421.8l-1.1-.2-3.4-1.1-.7 1.9 .9 2.1 1.8 1.1 .8 .7zM249.8 347.2l-2 3.7 1.6 .4 3.5-.9 .6-2-1.3-.8zM184 236.9l0 .5-1.5 2.2-.5 2.4-1.7-.9 3.3 2.4 2.8 .5 0-5.2 1.5-1.2zM126.9 461.7l3.4 0 .3-3.1-2.1-4.1-2.8 1.3-1.5 3.3zM129.8 402.9l5.7-1.9 .8-.6-3.8-5.1-1.2-.2-.9 1.5 .1 3.3-1.1 .9zM159.2 474l-2.5-3.8-.3 2.4 1 3.6 3.2 1.4 1-1.7zM231.6 375.2l.3 1.4 1.5 .6 .9 2.3 2.8-4-1.5-.7-3.5-1.7zM151.6 526.3l3.7 1.4 2.6-3.5-2.7-1.6-4.8 4.1zM202.7 199.2l-4-.6-3.1 1.6-.1 .1 1.8 1.1 .9 2.7 .3 .3zM317.6 428.5l-1.3-.8-2.5 2.5-1-.2 1.9 1.6 2.3-.9zM135.7 486.6l.4 .7 .5 3.5 5.9-1.5 2.1-1.7-.3-2-5.9-2.7zM141.3 309.4l4.6 1.8 1.6-3.5 .2 1.3-.6-4.9-4.9-3.1-.1 1.9zM241.8 138.5l1.9-.9-5.5-1.1-.4 .4-2.1 .4 .3 4.2 3.2 2.9zM242.4 332.6l0-1.3 2.4-2.9-.2-.7-1-1.4-.4 1.1-2.1 1.9zM336 425.7l-.4-3.3-2.2 .6-1.2 3.7 2.6 .9zM157.1 455.2l-1.4 2 2.8 2.8 1.4-.3 1.6-2.4 1-2.4zM160.5 505.8l-.9 .3 .9 3.5 4.4 1.7 1.2-4.2 1.5 .2zM151.1 457.3l-1-.4-3.7-1.1-.6 1.6-1.7-1.1 4 4.2 1 1.6zM169.1 398.6l2.4 2.5 4.1-3.6-3.9-2.1-3.5 2.2zM136.6 490.8l-.5-3.5-5.9 3.5 1.3 3.9 2.4 2.1 1.8-.2 1.1-3.3zM282.2 262.2l-.3 5.2 2.1-.1 1.8-.4 .3-4.3zM123.7 247.9l1.4 4 6 3.1-5.6-9.8-2-1.3zM244.4 370.9l1 1.4 3.1-2.3-1.2-1.6 .1-1.2-3.5 .7zM125.2 324.8l4.9-.4-5.9-7-.7 .6-4.1 6.9zM239.8 319.8l2.5 3 2.3-1.3 .4-.2-.9-2.6-3.1-1.5zM180.1 515.7l3.4-2.6 .4-1.2-.6-.7-3.4 .4-1.3 0-.6 4.2zM301.4 266.6l2.2-.7 .4-3.2-4.5 1.1-1.5 .3 1.2 1.4zM133.8 277.6l-4.5-.2-2.3 5.1 3.2-.4 3.9 1.4zM155.7 374.5l-4.3 2 3 3.4 .3 1.4 0-.2 1-.8 2.2-4.7-2.7-2zM212 185.7l8.4-1.9-1.3-.2-3.6-3.7-5.1 .8 2.3 2.5zM198.9 317.9l3.2 3.9 4.2-3.7-.1-1.9-4.9-1.1zM285.8 266.9l-1.8 .4 1.8 2.6 3.6 .8 1.7-1.7-1.5-.7zM203.9 362.4l-2.9 1.9-.1 1.7 3 2.2 1-.6 1-2.8-1.4-2.3zM162.7 440.3l2.6 2.5 1.6-4.8 .7-.3-1.8-1.6-3 .5zM114.8 456.4l-3.7-1.4-1 .3-3.2 2.4 3.1 .8 1.7 3.5 3.8-2.2zM247.3 304.3l-.4 2.7 1.8 2.1 2.4-1.5 .2-.6-.2-2.8-2.9-.8-3.1 1.2zM121.9 237.3l1.6 6.6 2 1.3 7.3-3.7 .6-5.1-.1 0-2.8-.3-2.5-1.1-.9-.5zM194.5 322.6l-1.7-2.1-1.8-1.3-2.2 2.5 3.1 3.1zM218.7 347.1l4.5-3.8-2.2-1.9-.1 .1-3.1 .6-1.6 3.2-.7 .8zM224 384.6l.2 3.2 2.1 .2 .9 1.3 3-3.2-5.3-3.2zM188.3 376.6l1-3.1 2.5-.7-1.3-3-2.1-1-2.8 3 .4 .2 .4 3.2zM147.9 377.3l-2.9 1.1 .4 4.9 3.7 .4-.6-2.6zM234.4 439.8l-.9-2.5-2.9 2-.3 .2 1.7 2.1zM166.5 304.1l1.9 2.3 3-3.8 .3-2.6-.7-.1-5.6-1.4zM103.1 496.6l-6.3-3 2.5 1.5-3.3 .8-1.5 5 3.5 .1 2.8-.2 1.5-.2zM204.1 422.8l.9 3 1.5 .9 1.7 0-.6-5.8zM287.9 252.5l1.3-3.7-1.5-.8-3.5 .5 .7 1.3zM184 270.6l2.9-4.1-1.9-1.3-3.7 1.3-.1 2zM212.4 361l1.6 .1 2.9-1.1-3.2-1.8-1-.5-.4 .9zM200.9 411.8l-1.7 .6-1.1 3.5 4.1 2.4 2.8-3.2zM238.3 445.9l-4.8 1.5-.1 1.3 .8 1 2.7 3 1.1-1.7 .8-1.2zM171.4 307.5l3-.1-.5-2.9-2.5-1.9-3 3.8zM188.5 290l-3.9 1.6 1.2 2.1 2.4 2.2 1.7 .7 2.2-4.7-.3 0zM187.8 304.7l-2.4-2.8-3.4 1.6 .8 3.5 2.5 .5zM150 525.2l-4 6 .2 .7 2.8-1 2.9-.9-.3-3.7-1.2 .4zM202.1 419.4l2.4 3.1-.4 .3 3.5-1.9 .7-.3-1.7-2.3zM239.8 471.8l-.5-4-1.2-.5-2.1 1.1-1.3 3 2.2 1.4zM345.3 360.1l4.6-.3-1.9-4.5-3.2 1.5zM122.1 467l1.5 4.5 .5-.2 .3-.4 3.5 1.7 2.4-4.7-7-1.1 0-.1zM230.4 275.7l3.1-1.8 .6-4.6-5.8 3 .7 2.8zM230.1 336.2l2.4 2.2 2.4-.5 .5-4.7-2.9 1.3zM162.4 309.1l-1.7-1.4-2.7-.3-1.8 1.5 1.6 4 4.7-1.5zM182.1 407.5l-1.3-.3 .4 2.3 .5 2.6 3.1-.1 0-1.1 .4-1.8zM121.2 338.5l4 .8-1.2-1 1.3-8.4 0-1-5.5 2.5zM127.1 436.4l.2 3 2 1.1 4.6-1.9 0-1.8-2.3-2.8-2.1 1.1zM144.4 521.3l-3.6 2.8 1.9 3.6 5.7-3.1 .4-.6zM168 500.1l-.7 .6-4.2-1.2-3 2.2 .9 1.6 5.9 .4zM164.5 319.9l2.1 1.2 4.5-2 1.4-2-4-2zM253.5 448.5l3.2 1.1-.2-4.9-1.1-1.5-2.4 3.6zM74.2 467.5l.8 .5 2.3-.9 2.2-.8 1.6-.2 0-2.9-4.6-.9zM243.8 283.8l1.2-3.1-1.9-2-2.8-.5-.4 1.7 2.4 3.7zM177.4 274.2l-3.6-1.7-2.3 4.2 3 5.3 4.2-2.5zM290.6 260.7l-4-.1 .9 2.8 2.8 .8 1.8-1.2-.6-4.3zM233.2 383.5l2.4 2.5 2.1-.4 .4-1.7-2-1.9zM276.8 330.1l1.2 2 2.3-1.4 1.4-4.6-1.9-1.1-.4 .5-1.8 3.9zM177.1 330.7l-.4 1.9 .8 3.1 3.7 .2 2.1-2.2-.2-2.1-6.2-1.1zM214.5 392.9l-1.2 0 0 1.9 2.8 1.8 2.4-2.1zM167 415.6l-2.4 2.7 1 1.2 2.5 1.7 2.8-2.4 .2-1.8zM232.5 418.5l1.9 4.4 3-2.5-.6-3.4-1.6-.8-3 1.1zM142.1 429.6l4.5 .7 1.2-.2 2.1-4.4-4-1.6-2.1-.7-2.7 3.8zM165.7 448.5l-3.8-2.1-.9 5 2.6 1.1 1.5 .5 1.3-3.3zM265.3 446.8l3.6-.1 1.8-4.9-4-.9-1.5 5.3zM231.6 199.4l1.5-2.3 0-4.3-3.1 1-3.1 2.1 .7 3.7 1.8 .5zM137.1 513.1l-3.8-1.8-1.3 3.9 .4 .8 3 .2 2.6-2.2-2 4-.3 .7 3.9-3.9 .1-.6-.6-.4zM294.2 446.3l.3 1.4 2.5-1.6 .2-.7-1.4-3.2-1.7-.7zM194.5 365.1l3.1-1.9 1.3-2.9-2.4-1.2-3.2 .7zM247.3 433.4l1.9-1.9 .2-1.9-3-2.2-2.4 3.4 .7 .8zM212.4 282.7l1.8 3.2 3.4-2.9 .4-2-2.3-2.1-4.3 3.6zM218.3 472.3l-5-1.7-1.2 .6 .2 4 3.2 1.2zM150.8 362.4l-2.5 4.2-.6 1.8 4.7 0 1.6-1zM252.9 142.7l.3 1.7 .5-.6-.1-2.2zM257.3 147.9l3.3-4-5.1-2.4-.5 3-.3 2.6zM143.4 367.6l4.1 1.1 .2-.3 .6-1.8-2.4-3.1-.9 1.5-1.9 1.7-.7 .3zM236.7 485.9l.3-1.1 2.8-2.9-1.1-2.7-1.2 .9-3.8 3.3 .8 1.5 .9 .2zM278.4 415l-3.8 .8 0 2.9 2.8 1.2 2.6-.9zM214.3 206.8l-1.4 1.1 1.1 1.1-.1 3.3-1.7 1 2.4 1.9 1.1-3 2.5-1.1zM172 329.7l-.5 .7-1.2 .9 2.4 2.8 4-1.5 .4-1.9zM233.8 348.6l-3-1.8-.9 .4-.5 3.2 .1 1.5 2.9-.5zM261 307.2l-2.3 2.3 1.2 2.1 5.1 .9 0-2.5 .1-1.1-2-2zM233.3 160.5l-1.4 1.8 2.5 3.5 .8 3 3.9-3.3-1.3-5.8zM305.7 284.4l2.1 3.6 1.9 2.4 1.5-1.5-.5-6.4-2.2 1.3zM251.7 260.7l4.5-2.2-.6 0-1-4.5-2.6 1.8-2.3 2.7zM171 265.6l.7-3.2-1.4-2-2.8 .4 0 2.5-.4 2.8 1 2.6zM202.6 251.2l-3.6-2.6-1.1 .7-2 2.2 4.5 4.5 1.7-1.1 1.9-5zM195.8 424l1.1 2.3 2.3 .6 .9-.5-.9-4.7-.5-.1zM303.1 387.7l-.7-3.6-1-.6-2.6 2.3 .1 2.9 .8 1zM200.7 286.1l2.3-2-.6-2.6-2.4-.2-2.7 0 .2 2.9 .5-.2zM128.9 278.4l-7.7-1.5-1.2 3.1 2.1 2.6 1.7 .8 3.2-.9zM197.8 299.8l4.9 .7 .7-.6 .1-1.1-2.1-3.9-2.4 2.2zM213.7 308.6l-.6-3.5-3.6 1-.1 3.2 1.8-.2 3.4 2.4zM154.9 282l.2 3.8 2.8 .8 3.3 1.2 1.3-2.7-.6-4.2-2.4 .5zM123.8 431l3.1 .7-2.3-5.4-1.6-1-2.3 1.4 .5 1.4-1.4 1.2zM173 462.2l-2.4-1.1-.4 3.8 2.6 1.2 1.3 0zM217.6 384.8l1.6-2.1-3.4-2.8-1.7 1.4-2 3.2 2 1.5zM234.9 369.8l-.4-3.3-2.5-1-2.4 1.5 .4 2.6 2.8 1.9zM253.5 135.2l-3.2 .2-1.8 4.7 4.4 2.6 .7-1.1 0-.6 1-3.6-1-2.2zM211 318.9l.4-2.5-.5-1.4-3.3 .8-1.4 .4 .1 1.9 1.9 2.7zM151.9 315.3l-2.7 2-2.4 3.1 2.9 3.7 3.2-2.6 1-3zM291.1 287.2l3-1.2-1.1-2.6-1.3-1.6-1.7 1.4-.3 3zM236.9 261.9l-2.2 1.9-4-.8 .5 3.2 2.6 1.8 3.4-.7 .2 .5zM237.4 441.4l2 4 2.6-1.5 2.4-1.6-3.2-2.1-2-.9zM116.3 314.8l-.5-3.9-5.4 1.4-2 1.8 5 6.2zM157.1 304.5l4.2-2 1.6-5.1-2.6-.5-5.8 1.4zM151.7 507.5l.7 2.1 .2 0 5.8-3.6-4.1-2.6-2.7 .1-1.8 .1zM110 434.4l-1.2 3.2 1.5 3 3.9-1.5-.1-1-1.3-2.1zM164.7 367.3l-3.6-3.6-4.9 1.8 1.2 3.1 1.2 1.3zM95.9 271.4l1.4-3.8-1.3 .4-3.3 0-2.8 1.7-2.9 1.3 3.3 .1 1.7 2.9 2.3 1.9 .5-.1zM211.8 417.3l-2.3-1-3.1 1.8 1.9 2.5 2.5 1.4zM169.3 253.8l2.6-4.2-1.3-2-1.5-.8-2.9 3.3zM202.5 231.6l4.9 3.7 .4-1.9 1.4-2.2 1-2.6-.2 .2-5.3-2.2-3 4.2zM234.1 176.7l3-1.5-3-3.3-3.4 .7-1 3.3zM76.5 462.3l4.6 .9 3.9-4.4-1.1-.4-3.7-2.3-1.1 .6-3.1 1.3-.3 .5zM266.3 331l-1.7 2.7 .6 2.6 3.7-.7 1.3 0-1.9-2.5 .5-1.2zM347.7 387.1l2.1-1.2-1-4-1.3-.7-1.8 3.7 1.7 1zM200.7 286.1l-2.7-2.1-2.7 3.1 2.2 1.6 2.5-.9zM171.5 276.7l-.6 1.3-3.4 2.4 1.2 4.6 6.6-1.2-.8-1.8zM195.4 375.1l-1.7-2-1.9-.3-2.5 .7 3.8 3.4zM170.3 412.7l-2.3 .7-1 2.2 4.1 1.4 2-.4 .6-2.6zM194 430.8l-1.7 3.2 .8 .8 1.9 2 1.6-2.4-.4-2.9zM178.7 315l1.2-1.2 2.2 .4-.9-4.1-2.2-.7-.9 3.3zM237.4 267.8l-.2-.5 .3 4.3 4.6 .8 2-1.1-1.8-4-1.7-.3zM95.2 317.8l7.1-.4 2.1-.4-2-6.7-1.5 .2-2.5 1.6-2.4 1.9-1.1 2.7-1.1-.2zM218.3 177.1l4.1-3.1-2.1-3.4 .7-1.7-3.8 2.7-2.7 1.8 2.5 2zM164.6 274.1l2.7-1.7-3.3-1.6-1.4-2.1-3.1 2.4 1.5 2.3zM191.5 274.7l-4.5-2 .3 4.7 2.3 1 1.4 .2 .5-2.8zM233.4 299.2l-3.9-1.2-.4-.4-.4 1.5 .1 .6 3.5 3.8 .6 0zM198.6 179.7l-3.2-3.3-.6 .4 .2 3.2-.7 2.5 2 .7zM131.7 508.5l4.6-2.6-1.7-2.3-4.9-2.2-2.4 3.6 .1 2.4 1.9-1 2.7-.4-1.2 2.3zM225.6 238.8l-.2 2.9 .6 2.8 4.5-.3 1.5-5.5zM349.5 373.7l-.3 .5-.5 3.3 1 3.4 2.1-1.1 .3-3.4zM222.7 418.6l-1.5 3 1.1 .2 3 2.5 2.3-3.4-2-2.9zM130.3 274.1l2.5-3.1-2.1-2.3-.2-2.5-6 1.3-1.1 2.6zM183 463.9l2.9-1.8 .5-3.1-3.5-.5-2 2.2 .3 2zM106.4 495.2l-3.3 1.4-.8 4 1.2-.1 2.5-1.5 2.1-2.5 .1 0zM135.7 263.3l5.2 5.3 .3-.2 2.1-1.7 .2-1.3-2.7-5.8-4.6-.7zM180.9 460.7l-1.6-1.7-4 .9 3.8 3.6 2.1-.8zM172.2 294.3l6.2 3.5-.2-.7 1.3-3.3-4.9-.9zM313.4 260.9l3.8 5.2 .5-1.8 2.3-3-.8-.5zM221.9 249.1l-.4-.8-3.9-1.3-2.5 2.8 1 2.9-.2 .7zM206.2 433.8l-.2 1.8 .1 3.7 3.2-2-.4-2.4zM226.6 319.6l-2.6 .8-.2 2.3 .6 3.6 3.8-1.2 .3-2.4zM221.9 335.8l2.2 2.4 .8 .3 3-3.3-.5-1.5-2.4-1.1-.1 0zM243.7 137.6l.4-2.9-.3-1.6-1.3 .7-2.7 .9-1.6 1.8zM161.7 441.1l-3.9-1-2.8 2.8 3.8 2.6zM192.3 225.1l4.6 4.3 .3 .1 .2-2.2 1.7-2.1-1.7-1-3.1-.7-.3 .5-1.6 .8zM281.9 381.5l-.5 .6-1.6-.9-3.2 1.7 1.5 1.9 2.4 .2zM204.2 288.3l1.1-1.9-2.3-2.3-2.3 2-.7 1.7 1.8 .1zM168 365.1l.3-.8-.9-2.7-3.6-1.6-3.3 .8 .6 2.9 3.6 3.6-.6 .5zM259.9 299.1l4.5-2.6-2.4-3.3-3 1.2-2.7 2zM264.5 258.4l-.5-1.4-2.6-2.2-2.1 .8 3.9 5.6 1.6-.5zM163.4 290.2l1.2 1.5 4.6-4.2-1.7-1.3-5-1.1-1.3 2.7zM227.3 143.5l8-6.1-.3 .1-2.9 .9-2.9-.9-3 0-.1 .1zM174.6 317.3l4.1-2.3-.6-2.3-4.7 .6-1.7 2.8zM329.1 405.1l-3.4 1 2.8 2.6 2.9-2.5-.8-1.8zM171.7 300l4.9 1 1.8-3.2-6.2-3.5-.7 2.3-.5 3.3zM129.6 515.4l-2.8-2.6-.6 .5-2.4 .9-1.6 1.7 1.9 4 2.1-1.5zM156.1 499.5l3.6 0-2-4.2-1.7-2.5-2.1 .8-1.8 2.3zM214.9 326.3l-1 .7-1 2.7 4.2 1.8 .1 .4-.1-2.9zM273.8 261.7l-1.9-4.7 .6-1.3-2.6 2.9 .7 1zM222.9 371.8l-1.6-.4-2.2 4.5 .2-.3 1.7 .3 3-1.7-1-1.7zM136 460.1l1.2 3.2 4.4 .4-.7-4.9-1.7-.4-2.6 1.5zM132.8 530.8l-2.1-4.4-5 .3 0 4.7 2.9 2.2 1.2-.5zM159.5 404.4l5.7 1.3 1.8-1-.7-1.7-3.4-1.7zM235.6 392l.3 3.1 2 1-.1-.2 2.2-4.2-1.7 .1zM207.8 238.9l4.9 4.3 3.4-4.1-1.1 .2-.9-2.3-2.9 1.5zM237.5 480.1l-1.6-2.4-2.6-.5-1.7 4.3 2.1 1.9zM101.1 452.6l.9-.4-.2-2.2-.6-2.8-2.2-2.2-.2 3.1-.4 1.6zM218.8 376.9l-3 3 3.4 2.8 2-.3 .4-1.9-2.7-2.6zM180.4 390.3l-3.7 2-.6 2.7 3.4-.2 3-.5 .1-1.7zM232.9 303.5l-.6 0-.8 1.8 1.2 3.4 3.1-2.5 .8-2.1zM205.5 265.5l-1.3 2.4 .4 2.3 2.1 .1 4.1-2.3-1.7-.7zM123 425.3l1.6 1 2.6-2-.2-2.4-2.2-2.8-1.6 2.9zM255.7 320.3l-2.8-3.2-2.3 .7 .8 2.7 1 .6 2-1.7zM223 258.8l-2.7 .6-.6 5.3 1 .6 4.3-1 1.2-1.2zM218.7 294.3l-4.9 3.5 5.4 3.5 .2-1-.5-.9-.9-3.9zM149.3 486.2l3-3.3-3.2-2.4-1.5 1.9-3.3 3.2 .4 2.8zM154.4 379.9l-3-3.4 .2-.1-3.7 .9 .6 3.8zM286.2 274.7l-2.9-.2-1.7 2.3-.6 1.4 5.1-.9zM186.4 238.8l4.9 .6 .5-5.6-1.6-1.2-3.2 .3 .9 4.7zM138 481.6l2.5-2.7-2.3-3.9-3.4-2-1.1 2.3-.4 2.6zM233.5 273.9l-3.1 1.8 1 4.5 3.1-.6 .3-4.1zM138.3 391.9l3.4-4-1.1-2.2-2.5-1.1-.1 1.4-1.5 2-.2 2.5zM221 269.3l-.3-4-1-.6-5.4-1.2 .1 4.8 1.7 2.4 2.5-1.4zM208.3 261.6l-3.9-2.3-5.6 1.7 3 1.1-1.3 .2 5.6-.6zM278.1 306.5l1.1 2.1 3.1-1.9-1.9-3-2.3-2.2-.3 2.3-1.2 .6zM212.9 273.5l.2 1.9 2.8 .3 1.3-1.8-.8-2.2zM173 347.1l-1.7 .1 1.1 3 3.1 1.2 .7-.9-2.6-4.2zM217.4 355.8l2.6 2.1 0 .2 3.3-3.7-2-2.3-2.9 1.4zM192.2 284.5l-1.1-3.9-.1-2-1.4-.2-2.4 6.2 2.1 1.1 .8-.5zM229.4 200.1l-1.8-.5-3.5 1.9 .7 3 .4 3 4.6-2.4zM162.4 431l2.9 .7 1.2 .1 1.5-2.1-2.9-3.1-2.1-.6zM194.4 393.2l.7 1.1 2.3-4.9 .1-.4-3.3-1-2.2 2.7zM304 295.4l-.2-1.2 .9-3.6-1.9-2.1-1.2 .2-1.4 2.6 .7 3.8zM302 376.9l2.4-.3 1.8-2.4-1.4-.9-3.5 .3 .8 .4zM104.2 511l1.1-.5 3.9-2.7-.7 0-4.5-2.8-1.8 1.3zM160.2 486.3l.9 0 2.7-4 .5-.3-4.9-1-.2 4.4zM174.8 445.2l.9 1.5 2.4 3.2 4.1-1-2.1-3.2zM203 386.1l4.2 1.5 .5-1.7-.2-.5-3.2-2.9-2.7 2.2zM231.9 252.5l1.1-.9 0-1.2-.9-1-1.4-1.7-3.9 .4 .1 1.7 .7 4.5zM222.1 274.5l-2.6 1.6 .9 3.9 .9 1.2 4.3-.4 0-3.2-3.4-3.4zM137.4 454.6l1.8 3.8 1.7 .4 3.2-2.5 1.7 1.1-3.8-5-3.7-.2zM228.5 322.7l-.3 2.4 2.4 .1 .4 .9 1.9-4.4-2.8-.4zM116.1 256.4l-2.6-9.8-4.4-1.5-1.1 2.7 0 4zM189.5 491.4l2.8 1.2 1.6-2.2-.4-1.4-1.3-3.2-2.2 2.5-1 .8zM212.7 301.3l1.3-2.9-2.4-1.2-2.5 .6 .4 4.3zM285.8 432l-4-.3-.4 .4 1.1 1 1.7 2.4 1.2-.1 1.2-1.7zM344 325.3l-1.5 4.2 .3-.3 0 1.8 4.3-2.6-.9-3.4zM195.1 267.7l-2.4-.5-4.7-1.7 .4 3.5 4.6 1.4zM159.9 409.1l2.9 .4 2.4-3.8-5.5-1.2-2.6 4.6zM197.9 354.5l2.8 2.2 1.1-1.2 .9-3.6-.8-.8zM208.2 159.9l-1.8-1.6-1.3 .9-3.9 3.7 4.6 .7zM118.8 417.5l-1.8-.2-1.5 .9-.4 4.2 .4 .2 1.3 .2 2.6-.8zM248.6 315.7l-.4-3-.7-.8 0-.2-1.7 .9-.5 2.9-1.1 1.5 4.7 .3-.3-1.1zM197.1 370.4l2.4 .7-.8-.7 .8-3.8-4.1 .6zM109.7 336.8l1.3-7.8-4-.4-2.4 4.4-.5 3.1 1 0 1.8 1zM185.4 381.3l-4.9 1.5 1.3 1.6 4.8 .8 .2-.6zM206 305.3l-2.1 3.8 2.1 2.8 3.4-2.6 .1-3.2-1.6-.5zM247.2 397l-.6-.6-2.8-.3-.8 0 1.3 3.1 1.6 1.5zM206.2 316.2l1.4-.4-1.6-3.9-2.1-2.8-2.1 1.4-.2 2.9-.3 1.7zM132.8 530.8l2.9 .9 .4-5.2-.4-1-3.6 .6-1.4 .3zM137.4 522.2l2.3-1.3 1.6-3.9-1.7-2.2-3.9 3.9-.2 .4zM212 200.7l3.3 4.7 5-1.4-.5-4.9-5.4-.1-2.1 1.7zM266.1 265.8l-2.4-.4 .2 .1 2.2 4.4 3.8-.5-.3-3.5zM219.1 205.4l.3 2.2 4.6 .4 3-.7-1.8 .2-.4-3zM181.2 256l1 4.1 2.6 1.3 .3-1.3 4-2.1-2.3-3.6-2.4 0zM161.1 244.9l2.4-5.1-1.1-1.8-.4 0-2.1 1.9-1.9 2.1-.4 .7zM226.4 397.1l-1.6 5.5 4.1-.8-.4-1-.2-3.4-.6-.4zM240.6 461.4l3.6 4 2.4-2.2-1.8-3.5-.9-.4zM111.7 318.7l1.7 1.6-5-6.2-4 2.9-2.1 .4 .4 5.4zM213.7 308.6l.9 2.9 1.1-1.9 2.1-.3 2.6-1.7-2.1-.5zM242.5 360.8l.2-.4 1.1-3.1-.9-.7-1.9 .2-.7 2.6zM274 265.5l3.9-.7 .2-2.2-1.6-1.6-2.2-.2-2.4 3.2zM269.5 305.7l2-1.7 .6-1.8-1.1-2.6-5.2 1.9 2 3.5zM142.3 507.2l1.4-.5-.1-2-.8-.3-3.8-1.8-2.3 4 1.2 .8zM237.7 292.5l-2 2 .5 3.2 3.9-.5 .7-2.9zM162.8 458.2l2.2 4.2 1.4-.8 1.1-.8 .9-4.7zM269.3 315.3l7.1 .5-.7-.8 2-2.2-5.4-2.6-1.5-.2 .2 1.2zM167.6 507.3l-1.5-.2 4.9 1-.2-6.2-2.8-1.8-1.1 3.6zM241.1 288.6l-1.5-3.3-2-.7 .1 1.9 .3-.1 .6 2.6 2.1-.9zM187 232.9l-1.7-1.4-.3 1-.7 2.4-.3 2 3.9 .7zM203.6 346.1l.4-1.8-4.2-2.9-1 2 .5 3.5 5.7-.7zM181.2 412.7l.4-.2-3.5 .2-.2 1.5 .3 3.2 1.7 .6zM316 352.1l-1.6 2.8 3.7 1.3 1.8-1.6 1.3-1.5-3.3-2zM139.6 405.4l-3.1-.4-2.7 1.9 2.3 2.6 3.6-1.3zM123.1 306.6l1-.7-4-8.2-1.1 3.6-4.2-.1-.3 .8 1.9 7.4zM152.9 321.5l-3.2 2.6-.1 .9 3.7 2.3 1.2-2 1.3-1zM209.5 426.2l-1.4 4.6 1.8 .3 2.7 .2 1.9-3.7-.6 .1-.8-1.4-2.6-.3zM176.5 274.7l8.1-.8-.3-1.4-.3-1.9-2.8-2.1-2.8-.1zM214 345.8l-.2 .6-.6 2.2 .6 4.1 1.9-.7 1.1-1.7zM238.8 315.7l-.3-4.7-1.2 1-3.2 1.1-.2 3.2 2.3 .7zM138.5 419.3l-1.4 5.3 4 2.6 2.7-3.8-1.4-3.7-1.2-.8zM254.8 337.1l-2.2 .9 .2 1.2 .1 2.6 2.8-.3-.6-.5 .4-4zM243.8 469.2l.4 4.4 3.8-2.8 1.5-1.6-2.7-3zM227.1 445.6l-.5-.3-4.3 4.4 .7 1.2 3.3-.1zM209.1 329.3l2.2 1.9 1.6-1.5 1-2.7-2.6-2.7-1.9-.2-2.1 3.6zM147.1 388.4l-1.2 .8-2.8 1 .7 3.4 2.1 2.8 2-1.3 .2-1.1 .4-4.2zM203 322.7l-1.2-.7 1.1 .9-7.4 1.9 3.3 3.9 3.2-3.1zM187.8 363.9l1.7-.8-.1-3.1-4.2 .1-.2 1.7zM190.1 285.2l-.8 .5-.8 4.3 3.3 1.9 1.8-3.7zM242.8 254l3.5 1.3 2.5-3.4-2.3-1.1-2-.2-2.4 1.9zM207.1 471.8l-2.5-.6-2.4 2.1 3.8 2.9 2.3-3.9zM148.1 261.2l.1 1.7 3.8 3.7 0-1.8 3.2-4-3.1-3.2zM167.1 253.5l-.5 .7-1.6 3.8 2.5 2.8 2.8-.4 2.1-4zM268.4 286.8l1.3-2.2-2.1-2-1.6 0-1.1 2.4zM214.4 199l5.4 .1-.5-.7 1.9-1.8-.4 0-5-2.4zM211.3 324.3l2.5-1.9-2.8-3.5-2.8 1.9 1.2 .8 0 2.5zM200.2 392.6l-.8 3 3.9 .4-1.2-.3 1.9-4.2-.5-.4zM226.9 249.8l-.1-1.7-1.9-4.2-3.1 2-.3 2.4 .4 .8 1.6 .2zM89.1 519.4l.9-.3 3 .9 2.5-.6 .3-.1-.6-4.1-2.5-1.7-.5 .3-2.2 2.2-1.4 1.7zM266.2 291.8l-1.6-.3-2.6 1.7 2.4 3.3-.5 .5 3.3-1.4 1.5-2.5zM145.4 383.3l-1.5 .2 2 5.7 1.2-.8 2.8-1.1 1.1-1.8-1.9-1.8zM188.9 303.3l1.7-.7-3.9-4.7-.5 2.2-.8 1.8 2.4 2.8zM208.2 275.8l.7-1.3-4.6-.7-1.5 .5 1.1 .4 .9 3.7zM154 417.6l3 .5 1.5-2.8-3.9-2.6-1.5 1.5zM206.4 458l.4 2.7 1.5 3.5 3.6-1.5 0-2.7-4-1.7zM227.2 372.2l-1.9 4 2.4 .7 1.7 .5 2.5-.8-.3-1.4zM245.6 296.9l0-.7-4.3-1.7-.5-.2-.7 2.9 1 .5 4.3 .7zM238.2 342.9l-.8 2.3-1.6-.2 2.5 3 3-1.2-.6-2.6zM219.7 365.1l-.3-2.3-2.7 1.6 1.7 4.5 2-3.3zM232.2 209.7l4.3-1.4 0-1.7 .7-2.8 .5-1.3-3.1 .5-3.4 3zM201.3 441.7l-3.5-.8 1.1 3.6 2 3.8 1.1-4.9zM120.1 450l3.7 3.4 2.8-4.1-2.8-2.5-3 1.6zM286 460.2l-2.8-1-.7 2.6 5 1.2zM280.5 256.9l-.2 1.2-.3 3.2 2.7 1.4 2.1-2.4-2.7-4.3zM241.8 486.4l1.3-.9-1.2-3.3-2.1-.3-2.8 2.9zM193.6 365.5l-6 .9 .4 1.5 .4 .9 2.1 1 3.9-3zM147.8 417.5l3.8 3.1 2.4-3-1-3.8-5.6 1.8zM175.8 411.1l-1.8 1.4 .1 2 3.8-.3 .2-1.5zM205.2 193.5l-4.6-3.5-3.2 0 .2 3.3 .9 1.9 4.2 .3 .5-2.5zM229.1 487.6l1.2 .2 4.2-2.9-.8-1.5-2.1-1.9-3.7 1.1zM239.8 481.9l2.1 .3 1-2.2 .4-1.8-.3-1.3-3-.5-1.3 2.8zM252.2 314.8l-.1-4-3.9 1.9 .4 3zM215.1 467.3l-4.7 1.1 1.7 2.8 1.2-.6zM182.5 394.3l2.6 3.5 2.1-1.5 .5-1.6-3.3-3-1.8 .9zM221.7 302.5l-2.3-2.2-.2 1-3.6 3.2 2.7 2.6 1.4 .3zM324.4 451.2l-1.4 2.2 1.8 .2 1.9 1.1 2.4-2.8-.9-.5-1.5-1.4zM143.3 266.7l-2.1 1.7 1.1 3 3.7 6.3 1.8-2.2 .7-5.7zM210.8 400.1l-1.1 1.2-1.9 3.1 1.9 2.7 3.7-.6-.7-2.5zM212.4 378.6l1.7 2.7 1.7-1.4 3-3-6.3-3.4 .1 .7zM224 386l-2.8-3.6-2 .3-1.6 2.1 1.6 .9 .4 .7zM217.2 171.6l-4.3-3-3.3-1.1-.5 .3 .6 2.6 4.1 4.5 .7-1.5zM180.9 320.4l.9-.4-1.9-6.2-1.2 1.2-4.1 2.3 1.8 3.8 1.1 .2zM177.2 405.3l-.2 2.7 .2 1.1 4 .4-.4-2.3 1.8-2.9-3.3-1.1zM227.4 333.7l2-2.5-1.4-2.5-2.5 .4-.5 3.5zM198.8 168l2-4.1-1.1-1-1.5 1.6-2.9 .7-1.5 2.3 .3 .6zM145 378.4l.2-.3-3.4 2.8 1.8 3.7 .3-1.1 1.5-.2zM165 258l-2.7 2.5 .3 2 4.9 .8 0-2.5zM116.7 519.7l-.7 .3-2.9 .5-.7 2.9 4.6 0 2.7-.4 0-.1zM120.9 493.1l-.1 .1 1.2 .2 .6-.2zM207 251l1.1 4.4 2.7-.1 1.2-1.4-.6-3.9-2 .7zM183.6 429.4l.5 2.9 4-.1 1.2 .7 .4-4.1-1.1-1.3zM250.6 411.8l-3.3 3.4 1.2 1.7 3.8-.1-.3 .8 1.6-3.4zM289.5 276.6l3.8 1.1 .6-.2 1.5-5-1.3-.5-3.7-.4-1.2 1.9zM173.6 326.2l-1.6 3.5 5.1 1-.2-.2 2.2-3.3-2.7-1.9-1.8 .8zM132.8 241.5l2.9 .7 4.7-.1 1.4-2.6 .8-4.3-.6-.2-3.4-.1-2.6 2.1-2.6-.6zM247.7 447.2l1.4-1-2.7-1.7-2.2 1.8 1.2 2.4zM249.2 391.5l-.8-4-1.9 0-1.4 1.6 .2 3.4 2.1 .7zM192.8 320.5l1.7 2.1 .8 .3 2.4-3.7-2.6-2.6zM183.5 377.8l-2.8 3.5-.2 1.5 4.9-1.5 1 0-1.8-2.3zM184.7 193.3l.8-2.3-5.1-2.5-.4 .3-1.1 3.1-1.4 3.1 2.4 2.1 .9 .6zM341.6 318.1l1.8 2.5 1.8 .2-.2-.8-.4-3zM152.9 408.2l1.8 .3 2.4 .6 3.2-5.8-2.1 .1-5.3 1.5zM253.9 324.9l2 2.4 2.4 1.4 1.6-4.7-2.9-.1-2.8 1.3zM148.8 442.9l-4 .1 .1 4.1 1.6 .6 2.9-2.2-.2-2.9zM195.3 322.9l.2 1.9 7.4-1.9-4-5-1.2 1.3zM258.7 356.5l.7 0 2.2-3.2-1-.1-3.2-2-2.3 3.5 .8 .5zM261.3 367.2l-1.4-1.4-3-1-1.1 3.5 .4 2.4 3.5-1.4zM234.6 279.4l-.1 .2-3.1 .6-2-.1 3.6 3.1 1.1 .6zM219.8 143l-3.7 5.1-1.3 .1 5 4.5 3.9-5.8zM202.4 281.5l.6 2.6 2.3 2.3 2.2-1.8 0-3.5-2.4-2.9zM222.6 434.8l-3.1-3.8-.3 .2-.8 .3-.1 .4 .7 4 2.1 .4zM115.6 463.5l5-3.8-1.1-2.9-1.9-1.6-2.8 1.2 .7 3.4zM225.6 280.8l2.6 .5 1.2-1.2 2 .1-1-4.5-1.4-.6-3.4 2.5zM157.9 524.2l2.8 .8 1.5-6.5-5.6-.2-1.2 1-.2 3.3zM104.6 333l-7.2-2.8-1 2.8 1.1-.5 2.2 1.9 2.2 1.8 2.2-.1zM239.7 305.9l2-.6-1-2.9-.5-2.4-1.5-.1-1.9 4.4zM227 207.3l-3 .7 .1 4.6 1.5 .8 3-3zM252.6 300.5l-1.5 3.9 3.9-1.6 1.5-1.1-1.6-2.3zM140.5 337.4l.3-.3-4.2-4.5 .8 1 .7 6.1zM234.5 242.3l-.4-2.6-2.2-.7-.7 2.7zM203.9 182.1l3.1-3.9-1.8-3.6-2.7-.5-.3 6.1zM208.9 434.9l.4 2.4 3.9 .9 .5-4.3-5.5-.1zM193.4 270.5l-5-1.5-2.2 3.5 .8 .2 4.5 2zM156 253.8l3.3-5.6-2.9-3-.4 .8-.7-1.2-3.6 3.3-.1 6.4zM240.3 278.2l-2.3-1.5-.8-2-2.4 .8-.3 4.1 .1-.2 2.9 2.3 2.4-1.8zM252.2 380.3l-.6-.1-1.6 3.2 3.4 .6 .2-3zM249.3 324.3l.1 2.1 1.3 3.7 1.5-1.7 1.7-3.5-.4-.2zM324.9 441.9l1.4-.9 1.9-2.3-1.5-2-2.5 1.9-1.9 2.1zM227.7 284.5l.5-3.2-2.6-.5-4.3 .4 1.6 .6 2.2 3.7zM231.5 430.5l-1.4 3.5 3.7 1.4 2.2-3.1-1.3-.2 .4 1-3.3-2.5zM138 311.5l-1.6 .3-4.2 4.9 .9 3.8 1.7 .7 4.7-5.7zM225.8 471.3l-1.2 2.7 1.1 1.3 3.9-1.9-.9-3.5-1.9 .1zM246.5 250.8l1.4-1.8-5.6-2.8-.7 .8 2.9 3.6zM189 437.6l-1.3-.5-1 3.8 1.4 .4 2 .9 .9-.5zM237.3 312l1.2-1 2.9 1.1 .7-1.2 .5-1.4-3.7-.8-1.6 2.6zM165.7 448.5l2-3.2 1.1-.8-2.2-.7-4.1 2.9zM338.3 337.5l.3-.4 .3-.6-.1-.5-.7-.2-.3-.6-1 1.3 .5 .7zM259.3 304.7l-2.9 .9-.8 0 .7 3.1 2.4 .8 2.3-2.3zM328.9 428.8l0-2.5-.4-.7-1.6-.4-2 2.3 .1 1zM153 337.9l-1.6-3-1.6-.3-.1 1.5-2.2 2 .2 1.1 5.8 1zM157.4 476.2l-2.7 .4-.7 3.9 4.9 .5 1.7-3.4zM317.7 264.3l.2 1.8 3.9 1.9 1.1-3.3 .8-1.1-1.1-1.2-.1 .1-2.5-1.2zM197.5 284.2l-.2-2.9-2.1-.8-4.1 .1 1.1 3.9zM238.3 403.7l-.7 .3-2.5 .6-1.6 2.3 .4 .2 4.2 1.4 1.7-3zM279.5 414.3l1.3-4.4-1.6-.1-3.5 .9 3.2 4.6zM229.3 462l1.8 2.8 3.8 0-.5-5.7-4.1 1.8zM138.4 376.4l.6-1.9-.6-.7-.6-.8-2.1 1.9 .2 2.2zM126 405l-2 1-1.6 2.3 2.1 1.3 3.3-.4-.7-2.5zM137.1 424.6l-.8-.1 .7 4.1 2.7 2.2 2.4-1.2-1-2.4zM326.4 446.6l-2.5-1.8 .4 2.6 1.3 .3 1.6-.6zM166.1 521.9l-3.7-3.1-.2-.3-1.5 6.5 .7 .6 .6-.6 4 1 1.7-2.2zM277 150.5l.5-.5 1.9-1.7-7.2-5.4-1.6 3.9 .4 1.8zM196.6 273.2l3.5-1.1-.1-2.9-3.6-2.6-1.3 1.1-2.4 3.1zM228.2 268.5l-3.2-4.2-4.3 1 .3 4 4.3 .7 2.3 .4zM145.2 378.1l-1-3.3-5.2-.3-.6 1.9 .4 3.4 3 1.1zM317.2 340.5l-2.4-.5-1.6 2.1 .3-.8-.6 1.2 2.6 .9 1.8-.8zM136.4 329.5l-1.1-3.1-3.8 4.7 1.4 5.6 4.5-3.1-.8-1 1.7-1.2zM227.8 492.1l1.2 2.7 3.5-1.8 1-.8-3.5-3.8zM213.7 187.7l-1.7-2 .7-2.5-5 3.8-.1 2.6 2.4 1.1zM203.9 368.2l-3-2.2-1.4 .6-.8 3.8 4.5 1.7zM140.8 524.1l-1.1-3.2-2.3 1.3-1.7 3.3 .4 1 4.3 2.8 3.6-2-1.3 .4zM104.1 459l-.8-1.5-3.4-.7-2.6 5-.4 .6 4.5 .3zM117.6 455.2l1.9 1.6 3.9-2.3 .4-1.1-3.7-3.4-3.6 1.7zM177.6 361.9l.3-1.3-5.4-.6-.8 1.2 2 3 .4 .7zM232.8 371.5l-2.8-1.9-3.3 2.5 .5 .1 4.4 3 .5-2.1zM202 351.8l3-5.6-5.7 .7-1.9 .8 .6 .6zM234.1 239.7l.4 2.6 1.8 2.9 .8 .8 1.4-2.8-3.1-3.7zM204.4 259.3l4.2 2.5 2.3-3.7-.1-2.8-2.7 .1-3.5 .9zM221.1 241.2l.7 4.7 3.1-2 1.1 .6-.6-2.8-3.6-1.2zM298.8 402.5l1-1.2-3.5-2.4-.9-.9-1.8 2.9 .2 .6 2.3 2.1zM160.5 512.3l-4.8-1.3-1 5 2 .9 4.5-4.2zM183.3 333.7l2.5 3.5-.1-2.3 1.8-.7 .6-3.5-4-1.3-1 2.2zM173.7 364.2l-4.3 1.3 1.2 3.1 2.4-.5 2.4-2.8-1.3-.4zM153.3 390.5l-.2 .3 1.3 2.2 1.9-5.1-3.7-3-1.6 .6-1.1 1.8zM173 368.1l2.2 .9 1.2 .6 1.5-2.7-2.5-1.6zM221.8 161.9l-3.3 2.8 2.5 4.2-.7 1.7 4-1.4-2.2-7.1zM186.2 300.1l-5.6-1.2-.5 2.9 1.9 1.7 3.4-1.6zM227.1 338.5l-1.7 6.4 4.9-2.1-.7-2.6zM237.2 274.7l.8 2 3.6-1.3 .5-3-4.6-.8zM146.5 447.7l.5 3.7 2.7-.7 .7-3.6-1-1.6zM228.3 354.7l-.5 1.2-2 1.6 1.4 2.6 3.3-.7 1.1-3.3zM275 270.3l4.2 1.5 2.3 .4-1.2-4.8-1.2 .4zM333.9 362.6l4.1 1.8 1.4-.4 2.9-3.1-4.8-3.3zM129.5 412l4 .5 2.3-.1 .3-2.9-2.3-2.6 0-.4zM259.2 265.3l-1.1 3.6 4.8 .3 1-3.5zM127 421.9l.2 2.4 4.1 2.8 2.3-1.6-3.4-5.1 .4-2.1zM210.5 153.6l-1.7-2.1 3.6-1.4-3.3-3.9-1.6 1.3-2.1 2.8-.1 .8zM236.2 297.7l-.5-3.2-3.2 1.6-3 1.9 3.9 1.2 1.3 .3zM340.1 338.1l.1 .3 .7-1.7-2-.2-.3 .6zM134.9 305.3l-3.5-2.1 .9 1-1.5 4.3 6.2 1.5zM246.3 255.3l-3.5-1.3 .1 3.4-1.5-.1 2.1 1.2 4.5-1.4zM290.3 264.2l-.7 4.1 1.5 .7 2.1-1.9 .9-2.3-1.1-1.4-.9-.4zM167.5 280.4l3.4-2.4-2.9-6.9-.7 1.3-2.7 1.7 1.5 5.1zM218.2 211.1l-2.5 1.1 6.2 2.1-.6-.4-1.5-5.2zM196.5 359.1l2.4 1.2 2.9-1.5-1.1-2.1-2.8-2.2-.7 1.8zM241.4 257.3l-1.1 3.3-1.2-.1 2.7 3.2 2.7-.4-1-4.8zM241.5 185.2l-3.9-.1-4.3 3.1-.6 .9 7.2 2.3 2.3-5.7zM178.4 268.4l2.8 .1 .1-2-1.5-2.5-3.5-.2 .5 2.9zM234.6 380.3l5.1-1.9 .2-1.7-.6 .7-2.2-1.9-2.8 4zM249 134l1.3 1.4 3.2-.2 0-.1-.5-1.1-2-4-1 1.2-1.8-.2zM233.2 428.4l1.2 .3-.4-3.5 .2-1.8-1 .7-2.4 1.8zM250.1 290.5l2.4-1 1.1-1-5.2-2.3-1 1.6zM243.9 459.3l.9 .4 3.7-1.6-1.1-2.3-.7-.5-3-.1zM253.2 263.6l-3.4 2.1 2 4 3.5-1.3 .8-3.7zM314.1 453.4l2.2 .4 .7-2.4-2.5-2.7-1.1 .9-1.1 2.6zM88.6 517.7l-.2 .3-1.4 2 2.1-.6zM208.5 239.4l-3.9-.7-.9 .5 1.3 4.7 .5-.1 1.4 2.1zM127 446.5l3.5-3-1.2-3-2-1.1-.9 1.1-2.3 3.8zM247.4 393.2l-2.1-.7-.4 .2-1.1 3.4 2.8 .3 1.4-3.7zM129.5 476.8l-1.6-4.2-3.5-1.7 2.2 6.4zM249.8 265.7l3.4-2.1-1.5-2.9-2.1-2.4-3.5 4.3 1.4 3.1zM291.9 455.1l-1.8 .6-1 2.3 1.9 2.2 2.4-2zM182.3 295.7l-1.3-3.3-1.5 1.4-1.3 3.3 3.8 .2zM221.9 240.3l-3.9-2.8-3 1.8 1.1-.2 .9 3.7 4.1-1.6zM219.3 375.6l-.4 2.3 2.7 2.6 2.9-1-3.5-3.6zM205.2 444.9l2.5-4.6-.4-.6-4.6 .5-1.4 1.5 .7 1.7zM237.5 281.7l-2.9-2.3-.5 4.4 3.6 2.7-.1-1.9zM175.8 441.3l-.4-.3-.6 0-5 3.5 4 1.8 1.9 .4-.9-1.5zM232.4 475.5l4.8-2.5-2.5-1.6-3.1 .5 .7 2.1zM198.7 370.4l.8 .7-.6 2.2 2.1 2 1.6-3.4zM241 292.8l.3 1.7 4.3 1.7 1.3-1.8-1.7-3.8zM122.2 515.9l-.2 .1-2.2 1-1.5 2.1-1.6 .6 3 3.2 1.3-3.2 3 .3 .1-.1zM212.3 486.2l-2.2 2.1 1.9 3.3 3.4-.6-1.1-3.8zM168.7 473.1l-4.1 1.7 .2 0 5.8 3.7 1-1 .7-3.9zM217.3 410.5l2.9-.9 .2-3.2-2.3-.6-2.5 3.8zM220.5 184.9l-.1-1.1-8.4 1.9 1.7 2 2.3 1.9zM213.8 297.8l.2 .6-1.3 2.9 1 3 1.9 .2 3.6-3.2zM231.1 464.8l-.3 2.1 1.2 1.1 2.8-1.8-1.1-1.4zM165.1 453l-1.5-.5-1.1 2.4-1 2.4 1.3 .9 5.6-2.1-.5-.1zM191.5 242.6l-4.4 2.2 1.6 2.6 1.5 .7 3.5-.8zM226.6 416.6l-1.4-2.2-2.2-1.1-2.1 2.4-.4 .6 2.2 2.3 2.9-.6zM197.5 354.8l-.3 1.5 .7-1.8 3.7-3.1-3.6-3.1-2.1 3.1zM220.1 155.4l-.9-1.3-6.3 3-.7 3.4 2.4 1 4.6-4.6zM169.1 455.5l3.5 1 .5-2.2 .1-3-.7 .1zM133.8 406.5l0 .4 2.7-1.9-1-4-5.7 1.9 .3 1.6zM270.8 425.5l-3-.4-.2 .9-.4 1.6 2.5 2.6 1.8-3.1zM136.9 534.4l3.7-2.1-.2-3-4.3-2.8-.4 5.2zM308.4 440.8l-1 .3 1.4 3.6 1.2 1.4 1.4-4.7 .3-.3zM150.2 281.9l-1.9 2.4 2.8 2.6 4-1.1-.2-3.8-1.9-1.7zM186.7 325.4l-4.5 2.8 1.9 1.2 4 1.3 1.6-2.8zM139.9 438.7l-1.1-2.6-4.9 .7 0 1.8 1.7 4.1 2-.3zM227.4 304.2l-1.9 .3-1 2.2 1 3.4 3.1-1.3 .4-1.1-.1-2.1zM149 409.6l3.9-1.4 0-3.3-3.5-3.8-2 5.8 .7 3.6zM243.5 201.8l-2.8 1.7 2.3 1.3 .6-1.3 2.4-1 .2-1.3-.3-.8zM236.3 428.5l.9 .8 .5-2.6-3.7-1.5 .4 3.5zM166.9 438l-1.6 4.8 1.3 1 2.2 .7 .6-.2-.1-5.6zM156.3 462.6l-.9-.1-1.5 .8 0 3.5 2.9 1.6 1.7-.7 1.9-1.9zM148.1 410.5l-.7-3.6-2.4-1.8-1.3 5.8 2.4 2.9zM298.8 409.1l2.2 2.9 2.4-4-4.3-.9-.9-.7zM109.4 506.3l4.8-2.8-1.1-2.8-1.1 .3-2 2.7-1.6-.6zM250.2 284.3l-1.8 1.9 5.2 2.3-.4-.9-2.3-3.6 1.3-1.1zM145 405.1l-1.1-.6-4.3 .9 .1 2.8 1.9 1.4 2.1 1.3zM274.5 437l-1.9-4-4 2.7 1.1 .6 1.6 2 3-1.1zM264.9 317.4l-1.6-1.5-2.1 .4 .8 2.1 2.4 .6zM297.6 393.8l2.3-1.3-.2-1.8 .1-.8-3.9 3.5zM241.3 346.8l-3 1.2 .6 .7 2.3 1.7-.3 .7 2.7 .4 .3-3zM346.4 392.9l1.1-1.3 .2-4.5-.3-1.2-2.9 4.9-.7-.4zM140.1 413l-4.1-.3 1.2 5.3 1.3 1.3 2.7-.4 1.2-2.7zM295.9 274.5l-.5-2-1.5 5 2.6 .6 1.8-1.6zM295.4 260l4.5-1.7-2.7-3.4-3.6-.6-.4 3zM290 283.2l-4.4-1.1-.9 .5 1.8 5.4 3.2-1.8zM282.6 445.2l-1.3-1.5-1.3-.3-.4 2.5-.8 2.1 1.6 .4 1.7-.6zM218.2 164l-5.3 4.6 4.3 3 3.8-2.7-2.5-4.2zM223 480.2l-1.1 .2 4.3 3.3 .8-1.2-.6-4.3zM182.8 307l-4.3 1.6-1.3 0 1.8 .8 2.2 .7 4.3-1.8-.2-.8zM168.7 314.2l-.2 .9 4 2-.8-1 1.7-2.8-.1-1.5-4.3-.3zM215.1 249.8l-3.1-.3-.6 .5 .6 3.9 4.1-1.2zM237.7 319.8l2.1 0 1.2-2.6-.6-1.3-1.6-.2-2.6 1.3-.2 .9zM195.6 200.2l-1.6-4.7-5 1.1-1.3 3.5 1.3 .9 2.8-1.7 3.2 .7 .5 .3zM201.3 453.3l-3.8 .5 2.2 5.2 .4 .5 .8-1 2.3-3.2zM300.7 365.8l3 2.3 1-.2-1.4-4.3-.6 .5-1 .9zM158.6 336.1l2.6-5.7-3.9-2.2-2.6 4.2 2.8 3.1zM205.1 159.2l1.3-.9 4.1-4.7-5.2-2.5-.3 2.7-1 2.3-.6 .6zM271.1 456.3l-1-1-4.2-1.2-.6 1.1 .6 2.5 3.5 .9zM144.1 456.3l-3.2 2.5 .7 4.9 .3 .3 6.2-3.5zM186.2 272.5l-1.9 0 .3 1.4-3.4 4.9 2.5-.4 3.6-1-.3-4.7zM338.5 298.2l-.4-3.7-1.7-1.1-2.1 3.4 .8 2.9 1.4-.9zM252.5 438.2l.8-.4 3.1-2.1-2.3-1.5-1.3-.5-.3 .1zM206.2 497.7l-1-3.4-3.7 2 1.2 1 .4 3.1zM177 426.7l-5.7-.3 .3 2.1 2.1 2.3 2.4-.6zM164.9 514.8l1-.7-1-2.8-4.4-1.7 0 2.7 .7 .4zM244.6 276.3l-1.5 2.4 1.9 2 3.1-.9 .9-.9zM264.7 284.9l-1.8 2 .3 2 4.8-.1 .4-2-3.5-1.8zM133.3 511.3l-1.6-2.8-.9-.2-.8 1.7-1.9 1.7-1.3 1.1 2.8 2.6 2.4-.2zM193.7 458.1l5 1.5 1-.6-2.2-5.2-.3 1.4zM178.1 401.1l-1.4-.5-2.4 3 2.9 1.7 2.1-2.1zM223 430.4l2.3 1.7 .8 1.1 2.6-3.4-5.2-1.1zM332.1 292.8l-.4 .5 2.6 .5 2.3-4.4-2.8-.2-1.5-.2zM244.2 349.5l3.6 1.4 2-3.7-1.2-.8-3.3-.4zM114.8 301.2l4.2 .1-1.9-8.8-.6-.3-2.5 1.8-2.6 2.2-1.2-.1zM222.9 371.8l.1 .7 2.3-1.7 .8-3.8 .2-.2-5.4-.5zM217.6 283l-3.4 2.9 1.1 .4 1.5 1.8 3.3-3.2-.5-.9zM200.4 306.5l.8 2.9 .6 1.1 2.1-1.4 2.1-3.8-3.6-1.7zM336.8 388.8l3.3 2.9 .7-4.4-1.8-1-2.9 .3-.6-.1zM185.2 360.1l4.2-.1 1-2.3-4-2.5-1.7 4.1zM341 396.9l-.3 .8 3.9 1.4-.7-3.8-.9-.6-4.1 1.6zM216.7 232.6l3.7 .5 1.7-3.9-3.3-2-1.9 2.5zM177 472l-.2-6.2-2.7 .3-1.3 0 .3 4.1 1.1 .5 0 1.2zM147.6 482.4l1.5-1.9 .1-4.1-.7-.6-3.7 1.9zM274.2 429.8l2.9 2.9 2.7-1-.8-3.2-3-.5zM281.5 272.2l-2.3-.4-.4 4.4 .5-.2 2.3 .8 1.7-2.3-1-1.6zM227.1 361l.1-.9-1.4-2.6-4.1 1.1 .8 3.4 1.6 .5zM237.7 202.5l.2-5.5 .2-.2-5 .3-1.5 2.3 3 3.6zM296.9 460.7l-1.9-.3 1.2 2.6 1.7-1zM205 243.9l-4.8 1.1-1.2 3.6 3.6 2.6 2.9-7.4zM232.5 309l-.9 2.2 2.5 1.9 3.2-1.1 0-.7-3.4-2.6zM225.3 424.3l-.6 2.2 3 .2 1.3-.7-.7-4.4-.2-1.3zM186.7 406.8l-1.1 0-.2-.4 .3 2.1 .1-.1 .5-.3 .5-.6zM148.5 269.8l-.7 5.7 4.8 .1 2.9-.2-2.2-3.8-2.9-3.2zM226.9 293.8l3.8-.9 .3-1.7-3-1.5-2.4-.4-.1 0zM230.1 160.4l-1.8 .1-6.2 1.6 2.2 7.1 2.2-.4 4-1.1zM228.7 299.1l-4.1 0-1.2 3.9 2.1 1.5 1.9-.3 1.4-4.5zM241.7 449.6l1.1-1.8-.8-3.9-2.6 1.5-1.1 .5 .5 3.9zM302.3 453.4l1 .4-1.7 1.9 3.7 2.2 2.2-1.1 .2-.1-.9-2.7-.7-.1zM201.6 293.5l.2-5.6-1.8-.1-2.5 .9-.1 3.2zM123.7 247.9l-10.2-1.3 2.6 9.8 8.4 .1 .6-4.6zM282.2 240.3l.8 .3 .4-1.2-2.2-1.5-2.3-.2 1.1 2.3-.6 1.5zM310 303.6l2.2-2.8-.9-.9-6.2 0 1.5 1.3 .9 1.9zM186.4 381.3l-1 0 1.4 3.3 4-.7-1-3.5-.8-1zM232.3 474l-.7-2.1-.2-1-2.7-1 .9 3.5zM265.5 136.1l-1.5-3.2-1.1-.2-6 1.7 7.5 3.6zM261.7 378.3l-4.2-.3-.4 1.2 .5-.3 2.5 4.2 3.3-3.7zM248.2 303.4l2.9 .8 0 .2 1.5-3.9-2.9-.9-2.1 1zM304.7 323.3l-3.3-1.6 .3 .3 .9 2.7 .3 1.9 2.4-1.7zM229.9 450.5l2.8 2.2 1.5-3-.8-1-4.1-.1 .2 3.3zM296.7 338.8l2.6-2.8-1.4-.6-3.8 1.2-.2 2.6zM130.8 308.5l1.5-4.3-8.2 1.7-1 .7 4.5 4.6zM221.2 291.6l-2.2-1.5-3 3.1 2.7 1.1-.7 1.2 4.3-1.2 .3-3.2zM110 434.4l2.8 1.6 3.2-3.8-1 .3-2.3 1.5-2.7 .4-.1 0zM244.3 388.3l.8 .8 1.4-1.6-1.3-2.6zM224.4 316.4l.3-.7-2.2-3.7-1.4 .8-.9 1.6 1 3.3zM146.1 371.3l1.4-2.6-4.1-1.1-.8 3.1 3.6 1.6zM170.9 408.9l-1.8 .1-1.8 2.5 .7 1.9 2.3-.7zM293.6 248l.7-.1 2.5-1.9 .2-1-3.1-1.7-1.5 1.6zM211.4 282.5l4.3-3.6 .2-3.2-2.8-.3-2.7 1.3 .4 3.1zM219.8 425.6l-1.8-1.1-4.1 3.2 .6-.1 3.9 3.9 .8-.3zM182.6 250.9l.2 .4 1.6 3.1 2.4 0 2.7-1.8-1.9-2.7zM204.5 362.5l1.4 2.3 2.8-.3 1.3-2-2.1-1.4zM225.3 270l-4.3-.7-2.4 0 3.5 5.2 .1-.3zM208.8 273.2l-2.1-2.9-2.1-.1-.3 3.6 4.6 .7zM212.7 224.4l-2.8-.7 .1 5.1 .2-.2 4-.4 .6-3.3zM163.8 421.5l1.8-2-1-1.2 .4-.1-5.9 1 2.5 3.3zM210.5 293l4.5-1.8-1.6-1.5-3.2-.8-1.2 2.6zM268.7 293.1l-1.5 2.5 4.2 1.6 2-4.7-.1-.7zM248.5 140.1l1.8-4.7-1.3-1.4-4.9 .7-.4 2.9-1.9 .9 5.2 2.2zM225.5 405.6l3.6-1.2-.2-2.6-3.8 .8zM181.6 282.8l3.2 .8-1.1-5.2-2.5 .4-2.2 .8zM164.3 482l-.5 .3 1.8 1.9 3.1-1.6 .2-2-4.5-3zM236.8 304.3l1.9-4.4-4-.4-1.3-.3-.5 4.3 3.7 .6zM193 442.1l2.3 3.6 3.6-1.2-1-3.4zM193.3 467.2l3.7 .3 1-2.8-3.3-2-1.5 2.1zM240.4 197.1l3.1 4.7 2.4-1.4-.7-2.1-3-.5-1.3-.9zM203.3 324.7l-.3-2-1 2.9 1.8 3.6 1.1-2.2zM251.4 427.4l2-1.9-2.4-4.1 .1 1-1.3 2.9 .7 2.2zM277.9 357.6l-3.1-1-2.7 2.2 .9 1.8 1.1 .2 3-1.8zM213.1 450.1l-.5-3.2-2.3-2.3-1.6 1.7-.5 4.3 2.4-.1zM139.2 458.4l-1.8-3.8-2.1 1-1.2-1.2-1 2.2 3.5 3.3zM191.9 456.6l-.9-1.9-4.4-.6 1.1 4.8zM236.5 206.6l0 1.7 .3 2.5 .7 .2 2-1.4 .2-1.1zM331.7 293.3l.4-.5-2.5-.8-1.2 2.9 .9 .6 2.6-.8zM251.6 380.2l-1.8-1.4-2.6-.2 .4 4.5 1.6 1 .8-.7zM149.7 450.7l-2.7 .7 1.2 1.4-1.8 3 3.7 1.1 2.3-5zM209.7 407.1l-.3 2.8 .3-.2 4.2-.5 1.4 .8-1.9-3.5zM167.5 294.2l1.3-.8 3.2-4.4-2.8-1.5-4.6 4.2zM211.8 366.8l-3.9 1.3 .4 3.5 3.5-.2-1.2-4zM286.8 133.4l8.2 1.3 0-.9-7-4.7zM116.8 422.8l2 .3 1.4 2.4 .5 1.2 2.3-1.4 .2-3.3-3.8 0zM207.5 284.6l1.6 1 3.3-2.9-1-.2-.6-2.7-3.3 1.3zM117.8 237.1l4.1 .2 5.2-2.8-1.6-.9-2.7-.1-2.8 .5-2.7-1.2zM147.1 388.4l1.4 1.4 1.9 2 2.9-1.3-3.4-3.2zM168.1 246.4l0-.8 .1-4.9-4.7-.9-2.1 4.7zM152.6 509.6l-.2 0-3 5.1 .8-.1 4.5 1.4 1-5zM328.6 310.9l-.1 5.3 1 .6 1.4-.3-.8-4.4zM242.3 322.8l-2.5-3-2.1 0-1 3 2.8 1.2 1.4-.3zM143.4 319.4l3.4 2.3 0-1.3 2.4-3.1-2.3-3.3-3.5 3.8zM193.7 310.6l7.5-1.2-.8-2.9-5.7-1.3zM219.1 375.9l2.2-4.5-5-1.8 .3 1.2 .3 .9zM195.7 347.5l.2-2.6-4.8-2.2-1.5 2.8 0 .7 3.7 1.5zM233.3 288.8l3.5 3.8 1.8-3.6-.6-2.6zM234.4 358.7l3 .2-.6-1.4-2.5-2.8-2.2 1.9zM154.9 484.8l-.1 2.2 1.4 3.7 1.7-.7 2.3-3.7-1-.9zM216.1 354.8l1.3 1 1-2.3-2.7-1.5-1.7 .6zM110.5 489.2l2.6-6.7-2.3-5.5-2.4 6.2-.4 3.3zM227.9 144.2l6.2 1.9 1.9-4.6-.3-4.2-.4 .1-6.6 5zM188.2 265.9l2-3.6-5.1-2.2-.3 1.3 .2 3.8 1.9 1.3zM333.7 343.4l2.3 .5 .2-1.5-.1 .3-.8-.9-2 .3zM200.1 336.4l.7 1.8 1.3-5.5 .3-.5-4.1 1.1zM223.5 249.3l-1.6-.2-6 4.3 1.8 1.5 5.3-1.5zM244.3 361.3l.1 2.1 1.6 1.1 2.4-1.6-.9-2.1zM242.6 309.5l-.5 1.4 3.7 1.7 1.7-.9-2.1-2.6-2.6-.6zM266.9 436.7l-.7 0-3.2 1.4-.5 1.6 1.5 1.4 2.8-.1zM227.1 361l2 1.4 1.7 .8 1.2-2.3-1.5-1.5-3.3 .7zM214.2 228.2l2.7 1.5 1.9-2.5-.8-1.2-3.2-1.1zM187.6 249.9l1.9 2.7 2.9-.4-2.2-4.1-1.5-.7zM232 441.6l-1.7-2.1-2.5 2.9 .1 2.4 3.3-1.9zM176.7 373.6l-1.4-.9-4.6 .5 3.2 4.4zM230.2 408.9l-1.8 2.9 2.3 2.3 2.5-2.2-.3-2.3zM177.8 246.1l-.5 .9-1.2 2.9 1.9 3.4 4.8-2-.2-.4 .8-2.1zM170.6 461.1l-3.1-.3-1.1 .8 1.6 3.5 2.2-.2zM216.3 369.6l2.1-.7-1.7-4.5-1.1-.1-3.9 3.6 4.9 2.9zM113.4 338.9l3.3 2.8 4.5-3.2-1.6-8.2zM298.1 272.1l1.3-2.9-1.5-1-4.2 2.6 .4 1.2 1.3 .5 .5 2zM180.5 373.1l-.7 1.2 6.2-2.3-.4-.2-4.2-1.8-.5 1.9zM138 311.5l3.3-2.1 .8-6.5-7.2 2.4 2.1 4.7-.6 1.8zM255 410.1l2.1-.8-.8-1.6-.8-3.1-3.3 3.7 .2 .9zM213.8 352.7l-.6-4.1-5.3 1.5 4.4 3 .7-1.5zM201 375.3l.5 1 2.2-.3 2.5-.6-.8-1.8-2.8-1.8zM135.7 242.2l-2.9-.7-7.3 3.7 5.6 9.8-.5-1 4.6-2.9z"/><path id="g2_0" d="M135.7 536.8l2.4-.5 2.9-1.3 1.3-.5-1.7-2.2-3.7 2.1zM116.7 498.6l-2 1.6-1.6 .5 1.1 2.8 3.9 2.6 2.1-2.2 .1-1.4zM95.9 271.4l12.1 2.8 2.7-2.1-3.6-6.2-.2-.1-2.9 .2-2.5 1.5-2.9-.3-1.3 .4zM240.6 388l.2 .9 3.5-.6 1.2-4.8-2.6-.8-1.7 3.1zM143.7 410.9l-2.1-1.3-1.5 3.4 2.3 3.2 2.8-1.6 .9-.8zM254.3 294.1l2.4 2 2.3-1.7-.1-2.4-2.7-1.2-1.4 1.5zM241.2 385.8l1.7-3.1 .2-.8-3.2-1.4-.9 2.2zM113.1 482.5l-2.6 6.7 2.8-.1 3.9 .1 2.5-3.7-.6-1.8zM217.1 190.2l-1.1-.6-2.3-1.9-3.7 3-.1 1.9 5.4 1.9zM159.3 248.2l2.5 3.1-.5-6.8-.2 .4-3.5-2.2-1.2 2.5zM115.4 276.2l-2-3.3-2.7-.8-2.7 2.1-.3 8.3 1.1 .4 1.9-2.1 2.3-.8 2.5-.7zM214.6 161.5l3.6 2.5 .3 .7 3.3-2.8-2.6-5zM196 313.9l5.6-.5 .2-2.9-.6-1.1-7.2 1.1zM135.3 455.6l2.1-1 .9-2.4-2.5-3.6-.8 3.6zM125.7 455.8l-2.3-1.3-3.9 2.3 1.1 2.9-.2 .6 3.8-1.2zM99.2 237l-.5-.1-2.7 1.1-.6 3.5-1 3.5-.7 2.4 .1 .9 4.7 .1 1-1.4 .5-1zM142.1 330.9l2.2-3.4 1-1.8-4.6-.3-4.3 4.1 1.9 1.9zM183.4 248.8l-.8 2.1 5-1 1.1-2.5-1.6-2.6-.7-.8-2.8-.5zM277.5 319.8l3.6-1 .3-.1-.1-2.4-5.6-1.3 .7 .8-1.1 3.4zM165.3 431.7l.5 4.4 1.8 1.6 2.6-4.2-3.7-1.7zM225 332.6l.5-3.5-1.5-.6-2.2 1.4 3.1 2.7zM168.2 378.1l-1.3-1.2-2 1.6-.4 2.3 3.7 2.5 1.6 0 2.2-3.5zM292.2 310.4l-.7 4.6-1.2 2 2.2 1.2 5.5-2 .9-1.3-3.2-2.8zM102.6 487.7l-1.4-2.9-3.3 .2-1.8 4.1 1.8 3.4zM191.5 274.7l0 1.1 6.3-1-1.2-1.6-3.5-2.1zM297.2 455l.1 1 2.3 1.4 1.2-.3 .8-1.4 1.7-1.9-4.3-.6zM289.4 270.7l1 .9 3.7 .4-.4-1.2-.5-3.7-2.1 1.9zM142.1 330.9l1.7 3.7 1.1-.5 2.4-5-.1-1.3-2.9-.3zM277.8 303.8l.3-2.3 1.9-1.9-1.5-2.7-2.7-.1-.4 .7-.7 2.9zM174.4 483.2l1.4 2.1 2.1-.5 1.4-3.5-5.3-1.7zM212 159.8l.2 .7 .7-3.4-2.5-3.4-4 4.6 1.8 1.6zM145.2 414.6l2.2 1 5.2-1.6-3.6-4.4-.9 .9-2 3.3zM87.7 464.3l-2.7-5.5-3.9 4.4 0 2.9 .9-.1 2.7-.1 2.1 .8zM220.5 318.5l-3.8-.1-.7 4.7 .3-.9 3.5 1.3 .8-.8zM172.4 256.4l-2.1 4 1.4 2 2.7-.1 2-3.1-1.1-3.1-2.3 .5zM253.3 437.8l1.6 3 4.2-1-.2-3.9-2.5-.2zM133.8 277.6l2.8 .6 1.3-.5-4.9-4.3-.2-2.4-2.5 3.1-.7 3.3zM224 328.5l1.5 .6 2.5-.4 2.6-3.5-2.4-.1-3.5 1.1zM144.1 346l1-2.9-2.5-1.2-4.5 1.4-.3 .6 1.4 2.8 1 0 .4 .7zM144.6 441.9l-1.8-1.2-2.9-2-2.3 3.7 3.8 3.2zM249.2 384.1l-1.6-1-2.6 1.4 1.5 3 1.9 0 2.2-.3zM274.6 248.5l-2.1 1.5-.7 .3 4.2 2.8 2.8-1.5-.3-2zM215 316.4l.8-1-.1-5.8-1.1 1.9-3.4-2.4-.3 5.9 .5 1.4zM108.5 507.8l.9-1.5-1-3.2-2.4-.9-2 2.8zM149.4 445.5l1 1.6 2.7-.2 1.8-3.5-1.7-1.2-4 .4zM214.1 237l.9 2.3 3-1.8 1.6-3.2 .8-1.2-3.7-.5-1.1 1.5zM168 429.7l3.6-1.2-.3-2.1-.9-1.2-.6 0-2.5 .6-2.2 .8zM319.8 387.1l-.7 1.3 3.4-.6 1.9-2.9-.2-2.7-1.2 .3-4.2 2.2zM118 265.2l6.9-3.9-.4-4.8-8.4-.1-2.8 4.9zM216.1 252.7l-4.1 1.2-1.2 1.4 .1 2.8 3.3 .2 4.6-1.9-1.1-1.5-1.8-1.5zM189.3 285.7l-2.1-1.1-2.6 .4-1 5.2 1 1.4 3.9-1.6zM158.3 426.4l-1.6 1.8 .4 3 1.9-.2 3.4 0 .6-5-1.8 0zM174 421.9l-3.6 3.3 .9 1.2 5.7 .3 .1-2.6-1.6-.6zM167.1 266.1l.4-2.8-4.9-.8-4.1 3.1 1.7-.5 2.4 3.6 1.4 2.1zM173.2 251.8l-.2 4.8 2.3-.5 3.4-2-.7-.8-1.9-3.4zM242.5 170.8l-6.1-1.3-2.3 2.4 3 3.3 6.7 1.8-1.3-3.3zM221.2 190.8l.6 .4 2.1-3.7-3.4-2.6-4.5 4.7 1.1 .6zM89.3 455l1.7 .1 0-3.1-1-.6-3-1.4-1.4 2.6zM218.1 403.2l2.8 .1 1.9-.9-1.6-3.5-.3 0-3.1 1.9zM180.9 444l-2.1-3.6-3 .9-1 3.9 5.3 .5zM185.5 191l1.3-.9 1.4-5.1-.7 0-2.6 1-2.5 1.2-2 1.3zM79.8 490.2l3.6 5.9 2.7-.8 1-4.5-1.8-2.2-1.6-.1zM229 426l1.8-.1 2.4-1.8-4.9-2.5zM205.4 373.6l.8 1.8 .8-.2 5.6-1-.1-.7 1.5-.5-2.2-1.6-3.5 .2zM241.8 366l.1-.1-1.8-2.1-2.9 .2-.6 .4-.9 1.7 2.6 2.7 1.2-.8zM227.9 144.2l.9-1.9-8.1 .6-.9 .1 3.9 3.9 .3 1.9zM226.3 366.8l-2.2-4.3-1.6-.5-2.8 3.1 .7 .5 .5 .7zM220.8 196.6l.4 0 4-1.5-2-3-1.4-.9-.6-.4zM236.5 208.3l-4.3 1.4-.4 .9 2.9-.3 2.1 .5zM234.1 146.1l-6.2-1.9-3.9 4.6 4.8 3.3 4.8-4.7zM323.3 275.9l.3 .7 2.1 .3 1-4.1-2.3-.9zM215.4 262.5l-5.1 1.1-1.2 3.7 1.7 .7 1.3 1.5 2.3-1.2-.1-4.8zM175.7 397.4l1 3.2 1.4 .5 2.4-2.3-1-4-3.4 .2-.4 2.6zM228.3 421.6l4.9 2.5 1.3-1-2-4.6-4.3 2.6zM257.9 135l-1.5 0 .6 1.4zM185 265.2l-.2-3.8-2.6-1.3-3.3 .4 .9 3.5 1.5 2.5zM227.6 254.3l-.7-4.5-3.4-.5-.5 4.1 2.3 2.4 2.1 0zM144.3 327.5l2.9 .3 2.4-2.8 .1-.9-2.9-3.7 0 1.3-1.5 4zM225.1 396.6l1.3 .5 1.3-.1 1.4-2.6-.5-1.3-3.9 .3zM130.6 254l.5 1-6-3.1-.6 4.6 .4 4.8 1.5 .8 7.6-3.5zM264.6 392.3l-1.7-.9-2.9 1.1 2.9 3.2 .7-.1 1.3-2.8zM306.3 386.4l-.9 2.4-1.1 2.6 2.3 .3 1.2 1.3 1.8-4.4-.4 .5-.3-.5zM118.1 506.1l-.4 2.5 .7-.5 2.7-.5 2.9 .4 2.8-.3 .6-.3-.1-2.4-7.1-1.1zM161.9 280.9l4.2-1.7-1.5-5.1-3.6-.7-2.1 4.7 .6 3.3zM117.1 332.6l8.2-3.7-.1-4.1-5.8 .1-4-.7-.4 5zM143.8 393.6l-.7-3.4-1.4-2.3-3.4 4 1.1 3.1 1.3-.1zM290.3 339.3l.3 3.5 .1 1.1 3.1-1.8-.4-2.8zM168.2 240.7l-.1 4.9 5-3.4-1.1-2.6-2-.6-.5 0zM98.5 248.4l-4.7-.1 .1 1.6-.1 2.5-.6 3.2 1.8 2.8 2 1 1-2.4 .5-3.5-.5-3.5 .6-1.3zM179.8 264l-.9-3.5-2.5-1.3-2 3.1 1.9 1.5zM224.1 450.8l-1.1 .1-.7-1.2-1.4-1.5-1.6 1.2 .1 4.6 2.5-1.1zM140.6 385.7l3-1.1-1.8-3.7-3-1.1-1.2 2.4 .6 .9-.1 1.5zM120.9 493.1l-3.7-3.9-3.9-.1-.5 6.8 1.2 .1 2.5-1.3 2.3-2 2 .5zM173.2 245.7l-2.6 1.9 1.3 2 1.3 2.2 2.9-1.9 1.2-2.9zM114.2 239.6l3.6-2.5-.5-4.3-.7-.3-3.6 .5-2.3 1.4-.2 .6zM205.5 265.5l.6-3.8-5.6 .6 1.4 4.9 2.3 .7zM123.6 415.3l1.2 3.8 2.2 2.8 3.6-3.6-4.1-5.2zM177.8 246.1l5.6 2.7 .2-5.3-3.3-2.4-.4-.2zM328.7 438.2l3.1-.9-1.6-3.4-2.5 1.1-1.5 1.3 .5 .4 1.7 2.3zM313.8 272.7l.1 1.3 2.1 2.3 2.1-1.2-1.7-4.2zM210.4 276.7l2.7-1.3-.2-1.9-1.1-1-3 .7 .1 1.3-.7 1.3zM180.9 436.5l-.3 1.6 1.2 .3 1.5-1.5 .6-4.4-3.9 0zM250.1 277.5l-.8-3.2-2.8-1-3.1 3 1.2 0 4.8 2.8zM323.9 272.2l2.3-5.3-.4-.1-2.9-2.1-1.1 3.3-.6 2.1zM185.8 293.7l-3.5 2-.3 1.6-1.4 1.6 5.6 1.2 .5-2.2 1.5-2zM233 250.4l0 1.2 4.6 2.7 1.9-2.7 .7-2.4zM161.2 426l1.8 0 2.1 .6 2.2-.8-3.5-4.3-2.2 1zM204.7 183.8l-.8-1.7-1.7-1.9-3.6-.5-2.7 4 5.4 2.2 .9 1.1zM216.5 418l1.9-1.9-2.6-2.6-2.3 .3-1 3.3zM214.5 173.4l-.7 1.5-4.9 3.9 1.5 1.9 5.1-.8 1.5-4.5zM231.2 206l3.4-3-3-3.6-2.2 .7 .4 5zM105.6 247.5l1.1-10.7-2.7 1.2-2.7-.4-2.1-.6 .8 9 2-.6 2 1.6 0 .1zM207.9 361.1l2.1 1.4 2.4-1.5-.1-2.4-4.7-.6zM155.7 457.2l-1.3 .3-.8 .6 1.8 4.4 .9 .1 2.2-2.6zM237.2 326.4l-.3 0-2.3 3.2 2.1 .9 1.6 1.3 1.9-1.4zM132.5 395.3l6.9-.3-1.1-3.1-2-1.4 0 .5-2.1 1.5-2.2 1.5-.7 1.1zM117.1 529.7l-1.1 .3-1.4 2.1-1.6 1.9 2.5 0 2 0zM265 314.3l-1.7 1.6 1.6 1.5 3.1 .9 .5-2 1.5-1.5zM100 512.7l4.2-1.7-2-4.7-.5 .4-2.4 1.6-1.6 1.2zM219.2 154.1l.6-1.4-5-4.5-2.4 1.9-3.6 1.4 4.1 5.6zM304.3 253.3l2.4-1.3-2.1-4.5-2.3-.2-1.3 4.9zM124.5 409.6l-1.2 5.5 .3 .2 2.9-2.2 3.1-1.3-1.8-2.6zM196.4 266.6l3.6 2.6 1.9-2-1.4-4.6-3.6 1.3zM194.3 315.5l-3.5-.9-1.6 1.3 1.8 3.3 1.8 1.3 2.3-3.9zM90.7 491.2l-.6 2.5 5.9 2.2 3.3-.8-3.2-6-1.7-1.7zM121.9 237.3l-4.1-.2-3.6 2.5-5.1 5.5 4.4 1.5 10.2 1.3-.2-4zM212.1 269.5l-.3 3 1.1 1 3.5-1.8-.3-1-1.7-2.4zM257.2 276.6l1.8 1.4 3-2.6 .9-1.2-1-1.8-3-.2-1.8 2zM115.5 418.2l-3.4-1.7-2.5 4.4 2.9 .3 2.6 1.2zM156.6 398.6l1.6 4.8 2.1-.1-.8 1.1 3.4-3.1 .5-1.7-2.5-2.8-2.4 .3zM242.9 480l-1 2.2 1.2 3.3 1.9-1.3 2.9-2.9zM248 257.1l-4.5 1.4 1 4.8 1.6-.7 3.2-4zM178.7 254.1l-3.4 2 1.1 3.1 2.5 1.3 3.3-.4-1-4.1zM339.7 340.1l.2-.2-.4-1.1-.6-.2-.4 1.3 .1 .3zM173.7 430.8l-2.1-2.3-3.6 1.2-1.5 2.1 3.7 1.7 2.7 1.4zM204.6 221.4l3.9 1.2 3.1-4-2.7-3-.3 .3-2.6 1.6-2.5 0zM221.8 329.9l.3 .7-3.4 1.1 2.2 3.8 1 .3 3-3.2zM300 416.6l-1.2-2.1-.5-.5-1.7 .6-.2 2.6zM188.7 510.2l0 1.1 .2 4.5 1.9-.7 1.7-1.1zM192.1 291.9l-2.2 4.7 2 .8 4-1.6-1.3-3zM98.6 248.7l.9-1.7-1 1.4zM232.3 257.5l-.8 2.2-.7-.3-.1 3.6 4 .8 2.1-5.1-.5-1.2zM270.6 259.6l-.7-1-1.1-2-4.3 1.8 .3 2.3 3.5 .7 .7 .6zM236.3 245.2l-1.8-2.9-3.6-.6-.2 6 1.4 1.7zM280.2 253l.3 3.9 1.6-.9 1.4 0 1.7-1.9-1.8-2.1zM225.2 195.1l1.7 .8 3.1-2.1-2.7-3.5-4.1 1.8zM195.9 241.6l-.6 4.8 2.6 2.9 1.1-.7 1.2-3.6-1.5-1.7zM139.6 514.8l1.7 2.2 4.4 .9 2.8-2.6-2.8-2.8-6 1.7zM229.7 175.9l1-3.3-.9-.2-5.2 3.1 .6 2.6 4.8 1.1zM193.3 467.2l-1.1 2.3 3.4 4 1.7-3 0-2.5-.3-.5zM140.7 325.4l4.6 .3 1.5-4-3.4-2.3-3.1 4zM237 455.3l.4-.8-5 .7 .2 .2 2.5 3.5 2.1-.5zM210.5 293l-1.5-1.5-3.8 2 1.9 3.1 2 1.2 2.5-.6zM162.8 436.1l-5.9 1.2 .9 2.8 3.9 1 1-.8zM274.6 448l-2.9 4.1-.1 .7 4.6 1.6 .9-2.8-.2-.5zM211.8 371.4l2.2 1.6 2.9-1.3-.3-.9-4.9-2.9-1.1-.5zM211 338.5l-2.1-.7 .1 3 1.8 2.2 1.1-1.2 1.2-.8zM108 274.2l-12.1-2.8-1.1 4.4 2.8-.6 2.4 1.8 2.8 .7 .6 3.4 2.6 .9 1.7 .5zM315.3 385.6l4.5 1.5-1-2.4-1.3-2.4-2-.2zM107.1 488.2l-4.5-.5-5.8 5.9 6.3 3 3.3-1.4zM206.7 270.3l2.1 2.9 3-.7 .3-3-1.3-1.5zM246.4 444.5l-.7-2.4-1.3 .2-2.4 1.6 .8 3.9 1.4-1.5zM118.1 506.1l-3.9-2.6-4.8 2.8-.9 1.5 .7 0 4.4 3.4 2.4-1.2 1.7-1.4zM197.8 274.8l-6.3 1-.5 2.8 .1 2 4.1-.1 1.8-4.1zM227.1 142.4l-1-4.8-2.1 1.2-2.5 .8-1.8 .9 1 2.4zM264.8 367.9l-.1-.6-2.4 3.1 1.2 2.4-.5-1.4 1.8-.3zM122.6 532.6l-.6 .9 2 1.5 3.1-.7 1.5-.7-2.9-2.2zM245.1 189.9l2.7 .6 2.2-1.7 1.9 .2-1.4-2.7-4.6-.8-1.1 .7zM223.8 228.5l.3 3.9 3.3-1.5-2.8-4zM228.3 272.3l5.8-3-.3-1.3-2.6-1.8-3 2.3-.6 1.9zM191 319.2l-1.8-3.3-3.6 1.5-.5 2 1.6 3.1 2.1-.8zM333.5 401.4l1.1-1.1 1.3-1.6-1.5-1.9 0-.7-4.2 3.4 2 2.5zM215.8 194.2l5 2.4 .4-5.8-4.1-.6-1.8 4.3zM205.8 163.6l-4.6-.7-.4 1-2 4.1 3.4 2.4 5-3.8zM126.5 413.1l4.1 5.2-.4 2.1 2.6-.8 .7-7.1-4-.5 .1-.2zM83.7 488.5l1.6 .1 4.2-2.5-2.3-3.7-.3 .6-2.9 0-.9 .1zM245.8 339.2l2.7 1.3 .7-3.6-1.4-1.1-2 3.2zM316 458.1l1.5 1.1 2.7-1.3-.2-.3-2.5-1.1zM106 465.2l-1.3 .2-1.5 1.1 .4 2 2.4 2.5-.7 .7 2.3 0zM126.9 461.7l-2.7-2.6-3.8 1.2 2.9 6.4zM155.8 423.2l2.8-4-1.6-1.1-3-.5-2.4 3 .1 .2zM174.3 341.9l-3.8-1.1-.6 1.7 3.1 4.6 .6-.8 1.6-2zM342.1 336.6l.1 .5 1.4 1.2 .9-1.2-1.7-1.2zM225.6 238.8l-1.4-2.6-.8-.3-2 4.4 4 1.4zM159.8 387.2l4.1 .5 .3-3.5-2.7-1.7-2 2.6zM168 271.1l1.7-.9-1.6-1.5-1-2.6-3.1 4.7 3.3 1.6zM260.2 389.3l-1.7-1.3-1.7 .9 .9 4.1 .9 1.4 1.4-2.3zM244.8 284.5l-1-.7-1.5-.2-2.7 1.7 1.5 3.3 1.5-.3 2-2.6zM214.6 478l2.4 .6 2.9-.6 .3-3-1.6-1.5-.3-1.2-2.8 4.1zM174.5 241.7l-1.3 4 4.1 1.3 .5-.9 2.1-5.2-1-.4zM237.5 178l-3.4-1.3-4.4-.8 .3 3.3 .3 2.8 4.6 1.4zM252.8 433.7l-1.4-.3-2.2-1.9-1.9 1.9 .9 1.7 1.5 .4 2.8-1.7zM248.3 358.8l-.3 1.8 2.8-.8 2.6-1.4-.9-.8-.9-1zM210.5 426l2.6 .3 .8-3.6-1.3-1zM333.6 346.7l1.4 3 2.4-2.8-1.5-1.5zM225.6 187.1l1-4-1.8-4.4-4.2 1.2-1.5 3.7 1.3 .2 .1 1.1 3.4 2.6zM197.4 389.4l-2.3 4.9 1.2 1.5 3.8 .2-.7-.4 .8-3zM327.8 444.8l2.5-.6-.3-1.2 .7-1.4-2.3-3.2-2.1 2.6zM296.4 364.9l1.8-.9 .6-3.5-2-.2-1.4 .1 .2 3.9zM226.9 195.9l-1.7-.8-4 1.5-1.9 1.8 4.8 3.1 3.5-1.9zM176.3 263.8l-1.9-1.5-2.7 .1-.7 3.2 2.9 2.2 2.9-1.1zM143.5 265.4l4.7-2.5-.1-1.7-5.2-2.8-2.1 1.2zM83.4 496.1l-3.6-5.9-3.4 .2 1.6 .3 2 2.3-2 3 3.5 .5 1.1 1.1zM87.1 490.8l-1 4.5 2.6 2.7 1.4-4.3 .6-2.5zM100.7 512.8l-.7-.1-2.3-3.2-.7 .5-2.2 2.1-2.1 1.4 2.5 1.7zM158.5 397.1l2.4-.3 .3-.6-.5-4.1-2.1-1.8-4.2 1.2zM209.1 167.8l.5-.3 2.4-7.7-3.8 .1-2.4 3.7 1.4 3zM178.2 302.8l-1.6-1.8-4.9-1-.3 2.6 2.5 1.9 4.7-1.7zM269.3 368.1l2.1-3.3-1-.3-4.2-1.6 .2 2.1 1.2 3.1-.4 0zM233 251.6l-1.1 .9 .4 5 4 0 2.6-3-1.3-.2zM212.4 388.2l3.8 .4-2.1-2.6-2-1.5-.5-.2zM200.8 163.9l.4-1 3.9-3.7-1.7-2.5-1.2 1.3-1.9 1.8-.3 2.7-.3 .4zM140.5 337.4l-2.4 2.3-1.2-.6 1.2 4.2 4.5-1.4 1.8-1.3zM136.9 534.4l-1.2-2.7-2.9-.9-3 2.3 .2-.1 3 3 2 1 .7-.2zM292.2 383.9l-4.2 1.3-.7 1.2 1.5 2.1 3-3 .4 0zM231.2 401.3l-.6 .3 3.3 .1 1-2-1.6-2.9zM239.2 417.3l-2.4-.3 .6 3.4-.4 1.2 3.5-2.5zM238.3 331.8l2.3 1.4 1.8-.6-1.3-3.3-.9 1.1zM250.6 317.8l-2-1.6 .3 1.1-.5 2.2 1 2.6 2-1.6zM173 288.9l1.6 4 4.9 .9 1.5-1.4-1.1-2.9-4.6-1.3zM287.2 230.7l-2.3 5.4 1.2-.5 4.3-.6 .4-.3-.9-2.5zM160.8 254.5l-1.8 1 2 2.7 1.3 2.3 2.7-2.5 1.6-3.8zM122.6 532.6l-4-3.4-1.5 .5 .4 4.3 .5 0 3.3-1.1 .7 .6zM239.1 260.5l1.2 .1-3.5-1.9-2.1 5.1 2.2-1.9zM105.3 510.5l-1.1 .5-4.2 1.7 .7 .1 .5 3.6 1.3-.8 2.6-1.2 1.5-.2zM217 242.8l-.9-3.7-3.4 4.1-.5 1.3 4.2 1.6zM226.6 183.1l-1 4 4.7 .9 .1-.6 1.4-4.5zM276.1 124l0 1.9 5.4 1.8 1.1-1.4-2.6-1.3-1.3-2.7zM97.3 456.5l0-.8 3.8-3.1-2.7-2.9-.4 1.3-2.7 .5-2.1 1.4zM318.5 440.4l-1.4 3.4 3.8 2 .6-.8 .6-2.3zM239.5 251.6l-1.9 2.7 1.3 .2 4 2.9-.1-3.4-.7-1.5zM167.3 500.7l2.1-3.8-2.9-3.4-3.3 2.4-.1 3.6zM286.1 262.6l-.3 4.3 3.8 1.4 .7-4.1-2.8-.8zM173.1 242.2l-5 3.4 0 .8 1 .4 1.5 .8 2.6-1.9 1.3-4zM122.4 408.3l0 .1-1.9 2.1-2.5 1.5-1.3 .2 .3 .6 6.3 2.3 1.2-5.5zM121.2 276.9l8.1 1.5 1-4.3-6.9-4 .6 5.3zM265.7 322.4l.3 .5 2.6 .7 1.9-.6 .4-1.4-2.3-3.7zM212.4 150.1l2.4-1.9 1.3-.1-2.2-2.8-.7 1.1-3.5-.7-.6 .5zM96.1 489.1l1.8-4.1-2.4-3.2-4.7 3.6 3.6 2zM154.7 476.6l2.7-.4-1-3.6-5.6-2.9 .8 5z"/><path id="g3_0" d="M100.7 512.8l-5.5 2.4 .6 4.1 2.2-.5 2-1.8 1.2-.6zM162.7 436.6l3.1-.5-.5-4.4-2.9-.7-3.4 0 .8 2.2zM224.3 169.2l-4 1.4 2.1 3.4 2.2 1.5 5.2-3.1-3.3-3.6zM178.4 268.4l-1.6-1.7-2.9 1.1 .2 3.9-.3 .8 3 1.5zM134.8 321.2l5.5 2.2 3.1-4 0-1.6-3.2-3.2zM225.6 277.6l3.4-2.5-.7-2.8-.7-1.9-2.3-.4-3.1 4.2zM155.2 522.6l.2-3.3-4.2-1.1-2.4 5.8-.4 .6 1.6 .6 .4 1.5zM208.7 364.5l3.1 2.3-1.2 .6 1.1 .5 3.9-3.6-1.6-3.2-1.6-.1-2.4 1.5zM132 325.2l-1.9-.8-4.9 .4 .1 4.1 0 1 6.2 1.2 3.8-4.7zM238.6 289l-1.8 3.6 .9-.1 3.1 1.8 .5 .2-.3-1.7-.3-4.7zM134 258.6l-7.6 3.5 4.1 4.1 .2 2.5 5-5.4 .5-4.4zM225.5 405.6l-.5-3.6-2.2 .4-1.9 .9 1.3 2.9 2.6 1.5zM190.4 357.7l-1 2.3 .1 3.1 4.9 1.4-1.1-4.7-1.8-1.8zM173.4 313.3l4.7-.6 .9-3.3-1.8-.8-4.2-.6 .3 3.8zM242.9 257.4l-4-2.9-2.6 3 .5 1.2 3.5 1.9 1.1-3.3zM90.8 485.4l4.7-3.6 .6-3.6-.3-1-.3 .2-2.6 1.2-2.9 .4-1.7 1.7-1.1 1.7 2.3 3.7zM121 267.3l-3-2.1-4.7-3.9-5 3.6-.7 .9-.4 0-.1 .1 3.6 6.2 2.7 .8zM202.4 303.6l3.6 1.7 1.9 .3-.2-3 1.9 .3-6.2-3-.7 .6zM173.1 242.2l1.4-.5 4.4-1.2-.9-.5-2.7-.2-2.7 0-.6-.2zM234.1 283.8l-1.1-.6-2.3 2.8 2.6 3 0-.2 4.7-2.4-.3 .1zM194.6 292.8l1.3 3 3.1 1.3 2.4-2.2 1.2-1.7-1 .3-4.2-1.6zM79.8 490.2l3.9-1.7-.6-5.4-2.4 .3-1.1 3.3-2.6 1.3-2 2 1.4 .4zM122.6 532.6l3.1-1.2 0-4.7 0-.3-.2 .3-3.5 .3-2.7 2-.7 .2zM247.6 300.6l2.1-1-.9-1.3-3.2-1.4-.2 1.4zM231.7 416.1l-5.1 .5-1 1.4 2.3 3.3 4.6-2.8-.3-1.2zM219.4 207.6l-.3-2.2 1.2-1.4-5 1.4-1 1.4 3.9 4.3 1.6-2.4zM289.2 273.5l1.2-1.9-1-.9-3.6-.8-3.5 3 1 1.6 2.9 .2zM229.7 238.2l.6-3.2-5.5-.3-.6 1.5 1.4 2.6 6.4-.1zM149.9 363.6l5-2.5-.3-3.5-4.6 1.2-1 1.5zM185.6 317.4l-.5-3.1-3-.1-2.2-.4 1.9 6.2 3.3-.6zM120.3 502.5l-.1 1.4 7.1 1.1 2.4-3.6-2.5-3.4-3.4-.6zM227.3 190.3l3-2.3-4.7-.9-1.7 .4-2.1 3.7 1.4 .9zM162.1 305.4l-1.4 2.3 1.7 1.4 3.1 0 1.2-2.7zM175.5 436.5l-2.3-1.5-2 2.8 3.6 3.2 .6 0zM110.4 312.3l6.4-1.6-2.3-8.7-7 1 1.1 2 1.4 3-.8 .6zM225.5 289.3l.1 0-.9-3.3-2.5 1-1 4.6 1.4-.5zM169.7 270.2l4.4 1.5-.2-3.9-2.9-2.2-2.9 3.1zM242.3 267.3l1.8 4 2 .3-.1-1.2-.2-3.2z"/><path id="g4_0" d="M88.7 498l-2.6-2.7-2.7 .8-.8 1.5 1.4 1.4 2.2 1.2 1.9 2.1 .5 0zM224.6 175.5l-2.2-1.5-4.1 3.1 2.3 2.8 4.2-1.2 .4-.6zM169.8 425.2l-1.7-4-2.5-1.7-1.8 2 3.5 4.3z"/><path id="isl" d="M331.0 336.0L333.0 333.5L337.0 332.5L342.0 332.5L345.0 333.0L346.0 336.0L344.0 338.5L342.5 340.0L344.0 342.0L347.0 344.0L348.5 346.5L348.0 349.0L345.5 349.5L343.0 347.0L340.5 346.0L338.0 345.0L334.0 344.0L331.5 341.0L330.0 338.5zM193.0 488.0L195.0 486.5L199.0 486.0L203.0 487.0L204.5 489.0L203.0 491.0L199.5 492.0L196.0 491.5L194.0 490.5zM190.2 408.8L189.4 410.2L187.6 410.8L185.8 410.2L185.0 408.8L185.8 407.4L187.6 406.8L189.4 407.4zM164.4 346.8L163.9 347.7L162.6 348.1L161.3 347.7L160.8 346.8L161.3 345.9L162.6 345.5L163.9 345.9zM286.5 454.8L285.4 455.8L283.5 455.7L281.9 454.7L281.5 453.2L282.6 452.2L284.5 452.3L286.1 453.3zM214.5 131.6L213.8 131.9L212.7 131.6L211.8 131.0L211.5 130.4L212.2 130.1L213.3 130.4L214.2 131.0zM276.4 113.0L276.2 113.4L275.8 113.6L275.4 113.4L275.2 113.0L275.4 112.6L275.8 112.4L276.2 112.6zM194.6 162.0L194.1 162.9L193.0 163.3L191.9 162.9L191.4 162.0L191.9 161.1L193.0 160.7L194.1 161.1zM117.6 362.3L116.5 362.5L114.1 361.8L112.0 360.6L111.4 359.7L112.5 359.5L114.9 360.2L117.0 361.4zM124.0 365.6L123.3 366.0L122.2 365.7L121.2 365.1L121.0 364.4L121.7 364.0L122.8 364.3L123.8 364.9zM128.1 367.9L127.6 368.3L126.8 368.3L126.0 367.8L125.9 367.1L126.4 366.7L127.2 366.7L128.0 367.2zM131.2 368.5L131.0 368.9L130.5 369.1L130.0 368.9L129.8 368.5L130.0 368.1L130.5 367.9L131.0 368.1zM103.8 290.0L103.3 290.7L102.0 291.0L100.7 290.7L100.2 290.0L100.7 289.3L102.0 289.0L103.3 289.3zM96.3 300.0L95.9 300.5L95.0 300.7L94.1 300.5L93.7 300.0L94.1 299.5L95.0 299.3L95.9 299.5zM87.6 309.0L87.1 309.6L86.0 309.8L84.9 309.6L84.4 309.0L84.9 308.4L86.0 308.2L87.1 308.4zM91.0 318.0L90.7 318.6L90.0 318.8L89.3 318.6L89.0 318.0L89.3 317.4L90.0 317.2L90.7 317.4zM66.1 465.6L65.5 465.8L64.7 465.5L64.1 465.0L63.9 464.4L64.5 464.2L65.3 464.5L65.9 465.0zM62.8 470.0L62.6 470.4L62.0 470.5L61.4 470.4L61.2 470.0L61.4 469.6L62.0 469.5L62.6 469.6zM69.7 468.0L69.5 468.4L69.0 468.5L68.5 468.4L68.3 468.0L68.5 467.6L69.0 467.5L69.5 467.6zM69.5 501.0L69.4 501.4L69.0 501.5L68.6 501.4L68.5 501.0L68.6 500.6L69.0 500.5L69.4 500.6zM87.6 506.0L87.4 506.4L87.0 506.6L86.6 506.4L86.4 506.0L86.6 505.6L87.0 505.4L87.4 505.6zM316.2 465.0L316.0 465.4L315.5 465.5L315.0 465.4L314.8 465.0L315.0 464.6L315.5 464.5L316.0 464.6zM186.6 223.0L186.4 223.4L186.0 223.6L185.6 223.4L185.4 223.0L185.6 222.6L186.0 222.4L186.4 222.6zM352.6 318.0L352.4 318.4L352.0 318.6L351.6 318.4L351.4 318.0L351.6 317.6L352.0 317.4L352.4 317.6zM102.1 339.8L101.9 339.9L101.6 339.9L101.3 339.8L101.2 339.5L101.4 339.4L101.7 339.4L102.0 339.5zM101.6 308.0L101.5 308.1L101.2 308.2L100.9 308.0L100.8 307.8L101.0 307.6L101.3 307.6L101.6 307.7zM89.4 312.5L89.2 312.4L89.0 312.2L89.1 311.9L89.2 311.7L89.5 311.8L89.6 312.0L89.6 312.3zM90.6 314.9L90.3 314.8L90.1 314.6L90.1 314.2L90.3 314.0L90.6 314.1L90.8 314.3L90.8 314.7zM87.0 331.7L86.6 332.1L85.9 332.1L85.3 331.7L85.1 331.2L85.5 330.9L86.2 330.9L86.8 331.2zM105.8 306.0L105.6 306.2L105.2 306.2L104.8 306.0L104.7 305.8L104.9 305.6L105.3 305.6L105.7 305.8zM107.0 309.3L106.6 309.5L106.0 309.4L105.6 308.9L105.7 308.4L106.1 308.2L106.6 308.4L107.0 308.9zM104.7 307.4L104.3 307.2L104.0 306.7L104.0 306.1L104.3 305.7L104.7 305.9L105.0 306.4L105.0 307.0zM90.6 314.4L89.9 314.5L89.2 314.1L89.0 313.3L89.3 312.6L90.1 312.5L90.7 312.9L91.0 313.7zM93.1 315.3L93.0 315.1L93.0 314.8L93.1 314.5L93.3 314.4L93.5 314.5L93.4 314.9L93.3 315.2zM109.1 341.3L109.0 341.0L109.2 340.7L109.5 340.4L109.8 340.5L109.9 340.7L109.7 341.1L109.3 341.4zM103.7 303.7L103.7 303.4L104.0 303.1L104.4 303.0L104.7 303.2L104.7 303.5L104.4 303.8L104.0 303.9zM89.3 319.2L88.9 319.1L88.5 318.6L88.4 318.1L88.6 317.7L89.0 317.8L89.3 318.2L89.5 318.8zM108.7 349.9L108.3 349.5L108.2 348.9L108.6 348.3L109.2 348.2L109.6 348.6L109.7 349.2L109.3 349.7zM85.0 332.4L84.5 332.5L84.1 332.2L83.9 331.6L84.2 331.2L84.7 331.1L85.1 331.5L85.3 332.0zM98.7 337.7L98.4 337.1L98.6 336.3L99.2 335.9L99.9 336.0L100.2 336.6L100.0 337.4L99.4 337.8zM108.6 343.9L108.6 343.4L108.9 343.0L109.5 342.9L109.8 343.2L109.9 343.7L109.5 344.1L109.0 344.2zM94.2 337.2L94.2 336.7L94.6 336.3L95.2 336.1L95.6 336.3L95.6 336.8L95.2 337.2L94.6 337.4zM84.4 330.7L84.3 330.3L84.5 329.8L84.9 329.5L85.2 329.5L85.4 329.8L85.2 330.3L84.8 330.7zM110.0 344.6L109.6 344.6L109.2 344.3L109.0 343.8L109.2 343.5L109.6 343.4L110.0 343.7L110.2 344.2zM87.2 325.6L86.9 325.0L87.1 324.3L87.7 323.9L88.4 324.0L88.7 324.6L88.5 325.4L87.9 325.8zM84.5 335.9L84.5 335.5L84.8 335.0L85.4 334.8L85.8 334.9L85.8 335.4L85.5 335.8L85.0 336.1zM97.5 234.1L97.1 234.3L96.5 234.2L96.0 233.8L95.9 233.3L96.3 233.1L97.0 233.2L97.5 233.6zM85.0 275.4L84.8 275.0L84.8 274.5L85.2 274.2L85.6 274.2L85.9 274.5L85.8 275.0L85.4 275.4zM106.7 298.0L106.3 297.8L106.1 297.2L106.2 296.6L106.5 296.4L106.9 296.6L107.1 297.1L107.0 297.7zM93.2 279.9L93.0 279.5L93.3 279.0L93.7 278.8L94.2 278.9L94.3 279.3L94.1 279.8L93.6 280.1zM108.2 287.1L107.9 286.6L108.0 285.9L108.5 285.3L109.0 285.3L109.4 285.8L109.3 286.5L108.8 287.0zM93.3 238.1L93.2 237.7L93.4 237.3L93.8 237.0L94.2 237.2L94.3 237.6L94.1 238.0L93.7 238.2zM97.0 234.5L96.9 234.1L97.4 233.6L97.9 233.3L98.3 233.4L98.3 233.8L97.9 234.3L97.4 234.6zM89.6 255.2L89.2 255.4L88.6 255.2L88.1 254.8L88.1 254.4L88.4 254.2L89.1 254.3L89.6 254.7zM97.6 281.4L97.7 280.8L98.3 280.5L99.0 280.5L99.3 281.0L99.2 281.6L98.6 281.9L97.9 281.9zM99.1 253.4L99.1 253.0L99.5 252.7L100.0 252.7L100.3 253.0L100.2 253.4L99.9 253.7L99.4 253.7zM98.2 266.3L98.4 266.0L99.0 265.8L99.5 265.9L99.8 266.1L99.6 266.4L99.1 266.6L98.5 266.6zM98.5 260.1L98.0 259.9L97.8 259.3L97.9 258.6L98.4 258.4L98.9 258.6L99.1 259.2L99.0 259.8zM102.6 236.6L102.8 236.2L103.3 236.0L103.8 236.0L104.1 236.4L103.9 236.7L103.4 237.0L102.9 236.9zM93.6 245.3L93.2 245.7L92.6 245.7L92.2 245.3L92.2 244.7L92.6 244.3L93.2 244.3L93.6 244.7zM186.8 201.1L186.8 200.7L187.1 200.4L187.5 200.4L187.8 200.7L187.8 201.1L187.5 201.4L187.1 201.4zM184.1 185.4L183.6 185.9L182.9 185.9L182.4 185.4L182.3 184.7L182.8 184.2L183.6 184.2L184.1 184.7zM207.2 205.5L206.8 205.9L206.1 205.9L205.5 205.6L205.3 205.2L205.7 204.9L206.3 204.8L207.0 205.1zM193.5 174.0L193.3 174.4L192.8 174.5L192.3 174.4L192.2 174.0L192.4 173.6L192.8 173.5L193.3 173.7zM184.6 200.6L184.5 200.1L184.9 199.5L185.5 199.4L186.0 199.7L186.1 200.2L185.7 200.8L185.1 200.9zM188.0 182.3L188.2 181.9L188.7 181.7L189.3 181.7L189.6 182.0L189.4 182.4L188.9 182.6L188.3 182.6zM205.9 145.1L205.6 145.6L205.1 145.7L204.5 145.4L204.4 144.9L204.7 144.5L205.2 144.4L205.7 144.6zM194.0 180.8L193.6 180.7L193.4 180.4L193.5 180.1L193.7 179.9L194.0 180.0L194.2 180.2L194.2 180.6zM178.0 199.8L178.1 199.5L178.6 199.3L179.1 199.4L179.3 199.7L179.2 200.0L178.7 200.2L178.2 200.2zM195.8 206.5L195.2 206.7L194.5 206.5L194.2 205.8L194.4 205.2L195.0 204.9L195.7 205.2L196.0 205.9zM180.5 199.7L179.9 199.7L179.5 199.2L179.4 198.6L179.7 198.1L180.3 198.1L180.7 198.6L180.8 199.2zM207.7 143.0L207.5 143.0L207.4 142.7L207.4 142.4L207.5 142.2L207.7 142.3L207.9 142.5L207.9 142.9zM179.4 185.3L178.9 185.3L178.6 184.9L178.5 184.3L178.8 184.0L179.3 184.0L179.7 184.4L179.7 184.9zM206.0 145.3L205.8 145.1L205.8 144.8L206.0 144.5L206.4 144.5L206.6 144.7L206.6 145.1L206.4 145.3zM101.7 470.3L101.3 470.4L100.9 470.2L100.6 469.8L100.6 469.5L100.9 469.4L101.4 469.6L101.7 470.0zM101.4 468.6L101.3 468.4L101.4 468.1L101.7 467.9L101.9 468.0L102.0 468.2L101.9 468.5L101.6 468.6zM81.3 451.9L81.4 451.5L81.8 451.2L82.3 451.2L82.6 451.5L82.5 452.0L82.1 452.2L81.6 452.2zM81.7 480.1L81.5 479.9L81.5 479.5L81.6 479.2L81.9 479.0L82.1 479.2L82.1 479.6L82.0 480.0zM108.8 446.6L108.6 446.9L108.1 446.9L107.8 446.7L107.7 446.3L107.9 445.9L108.4 445.9L108.8 446.2zM92.4 512.7L91.9 512.7L91.6 512.3L91.7 511.8L92.0 511.5L92.5 511.5L92.9 511.9L92.8 512.4zM110.5 520.7L110.6 520.2L111.1 519.9L111.6 520.0L111.9 520.5L111.8 521.0L111.3 521.3L110.8 521.2zM84.9 482.1L85.0 481.8L85.3 481.7L85.6 481.8L85.7 482.0L85.6 482.3L85.3 482.4L85.0 482.3zM70.9 462.2L70.7 462.0L70.7 461.6L70.9 461.4L71.2 461.3L71.4 461.5L71.4 461.8L71.3 462.1zM73.1 458.8L73.1 458.6L73.2 458.3L73.5 458.1L73.8 458.2L73.8 458.4L73.6 458.7L73.3 458.9zM76.4 493.5L76.3 493.7L76.0 493.8L75.7 493.7L75.6 493.5L75.7 493.2L76.0 493.1L76.3 493.2zM109.8 525.2L109.4 525.2L109.0 524.9L108.7 524.4L108.8 524.1L109.1 524.1L109.6 524.4L109.8 524.8zM133.7 378.4L133.8 378.0L134.2 377.8L134.6 377.8L134.9 378.0L134.8 378.4L134.4 378.6L134.0 378.6zM133.5 379.1L133.3 379.0L133.1 378.8L132.9 378.5L133.0 378.3L133.2 378.3L133.5 378.5L133.6 378.8zM136.4 386.0L136.3 385.7L136.5 385.3L136.9 385.1L137.2 385.3L137.3 385.6L137.1 385.9L136.8 386.1zM138.8 368.8L138.5 368.5L138.4 368.1L138.7 367.6L139.1 367.5L139.4 367.7L139.5 368.2L139.2 368.7zM246.3 130.3L246.1 130.5L245.7 130.5L245.4 130.4L245.2 130.2L245.4 130.0L245.8 129.9L246.2 130.1zM232.5 136.6L232.3 136.4L232.3 135.9L232.5 135.6L232.8 135.5L233.1 135.7L233.1 136.2L232.9 136.5zM238.9 132.5L238.8 132.2L238.9 131.8L239.2 131.5L239.5 131.5L239.6 131.7L239.5 132.1L239.2 132.4zM239.7 134.1L239.6 133.8L239.7 133.4L240.0 133.2L240.3 133.2L240.4 133.5L240.3 133.9L240.1 134.1zM127.4 288.6L127.2 289.2L126.7 289.4L126.1 289.2L125.9 288.6L126.1 288.1L126.7 287.9L127.2 288.1zM128.9 289.5L128.6 290.1L128.0 290.4L127.3 290.1L127.0 289.5L127.3 288.8L128.0 288.5L128.6 288.8zM125.5 285.6L125.3 286.2L124.7 286.4L124.2 286.2L124.0 285.6L124.2 285.1L124.7 284.8L125.3 285.1zM128.2 286.5L128.0 287.0L127.5 287.3L126.9 287.0L126.7 286.5L126.9 286.0L127.5 285.7L128.0 286.0zM125.5 290.1L125.3 290.6L124.9 290.8L124.4 290.6L124.2 290.1L124.4 289.6L124.9 289.4L125.3 289.6zM123.8 288.4L123.5 289.1L122.8 289.3L122.1 289.1L121.9 288.4L122.1 287.7L122.8 287.4L123.5 287.7zM127.4 287.2L127.1 287.8L126.5 288.1L125.9 287.8L125.7 287.2L125.9 286.6L126.5 286.3L127.1 286.6zM124.7 287.1L124.6 287.5L124.2 287.7L123.8 287.5L123.6 287.1L123.8 286.8L124.2 286.6L124.6 286.8zM123.9 285.7L123.7 286.3L123.2 286.5L122.7 286.3L122.4 285.7L122.7 285.2L123.2 285.0L123.7 285.2zM125.5 282.0L125.3 282.6L124.7 282.8L124.1 282.6L123.8 282.0L124.1 281.4L124.7 281.1L125.3 281.4zM126.0 283.8L125.9 284.2L125.4 284.4L124.9 284.2L124.7 283.8L124.9 283.3L125.4 283.1L125.9 283.3zM125.2 283.7L125.1 284.1L124.7 284.3L124.3 284.1L124.1 283.7L124.3 283.4L124.7 283.2L125.1 283.4zM128.3 290.7L128.1 291.3L127.5 291.5L126.9 291.3L126.7 290.7L126.9 290.1L127.5 289.8L128.1 290.1zM128.2 285.5L127.9 286.1L127.3 286.4L126.6 286.1L126.4 285.5L126.6 284.9L127.3 284.6L127.9 284.9zM121.1 345.3L120.9 345.8L120.4 346.0L120.0 345.8L119.8 345.3L120.0 344.9L120.4 344.7L120.9 344.9zM128.7 339.8L128.5 340.4L127.9 340.6L127.4 340.4L127.1 339.8L127.4 339.3L127.9 339.0L128.5 339.3zM120.2 343.6L120.0 344.2L119.4 344.4L118.7 344.2L118.5 343.6L118.7 343.0L119.4 342.7L120.0 343.0zM118.6 341.1L118.4 341.5L118.0 341.6L117.6 341.5L117.5 341.1L117.6 340.7L118.0 340.5L118.4 340.7zM122.4 339.5L122.2 340.1L121.6 340.4L121.0 340.1L120.7 339.5L121.0 338.9L121.6 338.7L122.2 338.9zM127.5 342.4L127.4 342.8L127.0 343.0L126.6 342.8L126.4 342.4L126.6 342.0L127.0 341.8L127.4 342.0zM124.9 339.4L124.7 339.7L124.4 339.8L124.1 339.7L124.0 339.4L124.1 339.1L124.4 339.0L124.7 339.1zM128.5 341.6L128.3 342.1L127.9 342.3L127.4 342.1L127.2 341.6L127.4 341.2L127.9 341.0L128.3 341.2zM128.9 347.3L128.7 347.8L128.3 347.9L127.8 347.8L127.6 347.3L127.8 346.9L128.3 346.7L128.7 346.9zM121.1 341.5L120.9 342.1L120.3 342.4L119.7 342.1L119.4 341.5L119.7 340.9L120.3 340.6L120.9 340.9zM128.7 340.7L128.4 341.2L127.9 341.5L127.3 341.2L127.0 340.7L127.3 340.1L127.9 339.8L128.4 340.1zM122.4 343.0L122.2 343.4L121.9 343.5L121.6 343.4L121.4 343.0L121.6 342.7L121.9 342.5L122.2 342.7zM203.1 205.0L203.0 205.3L202.7 205.4L202.4 205.3L202.3 205.0L202.4 204.7L202.7 204.5L203.0 204.7zM198.7 199.3L198.5 199.8L198.0 200.0L197.6 199.8L197.4 199.3L197.6 198.9L198.0 198.7L198.5 198.9zM187.6 198.7L187.4 199.2L187.0 199.3L186.5 199.2L186.3 198.7L186.5 198.3L187.0 198.1L187.4 198.3zM192.6 204.3L192.4 204.8L191.9 205.0L191.5 204.8L191.3 204.3L191.5 203.8L191.9 203.6L192.4 203.8zM200.1 198.9L200.0 199.4L199.5 199.5L199.1 199.4L199.0 198.9L199.1 198.5L199.5 198.4L200.0 198.5zM204.2 201.1L204.1 201.4L203.8 201.5L203.6 201.4L203.4 201.1L203.6 200.8L203.8 200.7L204.1 200.8zM190.8 200.2L190.7 200.6L190.2 200.7L189.8 200.6L189.6 200.2L189.8 199.7L190.2 199.6L190.7 199.7zM190.2 199.3L190.0 199.6L189.7 199.7L189.4 199.6L189.3 199.3L189.4 199.0L189.7 198.8L190.0 199.0zM282.4 459.5L282.4 459.1L282.7 458.7L283.2 458.7L283.5 459.0L283.5 459.4L283.1 459.7L282.7 459.8zM267.7 296.9L267.4 296.6L267.5 296.1L267.8 295.9L268.3 295.9L268.5 296.2L268.5 296.7L268.1 297.0zM205.5 416.1L205.1 416.0L204.9 415.7L205.0 415.3L205.3 415.1L205.6 415.2L205.8 415.5L205.8 415.8zM256.0 384.3L255.6 384.4L255.3 384.2L255.2 383.9L255.4 383.6L255.7 383.5L256.0 383.7L256.1 384.0zM199.8 463.3L199.7 463.0L199.9 462.7L200.2 462.5L200.5 462.6L200.6 462.9L200.5 463.2L200.1 463.4zM198.6 311.2L198.6 310.8L199.0 310.5L199.5 310.4L199.8 310.7L199.7 311.1L199.4 311.4L198.9 311.4zM242.3 448.3L241.9 448.1L241.7 447.7L241.9 447.3L242.3 447.1L242.7 447.2L242.9 447.7L242.8 448.1zM185.7 391.9L185.4 391.5L185.5 391.0L185.8 390.6L186.3 390.6L186.6 391.0L186.5 391.5L186.1 391.9zM306.3 380.4L306.0 380.0L306.1 379.5L306.5 379.2L306.9 379.3L307.2 379.7L307.1 380.2L306.7 380.5zM185.2 456.4L184.8 456.6L184.5 456.4L184.3 456.1L184.4 455.8L184.7 455.6L185.1 455.8L185.3 456.1zM238.7 454.7L238.2 454.9L237.6 454.7L237.3 454.2L237.5 453.7L238.0 453.4L238.6 453.6L238.8 454.2zM248.5 294.2L248.3 294.6L247.8 294.7L247.3 294.5L247.1 294.1L247.4 293.7L247.9 293.6L248.3 293.8zM269.9 437.6L269.5 437.9L269.0 437.8L268.7 437.4L268.8 436.9L269.2 436.6L269.7 436.7L270.0 437.1zM248.7 356.4L248.7 356.0L248.9 355.7L249.4 355.5L249.7 355.7L249.8 356.0L249.5 356.4L249.1 356.6zM164.0 493.5L163.9 493.1L164.1 492.7L164.6 492.5L165.0 492.7L165.1 493.1L164.9 493.6L164.4 493.7zM197.9 272.9L197.6 272.9L197.3 272.6L197.1 272.2L197.3 271.9L197.6 271.9L197.9 272.2L198.1 272.6zM274.8 382.5L274.5 382.8L274.1 382.9L273.8 382.6L273.7 382.2L274.0 381.9L274.4 381.9L274.7 382.2zM313.8 280.2L313.7 279.9L313.8 279.5L314.1 279.3L314.4 279.3L314.6 279.6L314.5 280.0L314.1 280.3zM222.9 293.6L222.5 293.4L222.3 292.8L222.4 292.2L222.8 291.9L223.3 292.1L223.5 292.7L223.3 293.3zM179.5 362.6L179.0 362.7L178.6 362.4L178.3 362.0L178.4 361.5L178.8 361.4L179.3 361.7L179.6 362.1zM328.2 271.6L327.8 271.5L327.6 271.2L327.6 270.7L327.9 270.5L328.2 270.5L328.5 270.9L328.5 271.4zM164.7 240.6L164.5 240.0L164.7 239.4L165.3 239.1L165.8 239.3L166.1 239.8L165.9 240.4L165.3 240.8zM196.1 304.1L195.7 304.0L195.5 303.5L195.5 303.0L195.9 302.8L196.3 302.9L196.5 303.4L196.4 303.8zM336.3 336.1L336.0 335.8L335.9 335.4L336.2 335.0L336.7 335.0L337.0 335.3L337.0 335.7L336.7 336.1zM279.4 247.2L279.4 246.8L279.7 246.5L280.2 246.4L280.5 246.7L280.5 247.1L280.2 247.4L279.8 247.5zM241.9 344.5L241.8 344.0L242.1 343.5L242.6 343.2L243.1 343.4L243.2 343.9L242.9 344.4L242.4 344.7zM193.5 331.0L193.2 331.2L192.9 331.1L192.6 330.8L192.6 330.5L192.9 330.3L193.3 330.4L193.6 330.6zM190.8 292.8L190.5 292.7L190.2 292.3L190.3 291.8L190.6 291.6L191.0 291.7L191.2 292.1L191.2 292.6zM322.2 289.8L322.1 289.5L322.2 289.1L322.5 288.8L322.9 288.8L323.0 289.1L322.9 289.6L322.6 289.9zM222.9 309.9L222.6 310.0L222.3 309.8L222.2 309.5L222.2 309.3L222.5 309.2L222.8 309.4L223.0 309.7zM292.5 308.0L292.6 307.7L292.9 307.5L293.4 307.5L293.6 307.8L293.5 308.1L293.1 308.3L292.7 308.3zM222.7 452.1L222.4 452.6L221.9 452.8L221.4 452.5L221.2 452.0L221.5 451.5L222.0 451.3L222.5 451.6zM214.7 341.9L214.3 341.9L214.0 341.7L214.0 341.4L214.2 341.1L214.5 341.0L214.8 341.2L214.9 341.6zM304.5 380.9L304.2 381.0L303.9 380.9L303.7 380.6L303.8 380.3L304.1 380.2L304.4 380.3L304.6 380.6zM158.6 274.3L158.2 274.3L157.8 274.0L157.6 273.5L157.8 273.2L158.2 273.2L158.6 273.5L158.7 274.0zM235.2 388.1L234.8 388.2L234.5 388.1L234.3 387.7L234.5 387.4L234.8 387.3L235.1 387.4L235.3 387.8zM295.4 423.6L295.1 423.6L294.8 423.4L294.7 423.1L294.8 422.8L295.1 422.7L295.4 422.9L295.5 423.3zM293.0 347.9L292.6 348.1L292.2 348.0L292.0 347.6L292.1 347.1L292.5 347.0L292.9 347.1L293.1 347.5zM208.9 330.1L208.8 330.3L208.4 330.4L208.0 330.3L207.9 330.0L208.1 329.7L208.4 329.7L208.8 329.8zM276.5 394.7L276.0 394.9L275.5 394.6L275.3 394.0L275.6 393.5L276.2 393.4L276.7 393.7L276.8 394.2zM192.6 430.2L192.6 429.6L192.9 429.2L193.5 429.2L193.9 429.6L193.9 430.1L193.5 430.5L193.0 430.5zM197.1 413.9L196.8 413.9L196.5 413.6L196.5 413.2L196.8 413.0L197.1 413.0L197.3 413.3L197.3 413.7zM162.4 341.6L162.0 341.7L161.6 341.5L161.5 341.1L161.6 340.7L162.0 340.6L162.4 340.9L162.6 341.3zM181.4 347.3L181.2 346.9L181.3 346.5L181.6 346.2L182.0 346.1L182.2 346.5L182.1 346.9L181.8 347.3zM198.5 257.2L198.2 257.5L197.7 257.4L197.4 257.1L197.4 256.7L197.7 256.5L198.2 256.6L198.5 256.9zM267.2 433.4L267.0 433.9L266.5 434.0L266.0 433.8L265.9 433.4L266.1 432.9L266.6 432.8L267.0 433.0zM228.7 335.7L228.6 336.0L228.2 336.0L227.9 335.9L227.8 335.6L228.0 335.3L228.3 335.3L228.7 335.4zM249.6 400.4L249.2 400.5L248.8 400.3L248.5 399.8L248.7 399.5L249.0 399.3L249.5 399.5L249.7 400.0zM155.3 331.2L154.7 331.4L154.2 331.1L154.0 330.6L154.2 330.1L154.7 329.9L155.2 330.2L155.5 330.7zM283.0 284.1L283.1 283.6L283.5 283.4L284.0 283.5L284.2 283.8L284.1 284.3L283.7 284.5L283.2 284.4zM222.2 397.9L221.8 397.4L221.8 396.8L222.2 396.3L222.8 396.3L223.2 396.7L223.2 397.4L222.8 397.8zM273.6 349.5L273.6 349.1L273.9 348.8L274.3 348.7L274.7 348.8L274.7 349.2L274.4 349.6L274.0 349.7zM326.7 341.1L326.3 341.4L325.7 341.3L325.3 340.9L325.2 340.4L325.6 340.1L326.2 340.2L326.6 340.6zM251.9 319.8L251.6 320.1L251.2 320.0L250.9 319.7L250.9 319.2L251.2 318.9L251.7 319.0L252.0 319.3zM189.2 296.3L189.0 296.7L188.5 296.8L188.0 296.7L187.8 296.3L188.0 295.9L188.5 295.7L189.0 295.9zM258.5 344.7L258.3 344.4L258.3 344.0L258.6 343.7L259.0 343.7L259.2 344.0L259.2 344.4L258.9 344.7zM259.0 411.2L259.1 410.7L259.5 410.4L260.0 410.6L260.3 411.0L260.2 411.5L259.7 411.7L259.2 411.6zM216.2 331.2L216.0 330.7L216.2 330.1L216.7 329.8L217.2 329.9L217.4 330.4L217.2 330.9L216.7 331.3zM289.8 429.5L289.3 429.9L288.7 429.8L288.3 429.3L288.3 428.7L288.8 428.3L289.5 428.4L289.9 428.9zM274.8 372.8L274.3 372.9L273.9 372.6L273.7 372.2L273.9 371.8L274.3 371.7L274.7 371.9L274.9 372.4zM300.1 385.3L299.7 385.3L299.4 385.1L299.3 384.7L299.5 384.4L299.8 384.4L300.2 384.6L300.3 385.0zM186.0 379.1L185.8 379.3L185.5 379.3L185.2 379.2L185.1 378.9L185.3 378.7L185.6 378.6L186.0 378.8zM170.1 434.7L170.0 434.4L170.2 434.1L170.5 433.9L170.8 434.0L170.9 434.4L170.7 434.7L170.4 434.8zM246.9 277.3L246.6 277.8L246.0 277.9L245.5 277.6L245.4 277.0L245.7 276.5L246.3 276.4L246.8 276.7zM200.3 377.8L200.1 377.3L200.3 376.8L200.8 376.5L201.2 376.5L201.5 377.0L201.3 377.5L200.8 377.9zM200.0 438.0L199.8 437.6L200.0 437.2L200.4 437.0L200.8 437.1L200.9 437.5L200.7 437.9L200.3 438.1zM262.9 352.4L262.8 351.9L263.1 351.4L263.7 351.3L264.1 351.6L264.2 352.1L263.8 352.5L263.3 352.6zM310.7 266.7L310.3 266.9L309.9 266.7L309.7 266.3L309.8 265.9L310.2 265.7L310.6 265.9L310.8 266.3zM186.3 234.1L186.4 233.6L186.8 233.3L187.3 233.4L187.6 233.9L187.5 234.4L187.0 234.6L186.5 234.5zM177.0 430.0L176.5 429.9L176.2 429.6L176.2 429.1L176.5 428.8L177.0 428.9L177.3 429.2L177.3 429.7z" fill="#111" stroke="#000" stroke-width="0.5"/></defs>
<g filter="url(#soft)" stroke="#000" stroke-width="0.62" stroke-linejoin="round"><use href="#g0_0" fill="#fff"/><use href="#g0_1" fill="#fff"/><use href="#g0_2" fill="#fff"/><use href="#g0_3" fill="#fff"/><use href="#g1_0" fill="#e67fc6"/><use href="#g2_0" fill="#e854af"/><use href="#g3_0" fill="#e7298a"/><use href="#g4_0" fill="#c8086b"/><use href="#isl"/></g>
<g filter="url(#soft)"><g transform="translate(429,-4)" stroke="#000" stroke-width="0.62" stroke-linejoin="round"><use href="#g0_0" fill="#fff"/><use href="#g0_1" fill="#e7298a"/><use href="#g0_2" fill="#c8086b"/><use href="#g0_3" fill="#91104b"/><use href="#g1_0" fill="#fff"/><use href="#g2_0" fill="#fff"/><use href="#g3_0" fill="#fff"/><use href="#g4_0" fill="#fff"/><use href="#isl"/></g></g>
</svg>
<div class="ttl" style="left:169.3px">Map1 - 15-20% over 65</div>
<div class="ttl" style="left:585px">Map2 - 10-15% over 65</div>
<div class="lg" style="left:10px;top:3.5px"><div class="lt">Legend</div><div class="ln">test</div><div class="row" style="top:52.90px"><span class="sw" style="background:#e67fc6"></span><span class="lb">15 - 20</span></div><div class="row" style="top:71.15px"><span class="sw" style="background:#e854af"></span><span class="lb">20 - 25</span></div><div class="row" style="top:89.40px"><span class="sw" style="background:#e7298a"></span><span class="lb">25 - 30</span></div><div class="row" style="top:107.65px"><span class="sw" style="background:#c8086b"></span><span class="lb">30 - 35</span></div><div class="row" style="top:125.90px"><span class="sw" style="background:#91104b"></span><span class="lb">35 - 38.8</span></div></div>
<div class="lg" style="left:492.6px;top:9.6px"><div class="lt">Legend</div><div class="ln">test copy</div><div class="row" style="top:52.90px"><span class="sw" style="background:#e7298a"></span><span class="lb">10 - 12</span></div><div class="row" style="top:71.15px"><span class="sw" style="background:#c8086b"></span><span class="lb">12 - 14</span></div><div class="row" style="top:89.40px"><span class="sw" style="background:#91104b"></span><span class="lb">14 - 15</span></div></div>
</body></html>
